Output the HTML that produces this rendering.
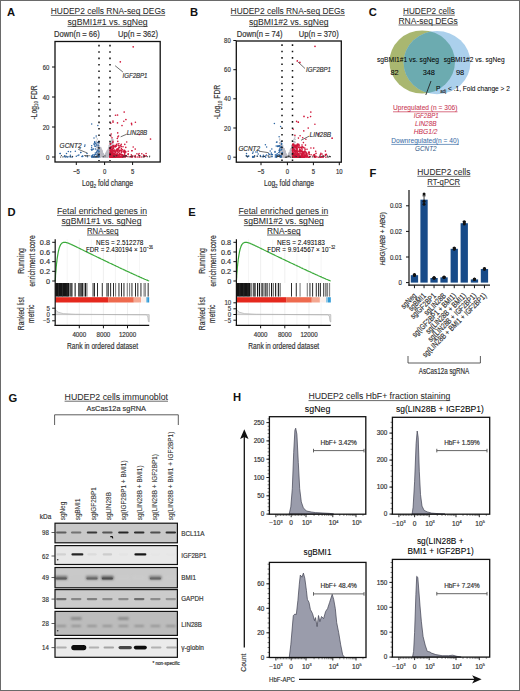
<!DOCTYPE html><html><head><meta charset="utf-8"><style>html,body{margin:0;padding:0;background:#fff}svg{display:block}text{font-family:"Liberation Sans",sans-serif}</style></head><body>
<svg width="520" height="691" viewBox="0 0 520 691">
<rect x="0.00" y="0.00" width="520.00" height="691.00" fill="#fff"/>
<text x="7.00" y="16.30" font-size="11.2" fill="#111" font-weight="bold">A</text>
<text x="50.80" y="14.00" font-size="8.4" textLength="114.40" lengthAdjust="spacingAndGlyphs" fill="#2a2a2a" stroke="#2a2a2a" stroke-width="0.05">HUDEP2 cells RNA-seq DEGs</text>
<line x1="50.80" y1="15.40" x2="165.20" y2="15.40" stroke="#2a2a2a" stroke-width="0.7"/>
<text x="67.50" y="25.00" font-size="8.4" textLength="80.20" lengthAdjust="spacingAndGlyphs" fill="#2a2a2a" stroke="#2a2a2a" stroke-width="0.05">sgBMI1#1 vs. sgNeg</text>
<line x1="67.50" y1="26.40" x2="147.70" y2="26.40" stroke="#2a2a2a" stroke-width="0.7"/>
<text x="54.00" y="37.00" font-size="8.2" textLength="45.80" lengthAdjust="spacingAndGlyphs" fill="#333" stroke="#333" stroke-width="0.18">Down(n = 66)</text>
<text x="118.00" y="37.00" font-size="8.2" textLength="40.00" lengthAdjust="spacingAndGlyphs" fill="#333" stroke="#333" stroke-width="0.18">Up(n = 362)</text>
<circle cx="98.5" cy="144.0" r="0.75" fill="#bcbcc4"/>
<circle cx="100.5" cy="152.5" r="0.75" fill="#bcbcc4"/>
<circle cx="107.1" cy="154.0" r="0.75" fill="#bcbcc4"/>
<circle cx="96.7" cy="142.6" r="0.75" fill="#bcbcc4"/>
<circle cx="109.0" cy="157.0" r="0.75" fill="#bcbcc4"/>
<circle cx="108.3" cy="154.8" r="0.75" fill="#bcbcc4"/>
<circle cx="111.3" cy="156.8" r="0.75" fill="#bcbcc4"/>
<circle cx="105.3" cy="155.6" r="0.75" fill="#bcbcc4"/>
<circle cx="99.8" cy="154.8" r="0.75" fill="#bcbcc4"/>
<circle cx="99.9" cy="152.4" r="0.75" fill="#bcbcc4"/>
<circle cx="100.1" cy="155.1" r="0.75" fill="#bcbcc4"/>
<circle cx="103.9" cy="156.8" r="0.75" fill="#bcbcc4"/>
<circle cx="110.3" cy="149.4" r="0.75" fill="#bcbcc4"/>
<circle cx="99.3" cy="143.5" r="0.75" fill="#bcbcc4"/>
<circle cx="98.2" cy="151.8" r="0.75" fill="#bcbcc4"/>
<circle cx="108.1" cy="149.8" r="0.75" fill="#bcbcc4"/>
<circle cx="110.1" cy="149.6" r="0.75" fill="#bcbcc4"/>
<circle cx="106.1" cy="153.7" r="0.75" fill="#bcbcc4"/>
<circle cx="104.7" cy="156.9" r="0.75" fill="#bcbcc4"/>
<circle cx="100.3" cy="149.6" r="0.75" fill="#bcbcc4"/>
<circle cx="99.1" cy="149.6" r="0.75" fill="#bcbcc4"/>
<circle cx="107.5" cy="154.6" r="0.75" fill="#bcbcc4"/>
<circle cx="104.7" cy="156.7" r="0.75" fill="#bcbcc4"/>
<circle cx="102.8" cy="156.0" r="0.75" fill="#bcbcc4"/>
<circle cx="96.9" cy="142.6" r="0.75" fill="#bcbcc4"/>
<circle cx="106.2" cy="155.9" r="0.75" fill="#bcbcc4"/>
<circle cx="104.6" cy="156.9" r="0.75" fill="#bcbcc4"/>
<circle cx="105.3" cy="155.9" r="0.75" fill="#bcbcc4"/>
<circle cx="104.8" cy="156.5" r="0.75" fill="#bcbcc4"/>
<circle cx="103.9" cy="156.6" r="0.75" fill="#bcbcc4"/>
<circle cx="112.3" cy="156.9" r="0.75" fill="#bcbcc4"/>
<circle cx="110.0" cy="145.1" r="0.75" fill="#bcbcc4"/>
<circle cx="109.8" cy="150.8" r="0.75" fill="#bcbcc4"/>
<circle cx="103.4" cy="156.8" r="0.75" fill="#bcbcc4"/>
<circle cx="105.8" cy="156.5" r="0.75" fill="#bcbcc4"/>
<circle cx="104.3" cy="156.8" r="0.75" fill="#bcbcc4"/>
<circle cx="105.2" cy="156.0" r="0.75" fill="#bcbcc4"/>
<circle cx="103.9" cy="157.0" r="0.75" fill="#bcbcc4"/>
<circle cx="99.2" cy="148.8" r="0.75" fill="#bcbcc4"/>
<circle cx="109.6" cy="146.8" r="0.75" fill="#bcbcc4"/>
<circle cx="100.5" cy="148.6" r="0.75" fill="#bcbcc4"/>
<circle cx="97.6" cy="156.9" r="0.75" fill="#bcbcc4"/>
<circle cx="108.9" cy="155.3" r="0.75" fill="#bcbcc4"/>
<circle cx="106.7" cy="156.0" r="0.75" fill="#bcbcc4"/>
<circle cx="98.9" cy="151.8" r="0.75" fill="#bcbcc4"/>
<circle cx="100.8" cy="151.0" r="0.75" fill="#bcbcc4"/>
<circle cx="101.6" cy="155.5" r="0.75" fill="#bcbcc4"/>
<circle cx="102.7" cy="155.6" r="0.75" fill="#bcbcc4"/>
<circle cx="98.0" cy="143.6" r="0.75" fill="#bcbcc4"/>
<circle cx="99.7" cy="149.5" r="0.75" fill="#bcbcc4"/>
<circle cx="96.5" cy="156.8" r="0.75" fill="#bcbcc4"/>
<circle cx="108.3" cy="155.6" r="0.75" fill="#bcbcc4"/>
<circle cx="107.6" cy="154.0" r="0.75" fill="#bcbcc4"/>
<circle cx="112.6" cy="142.5" r="0.75" fill="#bcbcc4"/>
<circle cx="99.9" cy="150.6" r="0.75" fill="#bcbcc4"/>
<circle cx="105.9" cy="156.0" r="0.75" fill="#bcbcc4"/>
<circle cx="97.2" cy="151.1" r="0.75" fill="#bcbcc4"/>
<circle cx="110.9" cy="152.0" r="0.75" fill="#bcbcc4"/>
<circle cx="101.4" cy="149.6" r="0.75" fill="#bcbcc4"/>
<circle cx="103.2" cy="156.7" r="0.75" fill="#bcbcc4"/>
<circle cx="111.0" cy="156.4" r="0.75" fill="#bcbcc4"/>
<circle cx="112.4" cy="149.4" r="0.75" fill="#bcbcc4"/>
<circle cx="110.8" cy="142.2" r="0.75" fill="#bcbcc4"/>
<circle cx="104.7" cy="156.9" r="0.75" fill="#bcbcc4"/>
<circle cx="99.7" cy="149.8" r="0.75" fill="#bcbcc4"/>
<circle cx="99.5" cy="155.7" r="0.75" fill="#bcbcc4"/>
<circle cx="101.2" cy="153.5" r="0.75" fill="#bcbcc4"/>
<circle cx="110.8" cy="151.5" r="0.75" fill="#bcbcc4"/>
<circle cx="99.6" cy="152.6" r="0.75" fill="#bcbcc4"/>
<circle cx="109.3" cy="154.1" r="0.75" fill="#bcbcc4"/>
<circle cx="107.5" cy="150.5" r="0.75" fill="#bcbcc4"/>
<circle cx="102.0" cy="151.4" r="0.75" fill="#bcbcc4"/>
<circle cx="104.3" cy="156.5" r="0.75" fill="#bcbcc4"/>
<circle cx="108.4" cy="156.4" r="0.75" fill="#bcbcc4"/>
<circle cx="111.5" cy="153.3" r="0.75" fill="#bcbcc4"/>
<circle cx="106.3" cy="154.0" r="0.75" fill="#bcbcc4"/>
<circle cx="101.9" cy="155.0" r="0.75" fill="#bcbcc4"/>
<circle cx="106.3" cy="152.7" r="0.75" fill="#bcbcc4"/>
<circle cx="98.5" cy="151.9" r="0.75" fill="#bcbcc4"/>
<circle cx="96.9" cy="155.5" r="0.75" fill="#bcbcc4"/>
<circle cx="109.4" cy="148.8" r="0.75" fill="#bcbcc4"/>
<circle cx="106.5" cy="153.8" r="0.75" fill="#bcbcc4"/>
<circle cx="105.8" cy="156.6" r="0.75" fill="#bcbcc4"/>
<circle cx="100.7" cy="148.9" r="0.75" fill="#bcbcc4"/>
<circle cx="111.7" cy="150.6" r="0.75" fill="#bcbcc4"/>
<circle cx="109.4" cy="153.4" r="0.75" fill="#bcbcc4"/>
<circle cx="107.5" cy="156.6" r="0.75" fill="#bcbcc4"/>
<circle cx="111.1" cy="156.5" r="0.75" fill="#bcbcc4"/>
<circle cx="112.8" cy="151.6" r="0.75" fill="#bcbcc4"/>
<circle cx="99.0" cy="153.6" r="0.75" fill="#bcbcc4"/>
<circle cx="97.9" cy="144.2" r="0.75" fill="#bcbcc4"/>
<circle cx="112.5" cy="142.8" r="0.75" fill="#bcbcc4"/>
<circle cx="100.5" cy="154.0" r="0.75" fill="#bcbcc4"/>
<circle cx="107.2" cy="156.9" r="0.75" fill="#bcbcc4"/>
<circle cx="112.7" cy="151.4" r="0.75" fill="#bcbcc4"/>
<circle cx="103.8" cy="156.6" r="0.75" fill="#bcbcc4"/>
<circle cx="111.5" cy="139.1" r="0.75" fill="#bcbcc4"/>
<circle cx="98.1" cy="153.7" r="0.75" fill="#bcbcc4"/>
<circle cx="112.7" cy="146.3" r="0.75" fill="#bcbcc4"/>
<circle cx="107.3" cy="155.4" r="0.75" fill="#bcbcc4"/>
<circle cx="101.4" cy="155.9" r="0.75" fill="#bcbcc4"/>
<circle cx="100.9" cy="149.1" r="0.75" fill="#bcbcc4"/>
<circle cx="107.2" cy="152.7" r="0.75" fill="#bcbcc4"/>
<circle cx="102.8" cy="155.9" r="0.75" fill="#bcbcc4"/>
<circle cx="101.5" cy="150.2" r="0.75" fill="#bcbcc4"/>
<circle cx="101.3" cy="154.5" r="0.75" fill="#bcbcc4"/>
<circle cx="105.9" cy="155.5" r="0.75" fill="#bcbcc4"/>
<circle cx="96.5" cy="154.3" r="0.75" fill="#bcbcc4"/>
<circle cx="105.5" cy="156.9" r="0.75" fill="#bcbcc4"/>
<circle cx="106.9" cy="155.3" r="0.75" fill="#bcbcc4"/>
<circle cx="104.5" cy="156.8" r="0.75" fill="#bcbcc4"/>
<circle cx="104.6" cy="157.0" r="0.75" fill="#bcbcc4"/>
<circle cx="112.1" cy="153.7" r="0.75" fill="#bcbcc4"/>
<circle cx="112.7" cy="143.5" r="0.75" fill="#bcbcc4"/>
<circle cx="98.0" cy="148.1" r="0.75" fill="#bcbcc4"/>
<circle cx="101.1" cy="151.9" r="0.75" fill="#bcbcc4"/>
<circle cx="111.5" cy="156.6" r="0.75" fill="#bcbcc4"/>
<circle cx="111.4" cy="142.8" r="0.75" fill="#bcbcc4"/>
<circle cx="110.3" cy="146.6" r="0.75" fill="#bcbcc4"/>
<circle cx="99.2" cy="153.1" r="0.75" fill="#bcbcc4"/>
<circle cx="108.2" cy="152.4" r="0.75" fill="#bcbcc4"/>
<circle cx="97.3" cy="139.1" r="0.75" fill="#bcbcc4"/>
<circle cx="105.4" cy="155.8" r="0.75" fill="#bcbcc4"/>
<circle cx="103.8" cy="156.4" r="0.75" fill="#bcbcc4"/>
<circle cx="100.5" cy="156.8" r="0.75" fill="#bcbcc4"/>
<circle cx="103.2" cy="155.9" r="0.75" fill="#bcbcc4"/>
<circle cx="102.2" cy="156.5" r="0.75" fill="#bcbcc4"/>
<circle cx="100.6" cy="149.9" r="0.75" fill="#bcbcc4"/>
<circle cx="102.9" cy="155.1" r="0.75" fill="#bcbcc4"/>
<circle cx="96.3" cy="147.1" r="0.75" fill="#bcbcc4"/>
<circle cx="107.1" cy="154.3" r="0.75" fill="#bcbcc4"/>
<circle cx="108.5" cy="154.9" r="0.75" fill="#bcbcc4"/>
<circle cx="104.2" cy="156.8" r="0.75" fill="#bcbcc4"/>
<circle cx="105.6" cy="154.6" r="0.75" fill="#bcbcc4"/>
<circle cx="100.8" cy="153.9" r="0.75" fill="#bcbcc4"/>
<circle cx="97.4" cy="147.5" r="0.75" fill="#bcbcc4"/>
<circle cx="98.9" cy="145.6" r="0.75" fill="#bcbcc4"/>
<circle cx="101.4" cy="151.4" r="0.75" fill="#bcbcc4"/>
<circle cx="102.4" cy="153.2" r="0.75" fill="#bcbcc4"/>
<circle cx="106.2" cy="153.5" r="0.75" fill="#bcbcc4"/>
<circle cx="112.3" cy="149.3" r="0.75" fill="#bcbcc4"/>
<circle cx="100.4" cy="154.9" r="0.75" fill="#bcbcc4"/>
<circle cx="108.9" cy="156.5" r="0.75" fill="#bcbcc4"/>
<circle cx="108.2" cy="154.1" r="0.75" fill="#bcbcc4"/>
<circle cx="99.0" cy="152.1" r="0.75" fill="#bcbcc4"/>
<circle cx="112.7" cy="141.4" r="0.75" fill="#bcbcc4"/>
<circle cx="100.7" cy="147.5" r="0.75" fill="#bcbcc4"/>
<circle cx="98.5" cy="144.9" r="0.75" fill="#bcbcc4"/>
<circle cx="107.3" cy="152.9" r="0.75" fill="#bcbcc4"/>
<circle cx="111.7" cy="142.4" r="0.75" fill="#bcbcc4"/>
<circle cx="109.7" cy="153.2" r="0.75" fill="#bcbcc4"/>
<circle cx="101.7" cy="156.0" r="0.75" fill="#bcbcc4"/>
<circle cx="112.3" cy="154.8" r="0.75" fill="#bcbcc4"/>
<circle cx="103.1" cy="156.6" r="0.75" fill="#bcbcc4"/>
<circle cx="100.4" cy="154.9" r="0.75" fill="#bcbcc4"/>
<circle cx="99.4" cy="154.7" r="0.75" fill="#bcbcc4"/>
<circle cx="106.7" cy="153.7" r="0.75" fill="#bcbcc4"/>
<circle cx="99.7" cy="153.8" r="0.75" fill="#bcbcc4"/>
<circle cx="100.8" cy="152.8" r="0.75" fill="#bcbcc4"/>
<circle cx="107.7" cy="150.8" r="0.75" fill="#bcbcc4"/>
<circle cx="112.6" cy="147.3" r="0.75" fill="#bcbcc4"/>
<circle cx="110.6" cy="146.3" r="0.75" fill="#bcbcc4"/>
<circle cx="102.6" cy="156.1" r="0.75" fill="#bcbcc4"/>
<circle cx="109.8" cy="155.5" r="0.75" fill="#bcbcc4"/>
<circle cx="105.4" cy="155.2" r="0.75" fill="#bcbcc4"/>
<circle cx="112.6" cy="154.6" r="0.75" fill="#bcbcc4"/>
<circle cx="105.8" cy="156.1" r="0.75" fill="#bcbcc4"/>
<circle cx="102.2" cy="156.4" r="0.75" fill="#bcbcc4"/>
<circle cx="103.6" cy="156.1" r="0.75" fill="#bcbcc4"/>
<circle cx="102.9" cy="153.8" r="0.75" fill="#bcbcc4"/>
<circle cx="104.5" cy="156.8" r="0.75" fill="#bcbcc4"/>
<circle cx="99.6" cy="157.0" r="0.75" fill="#bcbcc4"/>
<circle cx="106.2" cy="153.3" r="0.75" fill="#bcbcc4"/>
<circle cx="104.8" cy="156.6" r="0.75" fill="#bcbcc4"/>
<circle cx="110.2" cy="151.3" r="0.75" fill="#bcbcc4"/>
<circle cx="112.8" cy="152.7" r="0.75" fill="#bcbcc4"/>
<circle cx="106.6" cy="154.8" r="0.75" fill="#bcbcc4"/>
<circle cx="96.3" cy="150.0" r="0.75" fill="#bcbcc4"/>
<circle cx="103.0" cy="153.8" r="0.75" fill="#bcbcc4"/>
<circle cx="108.5" cy="148.2" r="0.75" fill="#bcbcc4"/>
<circle cx="104.5" cy="156.8" r="0.75" fill="#bcbcc4"/>
<circle cx="107.1" cy="153.6" r="0.75" fill="#bcbcc4"/>
<circle cx="106.8" cy="153.4" r="0.75" fill="#bcbcc4"/>
<circle cx="109.3" cy="146.9" r="0.75" fill="#bcbcc4"/>
<circle cx="109.9" cy="150.4" r="0.75" fill="#bcbcc4"/>
<circle cx="100.6" cy="149.7" r="0.75" fill="#bcbcc4"/>
<circle cx="105.3" cy="156.7" r="0.75" fill="#bcbcc4"/>
<circle cx="104.3" cy="156.9" r="0.75" fill="#bcbcc4"/>
<circle cx="104.8" cy="156.7" r="0.75" fill="#bcbcc4"/>
<circle cx="102.2" cy="155.4" r="0.75" fill="#bcbcc4"/>
<circle cx="104.7" cy="156.7" r="0.75" fill="#bcbcc4"/>
<circle cx="103.0" cy="154.3" r="0.75" fill="#bcbcc4"/>
<circle cx="99.7" cy="154.4" r="0.75" fill="#bcbcc4"/>
<circle cx="100.7" cy="156.3" r="0.75" fill="#bcbcc4"/>
<circle cx="105.0" cy="156.7" r="0.75" fill="#bcbcc4"/>
<circle cx="108.6" cy="155.4" r="0.75" fill="#bcbcc4"/>
<circle cx="108.2" cy="151.4" r="0.75" fill="#bcbcc4"/>
<circle cx="106.4" cy="156.0" r="0.75" fill="#bcbcc4"/>
<circle cx="99.1" cy="145.8" r="0.75" fill="#bcbcc4"/>
<circle cx="101.7" cy="155.3" r="0.75" fill="#bcbcc4"/>
<circle cx="108.1" cy="153.7" r="0.75" fill="#bcbcc4"/>
<circle cx="111.3" cy="148.6" r="0.75" fill="#bcbcc4"/>
<circle cx="103.5" cy="154.8" r="0.75" fill="#bcbcc4"/>
<circle cx="99.4" cy="151.4" r="0.75" fill="#bcbcc4"/>
<circle cx="112.5" cy="147.8" r="0.75" fill="#bcbcc4"/>
<circle cx="108.4" cy="152.5" r="0.75" fill="#bcbcc4"/>
<circle cx="105.0" cy="156.9" r="0.75" fill="#bcbcc4"/>
<circle cx="108.2" cy="153.7" r="0.75" fill="#bcbcc4"/>
<circle cx="100.2" cy="149.3" r="0.75" fill="#bcbcc4"/>
<circle cx="101.3" cy="156.3" r="0.75" fill="#bcbcc4"/>
<circle cx="104.5" cy="157.0" r="0.75" fill="#bcbcc4"/>
<circle cx="97.1" cy="145.4" r="0.75" fill="#bcbcc4"/>
<circle cx="99.8" cy="156.6" r="0.75" fill="#bcbcc4"/>
<circle cx="109.9" cy="144.9" r="0.75" fill="#bcbcc4"/>
<circle cx="102.0" cy="153.5" r="0.75" fill="#bcbcc4"/>
<circle cx="107.8" cy="156.3" r="0.75" fill="#bcbcc4"/>
<circle cx="104.5" cy="156.9" r="0.75" fill="#bcbcc4"/>
<circle cx="100.1" cy="148.8" r="0.75" fill="#bcbcc4"/>
<circle cx="105.9" cy="156.3" r="0.75" fill="#bcbcc4"/>
<circle cx="101.7" cy="152.6" r="0.75" fill="#bcbcc4"/>
<circle cx="112.9" cy="156.0" r="0.75" fill="#bcbcc4"/>
<circle cx="110.6" cy="153.0" r="0.75" fill="#bcbcc4"/>
<circle cx="105.9" cy="154.4" r="0.75" fill="#bcbcc4"/>
<circle cx="111.0" cy="148.9" r="0.75" fill="#bcbcc4"/>
<circle cx="111.5" cy="156.8" r="0.75" fill="#bcbcc4"/>
<circle cx="107.4" cy="156.7" r="0.75" fill="#bcbcc4"/>
<circle cx="98.4" cy="149.6" r="0.75" fill="#bcbcc4"/>
<circle cx="111.4" cy="156.7" r="0.75" fill="#bcbcc4"/>
<circle cx="110.3" cy="156.5" r="0.75" fill="#bcbcc4"/>
<circle cx="98.2" cy="156.4" r="0.75" fill="#bcbcc4"/>
<circle cx="106.9" cy="152.8" r="0.75" fill="#bcbcc4"/>
<circle cx="110.4" cy="148.9" r="0.75" fill="#bcbcc4"/>
<circle cx="106.8" cy="151.9" r="0.75" fill="#bcbcc4"/>
<circle cx="100.3" cy="156.3" r="0.75" fill="#bcbcc4"/>
<circle cx="106.1" cy="155.7" r="0.75" fill="#bcbcc4"/>
<circle cx="105.6" cy="156.3" r="0.75" fill="#bcbcc4"/>
<circle cx="102.1" cy="155.2" r="0.75" fill="#bcbcc4"/>
<circle cx="111.0" cy="150.5" r="0.75" fill="#bcbcc4"/>
<circle cx="108.2" cy="150.4" r="0.75" fill="#bcbcc4"/>
<circle cx="108.8" cy="154.2" r="0.75" fill="#bcbcc4"/>
<circle cx="98.7" cy="143.1" r="0.75" fill="#bcbcc4"/>
<circle cx="110.5" cy="156.5" r="0.75" fill="#bcbcc4"/>
<circle cx="109.9" cy="151.8" r="0.75" fill="#bcbcc4"/>
<circle cx="112.7" cy="156.3" r="0.75" fill="#bcbcc4"/>
<circle cx="103.6" cy="156.7" r="0.75" fill="#bcbcc4"/>
<circle cx="108.1" cy="153.7" r="0.75" fill="#bcbcc4"/>
<circle cx="105.0" cy="156.9" r="0.75" fill="#bcbcc4"/>
<circle cx="97.6" cy="156.5" r="0.75" fill="#bcbcc4"/>
<circle cx="108.5" cy="155.0" r="0.75" fill="#bcbcc4"/>
<circle cx="109.5" cy="146.7" r="0.75" fill="#bcbcc4"/>
<circle cx="101.3" cy="154.4" r="0.75" fill="#bcbcc4"/>
<circle cx="105.6" cy="156.4" r="0.75" fill="#bcbcc4"/>
<circle cx="109.4" cy="146.3" r="0.75" fill="#bcbcc4"/>
<circle cx="98.0" cy="147.5" r="0.75" fill="#bcbcc4"/>
<circle cx="112.8" cy="141.9" r="0.75" fill="#bcbcc4"/>
<circle cx="108.0" cy="152.3" r="0.75" fill="#bcbcc4"/>
<circle cx="110.2" cy="154.3" r="0.75" fill="#bcbcc4"/>
<circle cx="102.4" cy="155.3" r="0.75" fill="#bcbcc4"/>
<circle cx="102.0" cy="155.2" r="0.75" fill="#bcbcc4"/>
<circle cx="109.9" cy="150.1" r="0.75" fill="#bcbcc4"/>
<circle cx="101.2" cy="154.6" r="0.75" fill="#bcbcc4"/>
<circle cx="108.8" cy="152.2" r="0.75" fill="#bcbcc4"/>
<circle cx="98.7" cy="146.1" r="0.75" fill="#bcbcc4"/>
<circle cx="101.7" cy="156.5" r="0.75" fill="#bcbcc4"/>
<circle cx="104.3" cy="156.2" r="0.75" fill="#bcbcc4"/>
<circle cx="112.5" cy="140.1" r="0.75" fill="#bcbcc4"/>
<circle cx="111.7" cy="147.8" r="0.75" fill="#bcbcc4"/>
<circle cx="105.0" cy="156.4" r="0.75" fill="#bcbcc4"/>
<circle cx="109.4" cy="148.7" r="0.75" fill="#bcbcc4"/>
<circle cx="102.3" cy="151.7" r="0.75" fill="#bcbcc4"/>
<circle cx="103.0" cy="155.0" r="0.75" fill="#bcbcc4"/>
<circle cx="105.1" cy="156.8" r="0.75" fill="#bcbcc4"/>
<circle cx="107.7" cy="152.4" r="0.75" fill="#bcbcc4"/>
<circle cx="99.3" cy="151.6" r="0.75" fill="#bcbcc4"/>
<circle cx="97.0" cy="155.3" r="0.75" fill="#bcbcc4"/>
<circle cx="100.7" cy="156.2" r="0.75" fill="#bcbcc4"/>
<circle cx="106.8" cy="155.3" r="0.75" fill="#bcbcc4"/>
<circle cx="97.4" cy="142.4" r="0.75" fill="#bcbcc4"/>
<circle cx="99.1" cy="152.1" r="0.75" fill="#bcbcc4"/>
<circle cx="102.4" cy="152.4" r="0.75" fill="#bcbcc4"/>
<circle cx="101.0" cy="149.4" r="0.75" fill="#bcbcc4"/>
<circle cx="110.7" cy="145.1" r="0.75" fill="#bcbcc4"/>
<circle cx="107.6" cy="152.8" r="0.75" fill="#bcbcc4"/>
<circle cx="109.6" cy="147.7" r="0.75" fill="#bcbcc4"/>
<circle cx="113.0" cy="153.1" r="0.75" fill="#bcbcc4"/>
<circle cx="108.7" cy="149.8" r="0.75" fill="#bcbcc4"/>
<circle cx="104.4" cy="156.8" r="0.75" fill="#bcbcc4"/>
<circle cx="109.6" cy="153.5" r="0.75" fill="#bcbcc4"/>
<circle cx="110.5" cy="152.2" r="0.75" fill="#bcbcc4"/>
<circle cx="101.2" cy="155.3" r="0.75" fill="#bcbcc4"/>
<circle cx="98.2" cy="152.0" r="0.75" fill="#bcbcc4"/>
<circle cx="108.7" cy="147.7" r="0.75" fill="#bcbcc4"/>
<circle cx="105.8" cy="155.5" r="0.75" fill="#bcbcc4"/>
<circle cx="105.3" cy="155.5" r="0.75" fill="#bcbcc4"/>
<circle cx="103.1" cy="155.1" r="0.75" fill="#bcbcc4"/>
<circle cx="101.3" cy="153.1" r="0.75" fill="#bcbcc4"/>
<circle cx="105.4" cy="155.6" r="0.75" fill="#bcbcc4"/>
<circle cx="106.9" cy="151.3" r="0.75" fill="#bcbcc4"/>
<circle cx="105.7" cy="156.1" r="0.75" fill="#bcbcc4"/>
<circle cx="111.9" cy="141.1" r="0.75" fill="#bcbcc4"/>
<circle cx="111.3" cy="141.1" r="0.75" fill="#bcbcc4"/>
<circle cx="102.6" cy="154.7" r="0.75" fill="#bcbcc4"/>
<circle cx="102.5" cy="153.4" r="0.75" fill="#bcbcc4"/>
<circle cx="101.9" cy="155.0" r="0.75" fill="#bcbcc4"/>
<circle cx="102.2" cy="156.0" r="0.75" fill="#bcbcc4"/>
<circle cx="99.1" cy="153.3" r="0.75" fill="#bcbcc4"/>
<circle cx="106.1" cy="155.8" r="0.75" fill="#bcbcc4"/>
<circle cx="100.5" cy="151.8" r="0.75" fill="#bcbcc4"/>
<circle cx="107.8" cy="153.5" r="0.75" fill="#bcbcc4"/>
<circle cx="104.4" cy="156.6" r="0.75" fill="#bcbcc4"/>
<circle cx="112.5" cy="148.6" r="0.75" fill="#bcbcc4"/>
<circle cx="98.4" cy="145.8" r="0.75" fill="#bcbcc4"/>
<circle cx="96.6" cy="152.5" r="0.75" fill="#bcbcc4"/>
<circle cx="112.2" cy="149.5" r="0.75" fill="#bcbcc4"/>
<circle cx="110.2" cy="155.8" r="0.75" fill="#bcbcc4"/>
<circle cx="112.9" cy="146.5" r="0.75" fill="#bcbcc4"/>
<circle cx="102.0" cy="150.5" r="0.75" fill="#bcbcc4"/>
<circle cx="97.9" cy="149.1" r="0.75" fill="#bcbcc4"/>
<circle cx="107.5" cy="156.3" r="0.75" fill="#bcbcc4"/>
<circle cx="100.9" cy="152.5" r="0.75" fill="#bcbcc4"/>
<circle cx="110.6" cy="145.5" r="0.75" fill="#bcbcc4"/>
<circle cx="97.7" cy="150.5" r="0.75" fill="#bcbcc4"/>
<circle cx="101.1" cy="152.4" r="0.75" fill="#bcbcc4"/>
<circle cx="98.2" cy="148.6" r="0.75" fill="#bcbcc4"/>
<circle cx="102.7" cy="153.9" r="0.75" fill="#bcbcc4"/>
<circle cx="104.9" cy="156.6" r="0.75" fill="#bcbcc4"/>
<circle cx="112.9" cy="151.6" r="0.75" fill="#bcbcc4"/>
<circle cx="111.2" cy="150.4" r="0.75" fill="#bcbcc4"/>
<circle cx="109.0" cy="153.7" r="0.75" fill="#bcbcc4"/>
<circle cx="96.3" cy="137.3" r="0.75" fill="#bcbcc4"/>
<circle cx="111.8" cy="143.7" r="0.75" fill="#bcbcc4"/>
<circle cx="105.3" cy="156.3" r="0.75" fill="#bcbcc4"/>
<circle cx="110.4" cy="154.5" r="0.75" fill="#bcbcc4"/>
<circle cx="108.1" cy="154.7" r="0.75" fill="#bcbcc4"/>
<circle cx="99.5" cy="150.2" r="0.75" fill="#bcbcc4"/>
<circle cx="112.3" cy="147.3" r="0.75" fill="#bcbcc4"/>
<circle cx="98.7" cy="152.2" r="0.75" fill="#bcbcc4"/>
<circle cx="107.9" cy="155.4" r="0.75" fill="#bcbcc4"/>
<circle cx="102.4" cy="154.9" r="0.75" fill="#bcbcc4"/>
<circle cx="106.4" cy="156.2" r="0.75" fill="#bcbcc4"/>
<circle cx="107.9" cy="154.7" r="0.75" fill="#bcbcc4"/>
<circle cx="101.7" cy="152.2" r="0.75" fill="#bcbcc4"/>
<circle cx="109.8" cy="147.6" r="0.75" fill="#bcbcc4"/>
<circle cx="104.5" cy="156.9" r="0.75" fill="#bcbcc4"/>
<circle cx="98.6" cy="154.7" r="0.75" fill="#bcbcc4"/>
<circle cx="105.3" cy="155.9" r="0.75" fill="#bcbcc4"/>
<circle cx="107.7" cy="155.7" r="0.75" fill="#bcbcc4"/>
<circle cx="105.7" cy="154.8" r="0.75" fill="#bcbcc4"/>
<circle cx="96.3" cy="156.7" r="0.75" fill="#bcbcc4"/>
<circle cx="106.5" cy="156.7" r="0.75" fill="#bcbcc4"/>
<circle cx="107.6" cy="150.9" r="0.75" fill="#bcbcc4"/>
<circle cx="106.3" cy="156.1" r="0.75" fill="#bcbcc4"/>
<circle cx="101.7" cy="156.2" r="0.75" fill="#bcbcc4"/>
<circle cx="109.1" cy="153.3" r="0.75" fill="#bcbcc4"/>
<circle cx="97.5" cy="149.2" r="0.75" fill="#bcbcc4"/>
<circle cx="101.5" cy="156.0" r="0.75" fill="#bcbcc4"/>
<circle cx="96.7" cy="154.7" r="0.75" fill="#bcbcc4"/>
<circle cx="111.9" cy="148.3" r="0.75" fill="#bcbcc4"/>
<circle cx="107.6" cy="155.1" r="0.75" fill="#bcbcc4"/>
<circle cx="101.6" cy="151.1" r="0.75" fill="#bcbcc4"/>
<circle cx="109.7" cy="148.6" r="0.75" fill="#bcbcc4"/>
<circle cx="106.4" cy="153.7" r="0.75" fill="#bcbcc4"/>
<circle cx="107.6" cy="152.7" r="0.75" fill="#bcbcc4"/>
<circle cx="105.7" cy="155.8" r="0.75" fill="#bcbcc4"/>
<circle cx="111.3" cy="147.2" r="0.75" fill="#bcbcc4"/>
<circle cx="97.1" cy="150.4" r="0.75" fill="#bcbcc4"/>
<circle cx="99.8" cy="152.2" r="0.75" fill="#bcbcc4"/>
<circle cx="100.4" cy="154.4" r="0.75" fill="#bcbcc4"/>
<circle cx="104.2" cy="156.7" r="0.75" fill="#bcbcc4"/>
<circle cx="102.5" cy="153.8" r="0.75" fill="#bcbcc4"/>
<circle cx="105.4" cy="155.4" r="0.75" fill="#bcbcc4"/>
<circle cx="107.7" cy="156.8" r="0.75" fill="#bcbcc4"/>
<circle cx="107.7" cy="155.7" r="0.75" fill="#bcbcc4"/>
<circle cx="98.6" cy="147.3" r="0.75" fill="#bcbcc4"/>
<circle cx="110.3" cy="147.1" r="0.75" fill="#bcbcc4"/>
<circle cx="111.1" cy="154.3" r="0.75" fill="#bcbcc4"/>
<circle cx="102.6" cy="155.6" r="0.75" fill="#bcbcc4"/>
<circle cx="106.3" cy="155.9" r="0.75" fill="#bcbcc4"/>
<circle cx="109.6" cy="154.6" r="0.75" fill="#bcbcc4"/>
<circle cx="112.2" cy="140.2" r="0.75" fill="#bcbcc4"/>
<circle cx="102.6" cy="154.0" r="0.75" fill="#bcbcc4"/>
<circle cx="103.9" cy="155.8" r="0.75" fill="#bcbcc4"/>
<circle cx="103.3" cy="154.4" r="0.75" fill="#bcbcc4"/>
<circle cx="106.4" cy="156.8" r="0.75" fill="#bcbcc4"/>
<circle cx="96.8" cy="154.7" r="0.75" fill="#bcbcc4"/>
<circle cx="96.9" cy="155.6" r="0.75" fill="#bcbcc4"/>
<circle cx="104.7" cy="156.9" r="0.75" fill="#bcbcc4"/>
<circle cx="112.7" cy="139.2" r="0.75" fill="#bcbcc4"/>
<circle cx="109.7" cy="149.2" r="0.75" fill="#bcbcc4"/>
<circle cx="109.8" cy="154.1" r="0.75" fill="#bcbcc4"/>
<circle cx="102.2" cy="156.0" r="0.75" fill="#bcbcc4"/>
<circle cx="111.6" cy="151.3" r="0.75" fill="#bcbcc4"/>
<circle cx="102.0" cy="152.5" r="0.75" fill="#bcbcc4"/>
<circle cx="109.2" cy="156.4" r="0.75" fill="#bcbcc4"/>
<circle cx="102.5" cy="155.4" r="0.75" fill="#bcbcc4"/>
<circle cx="103.6" cy="155.3" r="0.75" fill="#bcbcc4"/>
<circle cx="104.9" cy="157.0" r="0.75" fill="#bcbcc4"/>
<circle cx="111.2" cy="154.3" r="0.75" fill="#bcbcc4"/>
<circle cx="104.4" cy="156.8" r="0.75" fill="#bcbcc4"/>
<circle cx="112.6" cy="156.5" r="0.75" fill="#bcbcc4"/>
<circle cx="102.6" cy="154.2" r="0.75" fill="#bcbcc4"/>
<circle cx="108.2" cy="156.3" r="0.75" fill="#bcbcc4"/>
<circle cx="112.5" cy="143.9" r="0.75" fill="#bcbcc4"/>
<circle cx="103.9" cy="156.3" r="0.75" fill="#bcbcc4"/>
<circle cx="109.2" cy="151.1" r="0.75" fill="#bcbcc4"/>
<circle cx="103.6" cy="155.7" r="0.75" fill="#bcbcc4"/>
<circle cx="111.8" cy="147.0" r="0.75" fill="#bcbcc4"/>
<circle cx="102.5" cy="156.8" r="0.75" fill="#bcbcc4"/>
<circle cx="97.5" cy="153.7" r="0.75" fill="#bcbcc4"/>
<circle cx="107.4" cy="152.6" r="0.75" fill="#bcbcc4"/>
<circle cx="98.8" cy="142.6" r="0.75" fill="#bcbcc4"/>
<circle cx="112.1" cy="156.7" r="0.75" fill="#bcbcc4"/>
<circle cx="106.8" cy="152.7" r="0.75" fill="#bcbcc4"/>
<circle cx="105.2" cy="156.8" r="0.75" fill="#bcbcc4"/>
<circle cx="109.7" cy="143.9" r="0.75" fill="#bcbcc4"/>
<circle cx="107.3" cy="155.3" r="0.75" fill="#bcbcc4"/>
<circle cx="109.2" cy="145.5" r="0.75" fill="#bcbcc4"/>
<circle cx="99.2" cy="149.8" r="0.75" fill="#bcbcc4"/>
<circle cx="103.4" cy="154.4" r="0.75" fill="#bcbcc4"/>
<circle cx="108.4" cy="150.5" r="0.75" fill="#bcbcc4"/>
<circle cx="107.2" cy="154.4" r="0.75" fill="#bcbcc4"/>
<circle cx="109.3" cy="155.7" r="0.75" fill="#bcbcc4"/>
<circle cx="102.7" cy="154.5" r="0.75" fill="#bcbcc4"/>
<circle cx="104.2" cy="156.4" r="0.75" fill="#bcbcc4"/>
<circle cx="96.4" cy="141.3" r="0.75" fill="#bcbcc4"/>
<circle cx="100.9" cy="153.4" r="0.75" fill="#bcbcc4"/>
<circle cx="112.8" cy="145.4" r="0.75" fill="#bcbcc4"/>
<circle cx="105.2" cy="156.4" r="0.75" fill="#bcbcc4"/>
<circle cx="103.2" cy="156.5" r="0.75" fill="#bcbcc4"/>
<circle cx="102.7" cy="156.0" r="0.75" fill="#bcbcc4"/>
<circle cx="102.2" cy="156.2" r="0.75" fill="#bcbcc4"/>
<circle cx="110.4" cy="146.2" r="0.75" fill="#bcbcc4"/>
<circle cx="108.5" cy="154.9" r="0.75" fill="#bcbcc4"/>
<circle cx="100.5" cy="154.2" r="0.75" fill="#bcbcc4"/>
<circle cx="104.1" cy="156.9" r="0.75" fill="#bcbcc4"/>
<circle cx="100.4" cy="154.9" r="0.75" fill="#bcbcc4"/>
<circle cx="105.2" cy="156.7" r="0.75" fill="#bcbcc4"/>
<circle cx="110.8" cy="148.7" r="0.75" fill="#bcbcc4"/>
<circle cx="102.8" cy="156.1" r="0.75" fill="#bcbcc4"/>
<circle cx="97.5" cy="149.7" r="0.75" fill="#bcbcc4"/>
<circle cx="108.7" cy="153.1" r="0.75" fill="#bcbcc4"/>
<circle cx="106.1" cy="156.5" r="0.75" fill="#bcbcc4"/>
<circle cx="97.4" cy="153.4" r="0.75" fill="#bcbcc4"/>
<circle cx="101.0" cy="150.6" r="0.75" fill="#bcbcc4"/>
<circle cx="102.2" cy="153.3" r="0.75" fill="#bcbcc4"/>
<circle cx="108.1" cy="154.2" r="0.75" fill="#bcbcc4"/>
<circle cx="97.7" cy="146.6" r="0.75" fill="#bcbcc4"/>
<circle cx="104.0" cy="156.5" r="0.75" fill="#bcbcc4"/>
<circle cx="106.2" cy="154.6" r="0.75" fill="#bcbcc4"/>
<circle cx="100.5" cy="156.4" r="0.75" fill="#bcbcc4"/>
<circle cx="101.5" cy="150.3" r="0.75" fill="#bcbcc4"/>
<circle cx="106.8" cy="156.4" r="0.75" fill="#bcbcc4"/>
<circle cx="106.8" cy="156.0" r="0.75" fill="#bcbcc4"/>
<circle cx="104.7" cy="157.0" r="0.75" fill="#bcbcc4"/>
<circle cx="108.1" cy="151.0" r="0.75" fill="#bcbcc4"/>
<circle cx="111.7" cy="154.7" r="0.75" fill="#bcbcc4"/>
<circle cx="100.5" cy="157.0" r="0.75" fill="#bcbcc4"/>
<circle cx="99.6" cy="149.0" r="0.75" fill="#bcbcc4"/>
<circle cx="104.3" cy="156.6" r="0.75" fill="#bcbcc4"/>
<circle cx="106.9" cy="152.9" r="0.75" fill="#bcbcc4"/>
<circle cx="104.6" cy="156.9" r="0.75" fill="#bcbcc4"/>
<circle cx="109.1" cy="153.3" r="0.75" fill="#bcbcc4"/>
<circle cx="97.8" cy="148.0" r="0.75" fill="#bcbcc4"/>
<circle cx="105.6" cy="156.4" r="0.75" fill="#bcbcc4"/>
<circle cx="99.8" cy="147.9" r="0.75" fill="#bcbcc4"/>
<circle cx="111.7" cy="147.4" r="0.75" fill="#bcbcc4"/>
<circle cx="107.6" cy="156.7" r="0.75" fill="#bcbcc4"/>
<circle cx="103.6" cy="154.8" r="0.75" fill="#bcbcc4"/>
<circle cx="99.4" cy="151.0" r="0.75" fill="#bcbcc4"/>
<circle cx="99.5" cy="152.3" r="0.75" fill="#bcbcc4"/>
<circle cx="112.7" cy="148.5" r="0.75" fill="#bcbcc4"/>
<circle cx="111.4" cy="149.0" r="0.75" fill="#bcbcc4"/>
<circle cx="99.2" cy="154.9" r="0.75" fill="#bcbcc4"/>
<circle cx="101.0" cy="156.7" r="0.75" fill="#bcbcc4"/>
<circle cx="112.8" cy="142.4" r="0.75" fill="#bcbcc4"/>
<circle cx="112.9" cy="140.1" r="0.75" fill="#bcbcc4"/>
<circle cx="107.1" cy="154.5" r="0.75" fill="#bcbcc4"/>
<circle cx="104.1" cy="155.9" r="0.75" fill="#bcbcc4"/>
<circle cx="111.5" cy="149.9" r="0.75" fill="#bcbcc4"/>
<circle cx="106.1" cy="156.2" r="0.75" fill="#bcbcc4"/>
<circle cx="106.1" cy="154.5" r="0.75" fill="#bcbcc4"/>
<circle cx="110.7" cy="144.9" r="0.75" fill="#bcbcc4"/>
<circle cx="103.2" cy="153.4" r="0.75" fill="#bcbcc4"/>
<circle cx="105.9" cy="156.7" r="0.75" fill="#bcbcc4"/>
<circle cx="96.4" cy="142.0" r="0.75" fill="#bcbcc4"/>
<circle cx="102.4" cy="154.1" r="0.75" fill="#bcbcc4"/>
<circle cx="106.0" cy="155.4" r="0.75" fill="#bcbcc4"/>
<circle cx="110.4" cy="151.1" r="0.75" fill="#bcbcc4"/>
<circle cx="109.8" cy="157.0" r="0.75" fill="#bcbcc4"/>
<circle cx="101.7" cy="155.4" r="0.75" fill="#bcbcc4"/>
<circle cx="98.7" cy="155.7" r="0.75" fill="#bcbcc4"/>
<circle cx="104.7" cy="156.7" r="0.75" fill="#bcbcc4"/>
<circle cx="110.5" cy="152.8" r="0.75" fill="#bcbcc4"/>
<circle cx="97.3" cy="145.2" r="0.75" fill="#bcbcc4"/>
<circle cx="100.7" cy="148.2" r="0.75" fill="#bcbcc4"/>
<circle cx="105.8" cy="155.9" r="0.75" fill="#bcbcc4"/>
<circle cx="99.1" cy="147.0" r="0.75" fill="#bcbcc4"/>
<circle cx="97.6" cy="152.1" r="0.75" fill="#bcbcc4"/>
<circle cx="100.6" cy="155.4" r="0.75" fill="#bcbcc4"/>
<circle cx="104.3" cy="156.5" r="0.75" fill="#bcbcc4"/>
<circle cx="95.3" cy="152.9" r="0.75" fill="#2d66a3"/>
<circle cx="97.8" cy="142.6" r="0.75" fill="#2d66a3"/>
<circle cx="64.7" cy="155.8" r="0.75" fill="#2d66a3"/>
<circle cx="94.1" cy="157.0" r="0.75" fill="#2d66a3"/>
<circle cx="94.1" cy="143.7" r="0.75" fill="#2d66a3"/>
<circle cx="95.6" cy="149.1" r="0.75" fill="#2d66a3"/>
<circle cx="75.3" cy="151.3" r="0.75" fill="#2d66a3"/>
<circle cx="98.8" cy="156.6" r="0.75" fill="#2d66a3"/>
<circle cx="64.3" cy="156.6" r="0.75" fill="#2d66a3"/>
<circle cx="98.9" cy="141.6" r="0.75" fill="#2d66a3"/>
<circle cx="91.6" cy="147.8" r="0.75" fill="#2d66a3"/>
<circle cx="92.0" cy="157.0" r="0.75" fill="#2d66a3"/>
<circle cx="80.0" cy="148.3" r="0.75" fill="#2d66a3"/>
<circle cx="60.1" cy="153.5" r="0.75" fill="#2d66a3"/>
<circle cx="93.3" cy="157.0" r="0.75" fill="#2d66a3"/>
<circle cx="98.4" cy="155.2" r="0.75" fill="#2d66a3"/>
<circle cx="97.4" cy="153.9" r="0.75" fill="#2d66a3"/>
<circle cx="66.9" cy="156.8" r="0.75" fill="#2d66a3"/>
<circle cx="70.6" cy="151.8" r="0.75" fill="#2d66a3"/>
<circle cx="96.6" cy="157.0" r="0.75" fill="#2d66a3"/>
<circle cx="98.8" cy="149.9" r="0.75" fill="#2d66a3"/>
<circle cx="94.5" cy="155.9" r="0.75" fill="#2d66a3"/>
<circle cx="72.3" cy="157.0" r="0.75" fill="#2d66a3"/>
<circle cx="94.6" cy="145.9" r="0.75" fill="#2d66a3"/>
<circle cx="95.7" cy="143.2" r="0.75" fill="#2d66a3"/>
<circle cx="78.0" cy="155.6" r="0.75" fill="#2d66a3"/>
<circle cx="80.8" cy="152.6" r="0.75" fill="#2d66a3"/>
<circle cx="96.6" cy="145.1" r="0.75" fill="#2d66a3"/>
<circle cx="78.9" cy="155.1" r="0.75" fill="#2d66a3"/>
<circle cx="81.9" cy="156.6" r="0.75" fill="#2d66a3"/>
<circle cx="95.5" cy="156.9" r="0.75" fill="#2d66a3"/>
<circle cx="92.5" cy="155.8" r="0.75" fill="#2d66a3"/>
<circle cx="94.6" cy="142.6" r="0.75" fill="#2d66a3"/>
<circle cx="82.6" cy="156.1" r="0.75" fill="#2d66a3"/>
<circle cx="95.1" cy="154.4" r="0.75" fill="#2d66a3"/>
<circle cx="60.1" cy="153.6" r="0.75" fill="#2d66a3"/>
<circle cx="71.0" cy="157.0" r="0.75" fill="#2d66a3"/>
<circle cx="95.6" cy="146.3" r="0.75" fill="#2d66a3"/>
<circle cx="67.4" cy="157.0" r="0.75" fill="#2d66a3"/>
<circle cx="91.3" cy="149.5" r="0.75" fill="#2d66a3"/>
<circle cx="94.7" cy="141.7" r="0.75" fill="#2d66a3"/>
<circle cx="68.3" cy="151.4" r="0.75" fill="#2d66a3"/>
<circle cx="66.5" cy="153.5" r="0.75" fill="#2d66a3"/>
<circle cx="95.8" cy="154.3" r="0.75" fill="#2d66a3"/>
<circle cx="97.0" cy="151.8" r="0.75" fill="#2d66a3"/>
<circle cx="92.8" cy="156.8" r="0.75" fill="#2d66a3"/>
<circle cx="91.9" cy="150.3" r="0.75" fill="#2d66a3"/>
<circle cx="82.7" cy="156.6" r="0.75" fill="#2d66a3"/>
<circle cx="98.4" cy="156.4" r="0.75" fill="#2d66a3"/>
<circle cx="94.0" cy="138.0" r="0.75" fill="#2d66a3"/>
<circle cx="94.5" cy="155.0" r="0.75" fill="#2d66a3"/>
<circle cx="94.8" cy="157.0" r="0.75" fill="#2d66a3"/>
<circle cx="96.0" cy="144.0" r="0.75" fill="#2d66a3"/>
<circle cx="97.7" cy="150.3" r="0.75" fill="#2d66a3"/>
<circle cx="70.4" cy="155.2" r="0.75" fill="#2d66a3"/>
<circle cx="99.0" cy="155.0" r="0.75" fill="#2d66a3"/>
<circle cx="96.5" cy="152.2" r="0.75" fill="#2d66a3"/>
<circle cx="87.0" cy="153.6" r="0.75" fill="#2d66a3"/>
<circle cx="84.6" cy="146.3" r="0.75" fill="#2d66a3"/>
<circle cx="98.8" cy="152.0" r="0.75" fill="#2d66a3"/>
<circle cx="98.7" cy="142.7" r="0.75" fill="#2d66a3"/>
<circle cx="80.7" cy="152.4" r="0.75" fill="#2d66a3"/>
<circle cx="94.2" cy="144.6" r="0.75" fill="#2d66a3"/>
<circle cx="99.0" cy="151.6" r="0.75" fill="#2d66a3"/>
<circle cx="99.0" cy="157.0" r="0.75" fill="#2d66a3"/>
<circle cx="98.4" cy="155.2" r="0.75" fill="#2d66a3"/>
<circle cx="69.0" cy="156.7" r="0.75" fill="#2d66a3"/>
<circle cx="92.5" cy="155.7" r="0.75" fill="#2d66a3"/>
<circle cx="76.3" cy="156.3" r="0.75" fill="#2d66a3"/>
<circle cx="99.0" cy="156.2" r="0.75" fill="#2d66a3"/>
<circle cx="87.5" cy="156.7" r="0.75" fill="#2d66a3"/>
<circle cx="92.3" cy="156.7" r="0.75" fill="#2d66a3"/>
<circle cx="91.8" cy="156.9" r="0.75" fill="#2d66a3"/>
<circle cx="65.3" cy="157.0" r="0.75" fill="#2d66a3"/>
<circle cx="97.6" cy="150.6" r="0.75" fill="#2d66a3"/>
<circle cx="93.6" cy="149.1" r="0.75" fill="#2d66a3"/>
<circle cx="98.4" cy="147.3" r="0.75" fill="#2d66a3"/>
<circle cx="91.7" cy="145.7" r="0.75" fill="#2d66a3"/>
<circle cx="97.9" cy="155.6" r="0.75" fill="#2d66a3"/>
<circle cx="98.2" cy="157.0" r="0.75" fill="#2d66a3"/>
<circle cx="98.4" cy="154.5" r="0.75" fill="#2d66a3"/>
<circle cx="92.7" cy="149.2" r="0.75" fill="#2d66a3"/>
<circle cx="91.3" cy="156.1" r="0.75" fill="#2d66a3"/>
<circle cx="98.2" cy="145.2" r="0.75" fill="#2d66a3"/>
<circle cx="93.0" cy="154.8" r="0.75" fill="#2d66a3"/>
<circle cx="97.9" cy="125.5" r="0.75" fill="#2d66a3"/>
<circle cx="91.7" cy="124.0" r="0.75" fill="#2d66a3"/>
<circle cx="96.2" cy="136.0" r="0.75" fill="#2d66a3"/>
<circle cx="85.0" cy="145.0" r="0.75" fill="#2d66a3"/>
<circle cx="110.3" cy="148.4" r="0.8" fill="#d0173a"/>
<circle cx="124.3" cy="151.6" r="0.8" fill="#d0173a"/>
<circle cx="126.7" cy="142.0" r="0.8" fill="#d0173a"/>
<circle cx="112.4" cy="154.9" r="0.8" fill="#d0173a"/>
<circle cx="110.2" cy="156.8" r="0.8" fill="#d0173a"/>
<circle cx="115.5" cy="146.7" r="0.8" fill="#d0173a"/>
<circle cx="112.3" cy="156.2" r="0.8" fill="#d0173a"/>
<circle cx="110.6" cy="156.9" r="0.8" fill="#d0173a"/>
<circle cx="111.2" cy="151.4" r="0.8" fill="#d0173a"/>
<circle cx="121.9" cy="155.7" r="0.8" fill="#d0173a"/>
<circle cx="115.2" cy="146.4" r="0.8" fill="#d0173a"/>
<circle cx="138.5" cy="154.7" r="0.8" fill="#d0173a"/>
<circle cx="110.8" cy="153.1" r="0.8" fill="#d0173a"/>
<circle cx="125.8" cy="147.4" r="0.8" fill="#d0173a"/>
<circle cx="124.8" cy="153.5" r="0.8" fill="#d0173a"/>
<circle cx="139.1" cy="153.6" r="0.8" fill="#d0173a"/>
<circle cx="117.4" cy="155.4" r="0.8" fill="#d0173a"/>
<circle cx="124.4" cy="157.0" r="0.8" fill="#d0173a"/>
<circle cx="116.4" cy="144.4" r="0.8" fill="#d0173a"/>
<circle cx="111.3" cy="147.3" r="0.8" fill="#d0173a"/>
<circle cx="113.0" cy="155.3" r="0.8" fill="#d0173a"/>
<circle cx="124.2" cy="150.4" r="0.8" fill="#d0173a"/>
<circle cx="110.4" cy="156.8" r="0.8" fill="#d0173a"/>
<circle cx="122.8" cy="156.7" r="0.8" fill="#d0173a"/>
<circle cx="111.9" cy="153.5" r="0.8" fill="#d0173a"/>
<circle cx="124.6" cy="151.9" r="0.8" fill="#d0173a"/>
<circle cx="113.4" cy="146.7" r="0.8" fill="#d0173a"/>
<circle cx="114.0" cy="153.5" r="0.8" fill="#d0173a"/>
<circle cx="113.4" cy="156.9" r="0.8" fill="#d0173a"/>
<circle cx="119.6" cy="156.8" r="0.8" fill="#d0173a"/>
<circle cx="110.7" cy="155.2" r="0.8" fill="#d0173a"/>
<circle cx="112.5" cy="152.0" r="0.8" fill="#d0173a"/>
<circle cx="139.6" cy="157.0" r="0.8" fill="#d0173a"/>
<circle cx="110.9" cy="155.4" r="0.8" fill="#d0173a"/>
<circle cx="121.4" cy="150.9" r="0.8" fill="#d0173a"/>
<circle cx="110.3" cy="143.8" r="0.8" fill="#d0173a"/>
<circle cx="110.2" cy="157.0" r="0.8" fill="#d0173a"/>
<circle cx="115.4" cy="156.8" r="0.8" fill="#d0173a"/>
<circle cx="112.0" cy="149.6" r="0.8" fill="#d0173a"/>
<circle cx="125.8" cy="152.1" r="0.8" fill="#d0173a"/>
<circle cx="126.0" cy="156.1" r="0.8" fill="#d0173a"/>
<circle cx="110.3" cy="156.9" r="0.8" fill="#d0173a"/>
<circle cx="122.0" cy="157.0" r="0.8" fill="#d0173a"/>
<circle cx="112.1" cy="155.7" r="0.8" fill="#d0173a"/>
<circle cx="114.8" cy="156.8" r="0.8" fill="#d0173a"/>
<circle cx="124.4" cy="155.8" r="0.8" fill="#d0173a"/>
<circle cx="110.3" cy="154.5" r="0.8" fill="#d0173a"/>
<circle cx="112.8" cy="142.5" r="0.8" fill="#d0173a"/>
<circle cx="115.5" cy="152.5" r="0.8" fill="#d0173a"/>
<circle cx="117.6" cy="155.6" r="0.8" fill="#d0173a"/>
<circle cx="112.9" cy="153.3" r="0.8" fill="#d0173a"/>
<circle cx="122.3" cy="154.9" r="0.8" fill="#d0173a"/>
<circle cx="121.3" cy="144.3" r="0.8" fill="#d0173a"/>
<circle cx="118.8" cy="156.2" r="0.8" fill="#d0173a"/>
<circle cx="110.5" cy="156.0" r="0.8" fill="#d0173a"/>
<circle cx="118.2" cy="145.6" r="0.8" fill="#d0173a"/>
<circle cx="125.6" cy="156.0" r="0.8" fill="#d0173a"/>
<circle cx="115.3" cy="152.7" r="0.8" fill="#d0173a"/>
<circle cx="112.6" cy="155.5" r="0.8" fill="#d0173a"/>
<circle cx="118.7" cy="147.9" r="0.8" fill="#d0173a"/>
<circle cx="117.9" cy="151.1" r="0.8" fill="#d0173a"/>
<circle cx="110.4" cy="149.2" r="0.8" fill="#d0173a"/>
<circle cx="110.7" cy="154.4" r="0.8" fill="#d0173a"/>
<circle cx="144.1" cy="155.6" r="0.8" fill="#d0173a"/>
<circle cx="112.0" cy="137.7" r="0.8" fill="#d0173a"/>
<circle cx="111.2" cy="146.6" r="0.8" fill="#d0173a"/>
<circle cx="117.2" cy="153.5" r="0.8" fill="#d0173a"/>
<circle cx="135.2" cy="149.1" r="0.8" fill="#d0173a"/>
<circle cx="125.6" cy="155.5" r="0.8" fill="#d0173a"/>
<circle cx="123.4" cy="151.9" r="0.8" fill="#d0173a"/>
<circle cx="115.3" cy="154.5" r="0.8" fill="#d0173a"/>
<circle cx="115.3" cy="156.6" r="0.8" fill="#d0173a"/>
<circle cx="124.6" cy="152.3" r="0.8" fill="#d0173a"/>
<circle cx="115.7" cy="157.0" r="0.8" fill="#d0173a"/>
<circle cx="125.3" cy="156.8" r="0.8" fill="#d0173a"/>
<circle cx="117.2" cy="149.7" r="0.8" fill="#d0173a"/>
<circle cx="113.5" cy="148.0" r="0.8" fill="#d0173a"/>
<circle cx="121.3" cy="157.0" r="0.8" fill="#d0173a"/>
<circle cx="111.3" cy="156.5" r="0.8" fill="#d0173a"/>
<circle cx="110.8" cy="154.3" r="0.8" fill="#d0173a"/>
<circle cx="110.5" cy="156.9" r="0.8" fill="#d0173a"/>
<circle cx="117.8" cy="141.4" r="0.8" fill="#d0173a"/>
<circle cx="135.1" cy="156.9" r="0.8" fill="#d0173a"/>
<circle cx="110.8" cy="148.9" r="0.8" fill="#d0173a"/>
<circle cx="120.4" cy="156.9" r="0.8" fill="#d0173a"/>
<circle cx="113.0" cy="122.3" r="0.8" fill="#d0173a"/>
<circle cx="122.7" cy="156.9" r="0.8" fill="#d0173a"/>
<circle cx="113.9" cy="145.3" r="0.8" fill="#d0173a"/>
<circle cx="114.5" cy="156.6" r="0.8" fill="#d0173a"/>
<circle cx="113.3" cy="146.4" r="0.8" fill="#d0173a"/>
<circle cx="122.2" cy="157.0" r="0.8" fill="#d0173a"/>
<circle cx="125.0" cy="152.0" r="0.8" fill="#d0173a"/>
<circle cx="120.7" cy="156.4" r="0.8" fill="#d0173a"/>
<circle cx="122.4" cy="156.9" r="0.8" fill="#d0173a"/>
<circle cx="110.3" cy="156.7" r="0.8" fill="#d0173a"/>
<circle cx="112.0" cy="155.9" r="0.8" fill="#d0173a"/>
<circle cx="114.2" cy="154.3" r="0.8" fill="#d0173a"/>
<circle cx="116.3" cy="155.5" r="0.8" fill="#d0173a"/>
<circle cx="119.3" cy="156.6" r="0.8" fill="#d0173a"/>
<circle cx="113.6" cy="154.2" r="0.8" fill="#d0173a"/>
<circle cx="115.0" cy="155.6" r="0.8" fill="#d0173a"/>
<circle cx="144.0" cy="155.7" r="0.8" fill="#d0173a"/>
<circle cx="118.7" cy="155.6" r="0.8" fill="#d0173a"/>
<circle cx="113.8" cy="153.8" r="0.8" fill="#d0173a"/>
<circle cx="115.0" cy="156.4" r="0.8" fill="#d0173a"/>
<circle cx="110.9" cy="152.2" r="0.8" fill="#d0173a"/>
<circle cx="120.0" cy="145.9" r="0.8" fill="#d0173a"/>
<circle cx="117.0" cy="151.3" r="0.8" fill="#d0173a"/>
<circle cx="112.5" cy="152.2" r="0.8" fill="#d0173a"/>
<circle cx="119.7" cy="153.6" r="0.8" fill="#d0173a"/>
<circle cx="115.8" cy="156.9" r="0.8" fill="#d0173a"/>
<circle cx="118.1" cy="150.9" r="0.8" fill="#d0173a"/>
<circle cx="112.8" cy="146.0" r="0.8" fill="#d0173a"/>
<circle cx="122.0" cy="125.6" r="0.8" fill="#d0173a"/>
<circle cx="114.0" cy="157.0" r="0.8" fill="#d0173a"/>
<circle cx="112.8" cy="150.2" r="0.8" fill="#d0173a"/>
<circle cx="113.4" cy="148.2" r="0.8" fill="#d0173a"/>
<circle cx="113.1" cy="156.7" r="0.8" fill="#d0173a"/>
<circle cx="118.9" cy="143.8" r="0.8" fill="#d0173a"/>
<circle cx="112.2" cy="156.3" r="0.8" fill="#d0173a"/>
<circle cx="116.9" cy="150.4" r="0.8" fill="#d0173a"/>
<circle cx="133.2" cy="147.0" r="0.8" fill="#d0173a"/>
<circle cx="125.0" cy="156.7" r="0.8" fill="#d0173a"/>
<circle cx="111.2" cy="134.0" r="0.8" fill="#d0173a"/>
<circle cx="110.5" cy="155.5" r="0.8" fill="#d0173a"/>
<circle cx="131.6" cy="156.7" r="0.8" fill="#d0173a"/>
<circle cx="112.4" cy="156.6" r="0.8" fill="#d0173a"/>
<circle cx="114.4" cy="153.8" r="0.8" fill="#d0173a"/>
<circle cx="110.9" cy="136.1" r="0.8" fill="#d0173a"/>
<circle cx="110.6" cy="155.2" r="0.8" fill="#d0173a"/>
<circle cx="122.9" cy="155.4" r="0.8" fill="#d0173a"/>
<circle cx="114.0" cy="153.2" r="0.8" fill="#d0173a"/>
<circle cx="132.4" cy="156.9" r="0.8" fill="#d0173a"/>
<circle cx="110.2" cy="154.5" r="0.8" fill="#d0173a"/>
<circle cx="120.9" cy="156.5" r="0.8" fill="#d0173a"/>
<circle cx="136.9" cy="153.7" r="0.8" fill="#d0173a"/>
<circle cx="113.0" cy="156.9" r="0.8" fill="#d0173a"/>
<circle cx="146.3" cy="155.9" r="0.8" fill="#d0173a"/>
<circle cx="117.5" cy="156.7" r="0.8" fill="#d0173a"/>
<circle cx="112.3" cy="149.4" r="0.8" fill="#d0173a"/>
<circle cx="112.5" cy="152.9" r="0.8" fill="#d0173a"/>
<circle cx="110.3" cy="156.2" r="0.8" fill="#d0173a"/>
<circle cx="117.5" cy="154.2" r="0.8" fill="#d0173a"/>
<circle cx="115.5" cy="157.0" r="0.8" fill="#d0173a"/>
<circle cx="137.2" cy="157.0" r="0.8" fill="#d0173a"/>
<circle cx="120.1" cy="154.7" r="0.8" fill="#d0173a"/>
<circle cx="131.3" cy="154.9" r="0.8" fill="#d0173a"/>
<circle cx="135.2" cy="155.5" r="0.8" fill="#d0173a"/>
<circle cx="113.7" cy="150.6" r="0.8" fill="#d0173a"/>
<circle cx="115.9" cy="155.4" r="0.8" fill="#d0173a"/>
<circle cx="114.6" cy="155.1" r="0.8" fill="#d0173a"/>
<circle cx="110.6" cy="157.0" r="0.8" fill="#d0173a"/>
<circle cx="111.7" cy="154.0" r="0.8" fill="#d0173a"/>
<circle cx="110.3" cy="148.4" r="0.8" fill="#d0173a"/>
<circle cx="117.3" cy="138.5" r="0.8" fill="#d0173a"/>
<circle cx="110.4" cy="153.1" r="0.8" fill="#d0173a"/>
<circle cx="143.6" cy="155.0" r="0.8" fill="#d0173a"/>
<circle cx="113.1" cy="145.8" r="0.8" fill="#d0173a"/>
<circle cx="114.1" cy="149.7" r="0.8" fill="#d0173a"/>
<circle cx="110.3" cy="152.3" r="0.8" fill="#d0173a"/>
<circle cx="118.4" cy="157.0" r="0.8" fill="#d0173a"/>
<circle cx="123.2" cy="156.8" r="0.8" fill="#d0173a"/>
<circle cx="110.4" cy="153.5" r="0.8" fill="#d0173a"/>
<circle cx="114.3" cy="156.8" r="0.8" fill="#d0173a"/>
<circle cx="115.7" cy="152.8" r="0.8" fill="#d0173a"/>
<circle cx="110.2" cy="152.2" r="0.8" fill="#d0173a"/>
<circle cx="116.5" cy="154.4" r="0.8" fill="#d0173a"/>
<circle cx="125.8" cy="155.6" r="0.8" fill="#d0173a"/>
<circle cx="118.5" cy="136.0" r="0.8" fill="#d0173a"/>
<circle cx="110.8" cy="150.3" r="0.8" fill="#d0173a"/>
<circle cx="115.9" cy="156.5" r="0.8" fill="#d0173a"/>
<circle cx="117.3" cy="149.2" r="0.8" fill="#d0173a"/>
<circle cx="119.9" cy="154.7" r="0.8" fill="#d0173a"/>
<circle cx="114.0" cy="151.6" r="0.8" fill="#d0173a"/>
<circle cx="110.3" cy="156.7" r="0.8" fill="#d0173a"/>
<circle cx="131.5" cy="123.4" r="0.8" fill="#d0173a"/>
<circle cx="121.4" cy="148.6" r="0.8" fill="#d0173a"/>
<circle cx="111.8" cy="156.8" r="0.8" fill="#d0173a"/>
<circle cx="135.4" cy="122.3" r="0.8" fill="#d0173a"/>
<circle cx="118.8" cy="145.8" r="0.8" fill="#d0173a"/>
<circle cx="110.5" cy="144.1" r="0.8" fill="#d0173a"/>
<circle cx="119.7" cy="151.8" r="0.8" fill="#d0173a"/>
<circle cx="113.8" cy="157.0" r="0.8" fill="#d0173a"/>
<circle cx="124.8" cy="150.5" r="0.8" fill="#d0173a"/>
<circle cx="110.4" cy="150.7" r="0.8" fill="#d0173a"/>
<circle cx="116.9" cy="150.6" r="0.8" fill="#d0173a"/>
<circle cx="117.7" cy="132.9" r="0.8" fill="#d0173a"/>
<circle cx="115.9" cy="150.8" r="0.8" fill="#d0173a"/>
<circle cx="110.3" cy="156.8" r="0.8" fill="#d0173a"/>
<circle cx="115.3" cy="155.7" r="0.8" fill="#d0173a"/>
<circle cx="112.6" cy="157.0" r="0.8" fill="#d0173a"/>
<circle cx="111.2" cy="156.6" r="0.8" fill="#d0173a"/>
<circle cx="125.6" cy="156.8" r="0.8" fill="#d0173a"/>
<circle cx="115.7" cy="156.2" r="0.8" fill="#d0173a"/>
<circle cx="115.2" cy="151.4" r="0.8" fill="#d0173a"/>
<circle cx="116.3" cy="155.9" r="0.8" fill="#d0173a"/>
<circle cx="113.4" cy="148.2" r="0.8" fill="#d0173a"/>
<circle cx="119.7" cy="157.0" r="0.8" fill="#d0173a"/>
<circle cx="121.0" cy="154.5" r="0.8" fill="#d0173a"/>
<circle cx="117.9" cy="156.6" r="0.8" fill="#d0173a"/>
<circle cx="146.1" cy="153.5" r="0.8" fill="#d0173a"/>
<circle cx="124.2" cy="155.2" r="0.8" fill="#d0173a"/>
<circle cx="116.8" cy="156.9" r="0.8" fill="#d0173a"/>
<circle cx="118.0" cy="144.0" r="0.8" fill="#d0173a"/>
<circle cx="110.4" cy="150.7" r="0.8" fill="#d0173a"/>
<circle cx="135.3" cy="157.0" r="0.8" fill="#d0173a"/>
<circle cx="119.9" cy="150.4" r="0.8" fill="#d0173a"/>
<circle cx="131.7" cy="124.7" r="0.8" fill="#d0173a"/>
<circle cx="118.7" cy="157.0" r="0.8" fill="#d0173a"/>
<circle cx="121.4" cy="152.5" r="0.8" fill="#d0173a"/>
<circle cx="121.9" cy="151.4" r="0.8" fill="#d0173a"/>
<circle cx="131.6" cy="156.3" r="0.8" fill="#d0173a"/>
<circle cx="110.4" cy="156.2" r="0.8" fill="#d0173a"/>
<circle cx="110.8" cy="155.3" r="0.8" fill="#d0173a"/>
<circle cx="116.0" cy="146.2" r="0.8" fill="#d0173a"/>
<circle cx="115.3" cy="154.6" r="0.8" fill="#d0173a"/>
<circle cx="128.2" cy="151.2" r="0.8" fill="#d0173a"/>
<circle cx="110.5" cy="155.8" r="0.8" fill="#d0173a"/>
<circle cx="116.9" cy="156.5" r="0.8" fill="#d0173a"/>
<circle cx="116.1" cy="156.1" r="0.8" fill="#d0173a"/>
<circle cx="111.5" cy="153.6" r="0.8" fill="#d0173a"/>
<circle cx="118.5" cy="148.7" r="0.8" fill="#d0173a"/>
<circle cx="131.8" cy="150.8" r="0.8" fill="#d0173a"/>
<circle cx="141.8" cy="153.7" r="0.8" fill="#d0173a"/>
<circle cx="119.3" cy="155.9" r="0.8" fill="#d0173a"/>
<circle cx="119.6" cy="150.8" r="0.8" fill="#d0173a"/>
<circle cx="115.8" cy="156.8" r="0.8" fill="#d0173a"/>
<circle cx="145.0" cy="156.1" r="0.8" fill="#d0173a"/>
<circle cx="114.3" cy="157.0" r="0.8" fill="#d0173a"/>
<circle cx="119.8" cy="157.0" r="0.8" fill="#d0173a"/>
<circle cx="141.3" cy="157.0" r="0.8" fill="#d0173a"/>
<circle cx="112.3" cy="157.0" r="0.8" fill="#d0173a"/>
<circle cx="110.2" cy="155.7" r="0.8" fill="#d0173a"/>
<circle cx="115.0" cy="151.8" r="0.8" fill="#d0173a"/>
<circle cx="139.0" cy="157.0" r="0.8" fill="#d0173a"/>
<circle cx="122.4" cy="156.2" r="0.8" fill="#d0173a"/>
<circle cx="125.5" cy="151.6" r="0.8" fill="#d0173a"/>
<circle cx="116.5" cy="150.4" r="0.8" fill="#d0173a"/>
<circle cx="116.9" cy="156.8" r="0.8" fill="#d0173a"/>
<circle cx="114.1" cy="146.7" r="0.8" fill="#d0173a"/>
<circle cx="112.3" cy="156.9" r="0.8" fill="#d0173a"/>
<circle cx="111.4" cy="156.4" r="0.8" fill="#d0173a"/>
<circle cx="115.3" cy="145.7" r="0.8" fill="#d0173a"/>
<circle cx="128.0" cy="156.7" r="0.8" fill="#d0173a"/>
<circle cx="113.7" cy="157.0" r="0.8" fill="#d0173a"/>
<circle cx="120.2" cy="150.4" r="0.8" fill="#d0173a"/>
<circle cx="111.1" cy="151.5" r="0.8" fill="#d0173a"/>
<circle cx="120.3" cy="154.3" r="0.8" fill="#d0173a"/>
<circle cx="110.3" cy="156.3" r="0.8" fill="#d0173a"/>
<circle cx="118.5" cy="152.8" r="0.8" fill="#d0173a"/>
<circle cx="124.5" cy="154.2" r="0.8" fill="#d0173a"/>
<circle cx="110.9" cy="156.2" r="0.8" fill="#d0173a"/>
<circle cx="116.3" cy="145.9" r="0.8" fill="#d0173a"/>
<circle cx="112.3" cy="155.9" r="0.8" fill="#d0173a"/>
<circle cx="110.2" cy="148.8" r="0.8" fill="#d0173a"/>
<circle cx="110.4" cy="150.0" r="0.8" fill="#d0173a"/>
<circle cx="111.8" cy="156.2" r="0.8" fill="#d0173a"/>
<circle cx="113.3" cy="156.9" r="0.8" fill="#d0173a"/>
<circle cx="128.1" cy="154.6" r="0.8" fill="#d0173a"/>
<circle cx="110.4" cy="150.7" r="0.8" fill="#d0173a"/>
<circle cx="111.1" cy="154.0" r="0.8" fill="#d0173a"/>
<circle cx="143.9" cy="157.0" r="0.8" fill="#d0173a"/>
<circle cx="110.2" cy="156.7" r="0.8" fill="#d0173a"/>
<circle cx="111.1" cy="155.8" r="0.8" fill="#d0173a"/>
<circle cx="110.2" cy="155.9" r="0.8" fill="#d0173a"/>
<circle cx="115.1" cy="146.7" r="0.8" fill="#d0173a"/>
<circle cx="114.9" cy="155.9" r="0.8" fill="#d0173a"/>
<circle cx="114.1" cy="154.9" r="0.8" fill="#d0173a"/>
<circle cx="113.7" cy="157.0" r="0.8" fill="#d0173a"/>
<circle cx="112.0" cy="156.4" r="0.8" fill="#d0173a"/>
<circle cx="122.5" cy="149.8" r="0.8" fill="#d0173a"/>
<circle cx="121.3" cy="146.6" r="0.8" fill="#d0173a"/>
<circle cx="117.9" cy="156.8" r="0.8" fill="#d0173a"/>
<circle cx="112.8" cy="156.0" r="0.8" fill="#d0173a"/>
<circle cx="110.9" cy="150.3" r="0.8" fill="#d0173a"/>
<circle cx="132.1" cy="150.8" r="0.8" fill="#d0173a"/>
<circle cx="110.9" cy="153.3" r="0.8" fill="#d0173a"/>
<circle cx="110.7" cy="156.9" r="0.8" fill="#d0173a"/>
<circle cx="110.3" cy="147.5" r="0.8" fill="#d0173a"/>
<circle cx="110.3" cy="153.4" r="0.8" fill="#d0173a"/>
<circle cx="110.5" cy="155.5" r="0.8" fill="#d0173a"/>
<circle cx="110.8" cy="147.9" r="0.8" fill="#d0173a"/>
<circle cx="120.8" cy="145.2" r="0.8" fill="#d0173a"/>
<circle cx="123.8" cy="121.2" r="0.8" fill="#d0173a"/>
<circle cx="112.2" cy="154.0" r="0.8" fill="#d0173a"/>
<circle cx="112.5" cy="148.0" r="0.8" fill="#d0173a"/>
<circle cx="121.6" cy="154.3" r="0.8" fill="#d0173a"/>
<circle cx="115.5" cy="115.3" r="0.8" fill="#d0173a"/>
<circle cx="112.7" cy="151.8" r="0.8" fill="#d0173a"/>
<circle cx="117.9" cy="152.1" r="0.8" fill="#d0173a"/>
<circle cx="111.0" cy="156.4" r="0.8" fill="#d0173a"/>
<circle cx="110.3" cy="149.1" r="0.8" fill="#d0173a"/>
<circle cx="128.2" cy="153.8" r="0.8" fill="#d0173a"/>
<circle cx="117.9" cy="136.9" r="0.8" fill="#d0173a"/>
<circle cx="130.5" cy="156.8" r="0.8" fill="#d0173a"/>
<circle cx="119.7" cy="147.4" r="0.8" fill="#d0173a"/>
<circle cx="110.7" cy="150.6" r="0.8" fill="#d0173a"/>
<circle cx="132.9" cy="156.1" r="0.8" fill="#d0173a"/>
<circle cx="124.7" cy="156.1" r="0.8" fill="#d0173a"/>
<circle cx="110.2" cy="156.9" r="0.8" fill="#d0173a"/>
<circle cx="117.4" cy="156.4" r="0.8" fill="#d0173a"/>
<circle cx="112.8" cy="156.6" r="0.8" fill="#d0173a"/>
<circle cx="119.9" cy="154.2" r="0.8" fill="#d0173a"/>
<circle cx="122.0" cy="154.9" r="0.8" fill="#d0173a"/>
<circle cx="125.6" cy="155.7" r="0.8" fill="#d0173a"/>
<circle cx="110.4" cy="150.9" r="0.8" fill="#d0173a"/>
<circle cx="111.9" cy="153.1" r="0.8" fill="#d0173a"/>
<circle cx="117.8" cy="157.0" r="0.8" fill="#d0173a"/>
<circle cx="114.4" cy="150.8" r="0.8" fill="#d0173a"/>
<circle cx="121.6" cy="150.1" r="0.8" fill="#d0173a"/>
<circle cx="114.6" cy="154.9" r="0.8" fill="#d0173a"/>
<circle cx="113.0" cy="141.2" r="0.8" fill="#d0173a"/>
<circle cx="110.2" cy="153.1" r="0.8" fill="#d0173a"/>
<circle cx="110.7" cy="147.5" r="0.8" fill="#d0173a"/>
<circle cx="124.1" cy="150.9" r="0.8" fill="#d0173a"/>
<circle cx="117.5" cy="122.9" r="0.8" fill="#d0173a"/>
<circle cx="118.5" cy="154.7" r="0.8" fill="#d0173a"/>
<circle cx="111.5" cy="155.5" r="0.8" fill="#d0173a"/>
<circle cx="110.8" cy="123.2" r="0.8" fill="#d0173a"/>
<circle cx="112.6" cy="156.4" r="0.8" fill="#d0173a"/>
<circle cx="123.4" cy="156.0" r="0.8" fill="#d0173a"/>
<circle cx="110.8" cy="143.7" r="0.8" fill="#d0173a"/>
<circle cx="115.8" cy="156.7" r="0.8" fill="#d0173a"/>
<circle cx="139.7" cy="155.7" r="0.8" fill="#d0173a"/>
<circle cx="112.4" cy="153.0" r="0.8" fill="#d0173a"/>
<circle cx="131.7" cy="156.9" r="0.8" fill="#d0173a"/>
<circle cx="117.3" cy="156.1" r="0.8" fill="#d0173a"/>
<circle cx="112.5" cy="150.3" r="0.8" fill="#d0173a"/>
<circle cx="114.8" cy="157.0" r="0.8" fill="#d0173a"/>
<circle cx="111.5" cy="157.0" r="0.8" fill="#d0173a"/>
<circle cx="110.8" cy="156.9" r="0.8" fill="#d0173a"/>
<circle cx="117.2" cy="148.7" r="0.8" fill="#d0173a"/>
<circle cx="110.3" cy="154.0" r="0.8" fill="#d0173a"/>
<circle cx="113.6" cy="155.4" r="0.8" fill="#d0173a"/>
<circle cx="123.0" cy="146.7" r="0.8" fill="#d0173a"/>
<circle cx="116.3" cy="149.9" r="0.8" fill="#d0173a"/>
<circle cx="120.9" cy="156.6" r="0.8" fill="#d0173a"/>
<circle cx="118.4" cy="149.8" r="0.8" fill="#d0173a"/>
<circle cx="111.5" cy="156.7" r="0.8" fill="#d0173a"/>
<circle cx="124.8" cy="144.4" r="0.8" fill="#d0173a"/>
<circle cx="133.2" cy="46.8" r="0.85" fill="#d0173a"/>
<circle cx="120.3" cy="61.8" r="0.85" fill="#d0173a"/>
<circle cx="117.5" cy="115.0" r="0.85" fill="#d0173a"/>
<circle cx="124.2" cy="112.0" r="0.85" fill="#d0173a"/>
<circle cx="125.9" cy="119.5" r="0.85" fill="#d0173a"/>
<circle cx="139.3" cy="134.5" r="0.85" fill="#d0173a"/>
<circle cx="150.5" cy="139.0" r="0.85" fill="#d0173a"/>
<circle cx="113.0" cy="121.0" r="0.85" fill="#d0173a"/>
<circle cx="66.0" cy="156.1" r="0.6" fill="#333"/>
<circle cx="149.7" cy="156.1" r="0.6" fill="#333"/>
<circle cx="149.5" cy="156.8" r="0.6" fill="#333"/>
<circle cx="126.3" cy="155.7" r="0.6" fill="#333"/>
<circle cx="70.4" cy="156.7" r="0.6" fill="#333"/>
<circle cx="147.3" cy="156.7" r="0.6" fill="#333"/>
<circle cx="116.8" cy="155.6" r="0.6" fill="#333"/>
<circle cx="125.5" cy="155.8" r="0.6" fill="#333"/>
<circle cx="87.4" cy="155.7" r="0.6" fill="#333"/>
<circle cx="72.6" cy="156.4" r="0.6" fill="#333"/>
<circle cx="105.0" cy="155.9" r="0.6" fill="#333"/>
<circle cx="62.9" cy="156.9" r="0.6" fill="#333"/>
<circle cx="93.8" cy="156.8" r="0.6" fill="#333"/>
<circle cx="143.9" cy="156.3" r="0.6" fill="#333"/>
<circle cx="114.2" cy="156.4" r="0.6" fill="#333"/>
<circle cx="139.2" cy="155.6" r="0.6" fill="#333"/>
<circle cx="143.0" cy="156.9" r="0.6" fill="#333"/>
<circle cx="116.2" cy="155.8" r="0.6" fill="#333"/>
<circle cx="144.6" cy="156.2" r="0.6" fill="#333"/>
<circle cx="103.2" cy="156.7" r="0.6" fill="#333"/>
<circle cx="60.6" cy="157.0" r="0.6" fill="#333"/>
<circle cx="85.5" cy="155.9" r="0.6" fill="#333"/>
<circle cx="97.0" cy="156.2" r="0.6" fill="#333"/>
<circle cx="84.9" cy="155.5" r="0.6" fill="#333"/>
<circle cx="144.8" cy="156.6" r="0.6" fill="#333"/>
<circle cx="95.3" cy="156.8" r="0.6" fill="#333"/>
<circle cx="96.3" cy="156.6" r="0.6" fill="#333"/>
<circle cx="126.9" cy="156.5" r="0.6" fill="#333"/>
<circle cx="123.2" cy="157.0" r="0.6" fill="#333"/>
<circle cx="125.1" cy="156.0" r="0.6" fill="#333"/>
<circle cx="86.6" cy="155.8" r="0.6" fill="#333"/>
<circle cx="139.7" cy="155.6" r="0.6" fill="#333"/>
<circle cx="124.0" cy="156.3" r="0.6" fill="#333"/>
<circle cx="113.8" cy="155.9" r="0.6" fill="#333"/>
<circle cx="89.0" cy="155.7" r="0.6" fill="#333"/>
<circle cx="132.5" cy="156.0" r="0.6" fill="#333"/>
<circle cx="129.9" cy="156.9" r="0.6" fill="#333"/>
<circle cx="134.9" cy="156.3" r="0.6" fill="#333"/>
<circle cx="123.2" cy="156.0" r="0.6" fill="#333"/>
<circle cx="98.9" cy="155.9" r="0.6" fill="#333"/>
<circle cx="139.1" cy="155.5" r="0.6" fill="#333"/>
<circle cx="61.4" cy="155.6" r="0.6" fill="#333"/>
<circle cx="131.4" cy="156.1" r="0.6" fill="#333"/>
<circle cx="130.2" cy="156.5" r="0.6" fill="#333"/>
<circle cx="97.2" cy="156.9" r="0.6" fill="#333"/>
<line x1="99" y1="44.8" x2="99" y2="161" stroke="#111" stroke-width="1.5" stroke-dasharray="1.6 4.8"/>
<line x1="110" y1="44.8" x2="110" y2="161" stroke="#111" stroke-width="1.5" stroke-dasharray="1.6 4.8"/>
<rect x="55.00" y="41.50" width="105.20" height="120.50" fill="none" stroke="#111" stroke-width="1.3"/>
<line x1="52.00" y1="157.00" x2="55.00" y2="157.00" stroke="#111" stroke-width="1"/>
<text x="49.40" y="159.50" font-size="7.0" text-anchor="end" textLength="3.31" lengthAdjust="spacingAndGlyphs" fill="#333" stroke="#333" stroke-width="0.18">0</text>
<line x1="52.00" y1="127.00" x2="55.00" y2="127.00" stroke="#111" stroke-width="1"/>
<text x="49.40" y="129.50" font-size="7.0" text-anchor="end" textLength="6.62" lengthAdjust="spacingAndGlyphs" fill="#333" stroke="#333" stroke-width="0.18">20</text>
<line x1="52.00" y1="97.00" x2="55.00" y2="97.00" stroke="#111" stroke-width="1"/>
<text x="49.40" y="99.50" font-size="7.0" text-anchor="end" textLength="6.62" lengthAdjust="spacingAndGlyphs" fill="#333" stroke="#333" stroke-width="0.18">40</text>
<line x1="52.00" y1="67.00" x2="55.00" y2="67.00" stroke="#111" stroke-width="1"/>
<text x="49.40" y="69.50" font-size="7.0" text-anchor="end" textLength="6.62" lengthAdjust="spacingAndGlyphs" fill="#333" stroke="#333" stroke-width="0.18">60</text>
<line x1="76.30" y1="162.00" x2="76.30" y2="165.00" stroke="#111" stroke-width="1"/>
<text x="76.30" y="173.80" font-size="7.0" text-anchor="middle" textLength="6.78" lengthAdjust="spacingAndGlyphs" fill="#333" stroke="#333" stroke-width="0.18">−5</text>
<line x1="104.60" y1="162.00" x2="104.60" y2="165.00" stroke="#111" stroke-width="1"/>
<text x="104.60" y="173.80" font-size="7.0" text-anchor="middle" textLength="3.31" lengthAdjust="spacingAndGlyphs" fill="#333" stroke="#333" stroke-width="0.18">0</text>
<line x1="132.60" y1="162.00" x2="132.60" y2="165.00" stroke="#111" stroke-width="1"/>
<text x="132.60" y="173.80" font-size="7.0" text-anchor="middle" textLength="3.31" lengthAdjust="spacingAndGlyphs" fill="#333" stroke="#333" stroke-width="0.18">5</text>
<text x="36.70" y="102.40" font-size="9" text-anchor="middle" textLength="34.20" lengthAdjust="spacingAndGlyphs" fill="#333" stroke="#333" stroke-width="0.18" transform="rotate(-90 36.70 102.40)">-Log<tspan font-size="6" dy="1.6">10</tspan><tspan dy="-1.6"> FDR</tspan></text>
<text x="107.60" y="186.00" font-size="8.6" text-anchor="middle" textLength="51.00" lengthAdjust="spacingAndGlyphs" fill="#333" stroke="#333" stroke-width="0.18">Log<tspan font-size="6" dy="1.8">2</tspan><tspan dy="-1.8"> fold change</tspan></text>
<line x1="115.10" y1="65.70" x2="122.90" y2="72.00" stroke="#333" stroke-width="0.7"/>
<text x="122.50" y="77.80" font-size="7.6" textLength="25.00" lengthAdjust="spacingAndGlyphs" fill="#333" stroke="#333" stroke-width="0.18" font-style="italic">IGF2BP1</text>
<line x1="126.70" y1="134.20" x2="120.70" y2="136.80" stroke="#333" stroke-width="0.7"/>
<text x="126.70" y="135.00" font-size="7.6" textLength="20.50" lengthAdjust="spacingAndGlyphs" fill="#333" stroke="#333" stroke-width="0.18" font-style="italic">LIN28B</text>
<line x1="78.20" y1="149.30" x2="87.30" y2="153.00" stroke="#333" stroke-width="0.7"/>
<text x="59.60" y="148.00" font-size="7.6" textLength="22.00" lengthAdjust="spacingAndGlyphs" fill="#333" stroke="#333" stroke-width="0.18" font-style="italic">GCNT2</text>
<text x="190.00" y="16.30" font-size="11.2" fill="#111" font-weight="bold">B</text>
<text x="230.60" y="14.00" font-size="8.4" textLength="114.20" lengthAdjust="spacingAndGlyphs" fill="#2a2a2a" stroke="#2a2a2a" stroke-width="0.05">HUDEP2 cells RNA-seq DEGs</text>
<line x1="230.60" y1="15.40" x2="344.80" y2="15.40" stroke="#2a2a2a" stroke-width="0.7"/>
<text x="249.00" y="25.00" font-size="8.4" textLength="79.50" lengthAdjust="spacingAndGlyphs" fill="#2a2a2a" stroke="#2a2a2a" stroke-width="0.05">sgBMI1#2 vs. sgNeg</text>
<line x1="249.00" y1="26.40" x2="328.50" y2="26.40" stroke="#2a2a2a" stroke-width="0.7"/>
<text x="236.75" y="37.30" font-size="8.2" textLength="45.80" lengthAdjust="spacingAndGlyphs" fill="#333" stroke="#333" stroke-width="0.18">Down(n = 74)</text>
<text x="298.75" y="37.30" font-size="8.2" textLength="40.00" lengthAdjust="spacingAndGlyphs" fill="#333" stroke="#333" stroke-width="0.18">Up(n = 370)</text>
<circle cx="294.5" cy="148.0" r="0.75" fill="#bcbcc4"/>
<circle cx="280.9" cy="143.1" r="0.75" fill="#bcbcc4"/>
<circle cx="290.0" cy="155.2" r="0.75" fill="#bcbcc4"/>
<circle cx="289.1" cy="155.5" r="0.75" fill="#bcbcc4"/>
<circle cx="286.3" cy="156.1" r="0.75" fill="#bcbcc4"/>
<circle cx="295.1" cy="139.5" r="0.75" fill="#bcbcc4"/>
<circle cx="286.5" cy="156.9" r="0.75" fill="#bcbcc4"/>
<circle cx="280.0" cy="150.0" r="0.75" fill="#bcbcc4"/>
<circle cx="285.5" cy="153.2" r="0.75" fill="#bcbcc4"/>
<circle cx="288.3" cy="157.0" r="0.75" fill="#bcbcc4"/>
<circle cx="284.7" cy="156.3" r="0.75" fill="#bcbcc4"/>
<circle cx="295.2" cy="147.6" r="0.75" fill="#bcbcc4"/>
<circle cx="293.5" cy="144.5" r="0.75" fill="#bcbcc4"/>
<circle cx="293.7" cy="144.4" r="0.75" fill="#bcbcc4"/>
<circle cx="285.1" cy="151.0" r="0.75" fill="#bcbcc4"/>
<circle cx="282.1" cy="146.9" r="0.75" fill="#bcbcc4"/>
<circle cx="286.8" cy="156.5" r="0.75" fill="#bcbcc4"/>
<circle cx="294.0" cy="148.3" r="0.75" fill="#bcbcc4"/>
<circle cx="285.1" cy="151.7" r="0.75" fill="#bcbcc4"/>
<circle cx="286.8" cy="156.3" r="0.75" fill="#bcbcc4"/>
<circle cx="290.9" cy="153.9" r="0.75" fill="#bcbcc4"/>
<circle cx="284.7" cy="153.8" r="0.75" fill="#bcbcc4"/>
<circle cx="293.8" cy="152.5" r="0.75" fill="#bcbcc4"/>
<circle cx="284.4" cy="149.9" r="0.75" fill="#bcbcc4"/>
<circle cx="287.5" cy="157.1" r="0.75" fill="#bcbcc4"/>
<circle cx="288.8" cy="156.4" r="0.75" fill="#bcbcc4"/>
<circle cx="287.6" cy="156.8" r="0.75" fill="#bcbcc4"/>
<circle cx="280.8" cy="143.1" r="0.75" fill="#bcbcc4"/>
<circle cx="293.8" cy="154.0" r="0.75" fill="#bcbcc4"/>
<circle cx="280.5" cy="148.1" r="0.75" fill="#bcbcc4"/>
<circle cx="283.1" cy="151.2" r="0.75" fill="#bcbcc4"/>
<circle cx="287.7" cy="156.6" r="0.75" fill="#bcbcc4"/>
<circle cx="282.9" cy="148.2" r="0.75" fill="#bcbcc4"/>
<circle cx="290.8" cy="157.0" r="0.75" fill="#bcbcc4"/>
<circle cx="282.3" cy="152.0" r="0.75" fill="#bcbcc4"/>
<circle cx="294.5" cy="156.7" r="0.75" fill="#bcbcc4"/>
<circle cx="279.9" cy="152.1" r="0.75" fill="#bcbcc4"/>
<circle cx="282.1" cy="154.7" r="0.75" fill="#bcbcc4"/>
<circle cx="285.6" cy="157.0" r="0.75" fill="#bcbcc4"/>
<circle cx="282.0" cy="156.8" r="0.75" fill="#bcbcc4"/>
<circle cx="289.2" cy="155.0" r="0.75" fill="#bcbcc4"/>
<circle cx="284.9" cy="157.0" r="0.75" fill="#bcbcc4"/>
<circle cx="291.5" cy="148.8" r="0.75" fill="#bcbcc4"/>
<circle cx="291.4" cy="148.4" r="0.75" fill="#bcbcc4"/>
<circle cx="287.0" cy="157.0" r="0.75" fill="#bcbcc4"/>
<circle cx="284.5" cy="156.5" r="0.75" fill="#bcbcc4"/>
<circle cx="293.2" cy="155.4" r="0.75" fill="#bcbcc4"/>
<circle cx="285.7" cy="155.7" r="0.75" fill="#bcbcc4"/>
<circle cx="294.6" cy="152.6" r="0.75" fill="#bcbcc4"/>
<circle cx="286.1" cy="157.1" r="0.75" fill="#bcbcc4"/>
<circle cx="281.8" cy="156.8" r="0.75" fill="#bcbcc4"/>
<circle cx="282.1" cy="155.9" r="0.75" fill="#bcbcc4"/>
<circle cx="287.5" cy="156.9" r="0.75" fill="#bcbcc4"/>
<circle cx="295.1" cy="153.1" r="0.75" fill="#bcbcc4"/>
<circle cx="283.5" cy="151.5" r="0.75" fill="#bcbcc4"/>
<circle cx="292.1" cy="150.6" r="0.75" fill="#bcbcc4"/>
<circle cx="286.2" cy="156.7" r="0.75" fill="#bcbcc4"/>
<circle cx="280.2" cy="152.4" r="0.75" fill="#bcbcc4"/>
<circle cx="290.9" cy="155.9" r="0.75" fill="#bcbcc4"/>
<circle cx="282.4" cy="155.0" r="0.75" fill="#bcbcc4"/>
<circle cx="287.7" cy="156.9" r="0.75" fill="#bcbcc4"/>
<circle cx="289.6" cy="155.9" r="0.75" fill="#bcbcc4"/>
<circle cx="294.6" cy="145.2" r="0.75" fill="#bcbcc4"/>
<circle cx="287.6" cy="157.1" r="0.75" fill="#bcbcc4"/>
<circle cx="286.1" cy="156.0" r="0.75" fill="#bcbcc4"/>
<circle cx="281.1" cy="146.1" r="0.75" fill="#bcbcc4"/>
<circle cx="287.7" cy="156.5" r="0.75" fill="#bcbcc4"/>
<circle cx="284.1" cy="150.1" r="0.75" fill="#bcbcc4"/>
<circle cx="279.9" cy="149.1" r="0.75" fill="#bcbcc4"/>
<circle cx="284.4" cy="150.7" r="0.75" fill="#bcbcc4"/>
<circle cx="279.8" cy="149.5" r="0.75" fill="#bcbcc4"/>
<circle cx="287.2" cy="157.1" r="0.75" fill="#bcbcc4"/>
<circle cx="280.8" cy="153.1" r="0.75" fill="#bcbcc4"/>
<circle cx="294.2" cy="155.8" r="0.75" fill="#bcbcc4"/>
<circle cx="282.6" cy="151.1" r="0.75" fill="#bcbcc4"/>
<circle cx="286.8" cy="156.2" r="0.75" fill="#bcbcc4"/>
<circle cx="281.5" cy="156.1" r="0.75" fill="#bcbcc4"/>
<circle cx="292.9" cy="147.5" r="0.75" fill="#bcbcc4"/>
<circle cx="290.4" cy="157.0" r="0.75" fill="#bcbcc4"/>
<circle cx="291.7" cy="149.8" r="0.75" fill="#bcbcc4"/>
<circle cx="285.2" cy="154.5" r="0.75" fill="#bcbcc4"/>
<circle cx="283.8" cy="152.8" r="0.75" fill="#bcbcc4"/>
<circle cx="294.5" cy="141.5" r="0.75" fill="#bcbcc4"/>
<circle cx="292.6" cy="154.2" r="0.75" fill="#bcbcc4"/>
<circle cx="287.2" cy="157.1" r="0.75" fill="#bcbcc4"/>
<circle cx="290.2" cy="150.9" r="0.75" fill="#bcbcc4"/>
<circle cx="292.4" cy="156.2" r="0.75" fill="#bcbcc4"/>
<circle cx="295.2" cy="154.6" r="0.75" fill="#bcbcc4"/>
<circle cx="280.6" cy="155.6" r="0.75" fill="#bcbcc4"/>
<circle cx="295.0" cy="148.9" r="0.75" fill="#bcbcc4"/>
<circle cx="284.2" cy="155.3" r="0.75" fill="#bcbcc4"/>
<circle cx="290.2" cy="154.2" r="0.75" fill="#bcbcc4"/>
<circle cx="281.3" cy="148.1" r="0.75" fill="#bcbcc4"/>
<circle cx="291.4" cy="156.3" r="0.75" fill="#bcbcc4"/>
<circle cx="290.8" cy="154.8" r="0.75" fill="#bcbcc4"/>
<circle cx="286.8" cy="156.2" r="0.75" fill="#bcbcc4"/>
<circle cx="295.1" cy="142.4" r="0.75" fill="#bcbcc4"/>
<circle cx="281.9" cy="154.4" r="0.75" fill="#bcbcc4"/>
<circle cx="288.9" cy="154.8" r="0.75" fill="#bcbcc4"/>
<circle cx="287.6" cy="157.0" r="0.75" fill="#bcbcc4"/>
<circle cx="290.7" cy="149.3" r="0.75" fill="#bcbcc4"/>
<circle cx="287.0" cy="156.3" r="0.75" fill="#bcbcc4"/>
<circle cx="291.2" cy="150.6" r="0.75" fill="#bcbcc4"/>
<circle cx="292.9" cy="154.1" r="0.75" fill="#bcbcc4"/>
<circle cx="285.9" cy="154.4" r="0.75" fill="#bcbcc4"/>
<circle cx="289.5" cy="157.1" r="0.75" fill="#bcbcc4"/>
<circle cx="290.7" cy="149.9" r="0.75" fill="#bcbcc4"/>
<circle cx="292.3" cy="157.0" r="0.75" fill="#bcbcc4"/>
<circle cx="291.0" cy="151.3" r="0.75" fill="#bcbcc4"/>
<circle cx="293.4" cy="155.6" r="0.75" fill="#bcbcc4"/>
<circle cx="291.6" cy="155.0" r="0.75" fill="#bcbcc4"/>
<circle cx="288.7" cy="156.5" r="0.75" fill="#bcbcc4"/>
<circle cx="281.8" cy="149.3" r="0.75" fill="#bcbcc4"/>
<circle cx="283.6" cy="152.2" r="0.75" fill="#bcbcc4"/>
<circle cx="282.8" cy="150.7" r="0.75" fill="#bcbcc4"/>
<circle cx="279.6" cy="147.1" r="0.75" fill="#bcbcc4"/>
<circle cx="289.9" cy="152.8" r="0.75" fill="#bcbcc4"/>
<circle cx="290.1" cy="155.4" r="0.75" fill="#bcbcc4"/>
<circle cx="287.4" cy="157.2" r="0.75" fill="#bcbcc4"/>
<circle cx="291.4" cy="155.4" r="0.75" fill="#bcbcc4"/>
<circle cx="291.8" cy="152.6" r="0.75" fill="#bcbcc4"/>
<circle cx="291.9" cy="150.6" r="0.75" fill="#bcbcc4"/>
<circle cx="282.1" cy="152.5" r="0.75" fill="#bcbcc4"/>
<circle cx="284.2" cy="157.1" r="0.75" fill="#bcbcc4"/>
<circle cx="294.7" cy="150.8" r="0.75" fill="#bcbcc4"/>
<circle cx="285.6" cy="155.0" r="0.75" fill="#bcbcc4"/>
<circle cx="284.4" cy="152.7" r="0.75" fill="#bcbcc4"/>
<circle cx="288.0" cy="156.4" r="0.75" fill="#bcbcc4"/>
<circle cx="292.5" cy="153.3" r="0.75" fill="#bcbcc4"/>
<circle cx="292.0" cy="150.5" r="0.75" fill="#bcbcc4"/>
<circle cx="292.7" cy="156.0" r="0.75" fill="#bcbcc4"/>
<circle cx="285.7" cy="154.8" r="0.75" fill="#bcbcc4"/>
<circle cx="292.0" cy="151.1" r="0.75" fill="#bcbcc4"/>
<circle cx="283.2" cy="153.5" r="0.75" fill="#bcbcc4"/>
<circle cx="283.9" cy="151.8" r="0.75" fill="#bcbcc4"/>
<circle cx="292.4" cy="153.1" r="0.75" fill="#bcbcc4"/>
<circle cx="284.6" cy="156.7" r="0.75" fill="#bcbcc4"/>
<circle cx="282.2" cy="152.5" r="0.75" fill="#bcbcc4"/>
<circle cx="293.6" cy="144.2" r="0.75" fill="#bcbcc4"/>
<circle cx="289.6" cy="152.9" r="0.75" fill="#bcbcc4"/>
<circle cx="281.2" cy="154.4" r="0.75" fill="#bcbcc4"/>
<circle cx="290.2" cy="154.9" r="0.75" fill="#bcbcc4"/>
<circle cx="292.0" cy="154.3" r="0.75" fill="#bcbcc4"/>
<circle cx="289.5" cy="155.0" r="0.75" fill="#bcbcc4"/>
<circle cx="284.9" cy="151.3" r="0.75" fill="#bcbcc4"/>
<circle cx="287.4" cy="157.1" r="0.75" fill="#bcbcc4"/>
<circle cx="291.2" cy="149.5" r="0.75" fill="#bcbcc4"/>
<circle cx="294.2" cy="142.9" r="0.75" fill="#bcbcc4"/>
<circle cx="284.1" cy="152.1" r="0.75" fill="#bcbcc4"/>
<circle cx="285.3" cy="155.7" r="0.75" fill="#bcbcc4"/>
<circle cx="294.5" cy="151.3" r="0.75" fill="#bcbcc4"/>
<circle cx="293.5" cy="154.0" r="0.75" fill="#bcbcc4"/>
<circle cx="281.6" cy="156.8" r="0.75" fill="#bcbcc4"/>
<circle cx="285.2" cy="151.7" r="0.75" fill="#bcbcc4"/>
<circle cx="291.5" cy="152.9" r="0.75" fill="#bcbcc4"/>
<circle cx="283.3" cy="149.6" r="0.75" fill="#bcbcc4"/>
<circle cx="284.0" cy="153.5" r="0.75" fill="#bcbcc4"/>
<circle cx="284.5" cy="153.1" r="0.75" fill="#bcbcc4"/>
<circle cx="281.8" cy="154.9" r="0.75" fill="#bcbcc4"/>
<circle cx="286.2" cy="156.5" r="0.75" fill="#bcbcc4"/>
<circle cx="283.4" cy="154.8" r="0.75" fill="#bcbcc4"/>
<circle cx="284.8" cy="154.7" r="0.75" fill="#bcbcc4"/>
<circle cx="280.6" cy="154.5" r="0.75" fill="#bcbcc4"/>
<circle cx="286.3" cy="155.8" r="0.75" fill="#bcbcc4"/>
<circle cx="287.8" cy="156.6" r="0.75" fill="#bcbcc4"/>
<circle cx="291.6" cy="151.5" r="0.75" fill="#bcbcc4"/>
<circle cx="295.2" cy="150.1" r="0.75" fill="#bcbcc4"/>
<circle cx="289.3" cy="155.6" r="0.75" fill="#bcbcc4"/>
<circle cx="288.9" cy="155.0" r="0.75" fill="#bcbcc4"/>
<circle cx="295.0" cy="137.1" r="0.75" fill="#bcbcc4"/>
<circle cx="286.7" cy="156.5" r="0.75" fill="#bcbcc4"/>
<circle cx="280.3" cy="155.1" r="0.75" fill="#bcbcc4"/>
<circle cx="281.6" cy="143.4" r="0.75" fill="#bcbcc4"/>
<circle cx="293.9" cy="156.2" r="0.75" fill="#bcbcc4"/>
<circle cx="292.0" cy="157.1" r="0.75" fill="#bcbcc4"/>
<circle cx="285.1" cy="156.5" r="0.75" fill="#bcbcc4"/>
<circle cx="290.0" cy="156.5" r="0.75" fill="#bcbcc4"/>
<circle cx="289.7" cy="156.9" r="0.75" fill="#bcbcc4"/>
<circle cx="283.4" cy="152.5" r="0.75" fill="#bcbcc4"/>
<circle cx="281.8" cy="153.3" r="0.75" fill="#bcbcc4"/>
<circle cx="282.7" cy="145.7" r="0.75" fill="#bcbcc4"/>
<circle cx="287.8" cy="156.5" r="0.75" fill="#bcbcc4"/>
<circle cx="281.8" cy="152.5" r="0.75" fill="#bcbcc4"/>
<circle cx="281.4" cy="156.0" r="0.75" fill="#bcbcc4"/>
<circle cx="280.4" cy="153.9" r="0.75" fill="#bcbcc4"/>
<circle cx="289.3" cy="152.7" r="0.75" fill="#bcbcc4"/>
<circle cx="290.8" cy="152.5" r="0.75" fill="#bcbcc4"/>
<circle cx="282.1" cy="155.7" r="0.75" fill="#bcbcc4"/>
<circle cx="289.4" cy="156.3" r="0.75" fill="#bcbcc4"/>
<circle cx="284.2" cy="154.1" r="0.75" fill="#bcbcc4"/>
<circle cx="285.8" cy="153.8" r="0.75" fill="#bcbcc4"/>
<circle cx="288.4" cy="156.3" r="0.75" fill="#bcbcc4"/>
<circle cx="291.5" cy="149.3" r="0.75" fill="#bcbcc4"/>
<circle cx="290.6" cy="151.6" r="0.75" fill="#bcbcc4"/>
<circle cx="280.1" cy="149.6" r="0.75" fill="#bcbcc4"/>
<circle cx="282.6" cy="150.2" r="0.75" fill="#bcbcc4"/>
<circle cx="289.4" cy="153.5" r="0.75" fill="#bcbcc4"/>
<circle cx="287.0" cy="157.2" r="0.75" fill="#bcbcc4"/>
<circle cx="292.4" cy="146.8" r="0.75" fill="#bcbcc4"/>
<circle cx="280.2" cy="154.9" r="0.75" fill="#bcbcc4"/>
<circle cx="289.5" cy="155.1" r="0.75" fill="#bcbcc4"/>
<circle cx="294.5" cy="138.2" r="0.75" fill="#bcbcc4"/>
<circle cx="286.8" cy="156.9" r="0.75" fill="#bcbcc4"/>
<circle cx="292.5" cy="150.0" r="0.75" fill="#bcbcc4"/>
<circle cx="293.7" cy="149.2" r="0.75" fill="#bcbcc4"/>
<circle cx="286.1" cy="155.0" r="0.75" fill="#bcbcc4"/>
<circle cx="289.9" cy="156.4" r="0.75" fill="#bcbcc4"/>
<circle cx="283.8" cy="151.0" r="0.75" fill="#bcbcc4"/>
<circle cx="284.8" cy="154.1" r="0.75" fill="#bcbcc4"/>
<circle cx="287.8" cy="156.5" r="0.75" fill="#bcbcc4"/>
<circle cx="291.6" cy="149.4" r="0.75" fill="#bcbcc4"/>
<circle cx="286.6" cy="156.4" r="0.75" fill="#bcbcc4"/>
<circle cx="287.0" cy="157.0" r="0.75" fill="#bcbcc4"/>
<circle cx="287.0" cy="157.0" r="0.75" fill="#bcbcc4"/>
<circle cx="288.5" cy="156.6" r="0.75" fill="#bcbcc4"/>
<circle cx="289.0" cy="154.5" r="0.75" fill="#bcbcc4"/>
<circle cx="289.2" cy="154.0" r="0.75" fill="#bcbcc4"/>
<circle cx="290.2" cy="155.5" r="0.75" fill="#bcbcc4"/>
<circle cx="292.7" cy="155.7" r="0.75" fill="#bcbcc4"/>
<circle cx="293.2" cy="154.8" r="0.75" fill="#bcbcc4"/>
<circle cx="284.6" cy="155.3" r="0.75" fill="#bcbcc4"/>
<circle cx="284.9" cy="154.8" r="0.75" fill="#bcbcc4"/>
<circle cx="292.6" cy="157.0" r="0.75" fill="#bcbcc4"/>
<circle cx="281.7" cy="155.1" r="0.75" fill="#bcbcc4"/>
<circle cx="285.5" cy="156.9" r="0.75" fill="#bcbcc4"/>
<circle cx="293.9" cy="147.4" r="0.75" fill="#bcbcc4"/>
<circle cx="292.1" cy="149.7" r="0.75" fill="#bcbcc4"/>
<circle cx="284.3" cy="148.9" r="0.75" fill="#bcbcc4"/>
<circle cx="282.8" cy="148.4" r="0.75" fill="#bcbcc4"/>
<circle cx="288.8" cy="154.8" r="0.75" fill="#bcbcc4"/>
<circle cx="283.3" cy="156.0" r="0.75" fill="#bcbcc4"/>
<circle cx="290.0" cy="156.3" r="0.75" fill="#bcbcc4"/>
<circle cx="285.7" cy="155.1" r="0.75" fill="#bcbcc4"/>
<circle cx="285.7" cy="155.4" r="0.75" fill="#bcbcc4"/>
<circle cx="283.0" cy="154.8" r="0.75" fill="#bcbcc4"/>
<circle cx="292.4" cy="156.0" r="0.75" fill="#bcbcc4"/>
<circle cx="290.1" cy="156.8" r="0.75" fill="#bcbcc4"/>
<circle cx="285.9" cy="155.9" r="0.75" fill="#bcbcc4"/>
<circle cx="287.6" cy="157.0" r="0.75" fill="#bcbcc4"/>
<circle cx="288.7" cy="154.9" r="0.75" fill="#bcbcc4"/>
<circle cx="283.0" cy="156.9" r="0.75" fill="#bcbcc4"/>
<circle cx="281.6" cy="155.5" r="0.75" fill="#bcbcc4"/>
<circle cx="288.0" cy="156.3" r="0.75" fill="#bcbcc4"/>
<circle cx="294.3" cy="155.5" r="0.75" fill="#bcbcc4"/>
<circle cx="281.0" cy="147.3" r="0.75" fill="#bcbcc4"/>
<circle cx="281.8" cy="152.8" r="0.75" fill="#bcbcc4"/>
<circle cx="287.0" cy="156.3" r="0.75" fill="#bcbcc4"/>
<circle cx="284.9" cy="151.5" r="0.75" fill="#bcbcc4"/>
<circle cx="281.3" cy="146.7" r="0.75" fill="#bcbcc4"/>
<circle cx="294.4" cy="145.4" r="0.75" fill="#bcbcc4"/>
<circle cx="293.6" cy="148.4" r="0.75" fill="#bcbcc4"/>
<circle cx="280.0" cy="150.4" r="0.75" fill="#bcbcc4"/>
<circle cx="279.7" cy="142.7" r="0.75" fill="#bcbcc4"/>
<circle cx="290.8" cy="152.9" r="0.75" fill="#bcbcc4"/>
<circle cx="288.0" cy="156.3" r="0.75" fill="#bcbcc4"/>
<circle cx="286.1" cy="155.4" r="0.75" fill="#bcbcc4"/>
<circle cx="280.3" cy="145.5" r="0.75" fill="#bcbcc4"/>
<circle cx="292.5" cy="150.1" r="0.75" fill="#bcbcc4"/>
<circle cx="293.7" cy="156.7" r="0.75" fill="#bcbcc4"/>
<circle cx="291.9" cy="148.2" r="0.75" fill="#bcbcc4"/>
<circle cx="293.8" cy="155.5" r="0.75" fill="#bcbcc4"/>
<circle cx="280.7" cy="154.3" r="0.75" fill="#bcbcc4"/>
<circle cx="279.7" cy="149.8" r="0.75" fill="#bcbcc4"/>
<circle cx="284.0" cy="154.2" r="0.75" fill="#bcbcc4"/>
<circle cx="287.7" cy="156.9" r="0.75" fill="#bcbcc4"/>
<circle cx="293.9" cy="155.3" r="0.75" fill="#bcbcc4"/>
<circle cx="286.8" cy="156.5" r="0.75" fill="#bcbcc4"/>
<circle cx="288.5" cy="155.9" r="0.75" fill="#bcbcc4"/>
<circle cx="286.4" cy="154.7" r="0.75" fill="#bcbcc4"/>
<circle cx="289.7" cy="156.3" r="0.75" fill="#bcbcc4"/>
<circle cx="281.6" cy="155.0" r="0.75" fill="#bcbcc4"/>
<circle cx="290.6" cy="149.4" r="0.75" fill="#bcbcc4"/>
<circle cx="288.5" cy="156.6" r="0.75" fill="#bcbcc4"/>
<circle cx="286.8" cy="156.7" r="0.75" fill="#bcbcc4"/>
<circle cx="283.0" cy="148.1" r="0.75" fill="#bcbcc4"/>
<circle cx="292.4" cy="153.6" r="0.75" fill="#bcbcc4"/>
<circle cx="284.3" cy="150.0" r="0.75" fill="#bcbcc4"/>
<circle cx="288.1" cy="156.1" r="0.75" fill="#bcbcc4"/>
<circle cx="283.5" cy="151.1" r="0.75" fill="#bcbcc4"/>
<circle cx="292.8" cy="150.9" r="0.75" fill="#bcbcc4"/>
<circle cx="288.3" cy="156.1" r="0.75" fill="#bcbcc4"/>
<circle cx="294.5" cy="145.2" r="0.75" fill="#bcbcc4"/>
<circle cx="287.5" cy="157.0" r="0.75" fill="#bcbcc4"/>
<circle cx="289.8" cy="153.4" r="0.75" fill="#bcbcc4"/>
<circle cx="288.9" cy="155.0" r="0.75" fill="#bcbcc4"/>
<circle cx="294.6" cy="141.7" r="0.75" fill="#bcbcc4"/>
<circle cx="289.2" cy="153.6" r="0.75" fill="#bcbcc4"/>
<circle cx="285.3" cy="153.5" r="0.75" fill="#bcbcc4"/>
<circle cx="281.9" cy="148.0" r="0.75" fill="#bcbcc4"/>
<circle cx="286.0" cy="155.2" r="0.75" fill="#bcbcc4"/>
<circle cx="292.2" cy="151.8" r="0.75" fill="#bcbcc4"/>
<circle cx="288.5" cy="156.1" r="0.75" fill="#bcbcc4"/>
<circle cx="291.8" cy="147.1" r="0.75" fill="#bcbcc4"/>
<circle cx="290.0" cy="155.9" r="0.75" fill="#bcbcc4"/>
<circle cx="286.7" cy="157.0" r="0.75" fill="#bcbcc4"/>
<circle cx="285.3" cy="153.8" r="0.75" fill="#bcbcc4"/>
<circle cx="282.4" cy="148.3" r="0.75" fill="#bcbcc4"/>
<circle cx="280.9" cy="148.4" r="0.75" fill="#bcbcc4"/>
<circle cx="293.9" cy="152.7" r="0.75" fill="#bcbcc4"/>
<circle cx="279.9" cy="156.7" r="0.75" fill="#bcbcc4"/>
<circle cx="290.7" cy="156.8" r="0.75" fill="#bcbcc4"/>
<circle cx="287.1" cy="156.4" r="0.75" fill="#bcbcc4"/>
<circle cx="293.3" cy="148.1" r="0.75" fill="#bcbcc4"/>
<circle cx="283.1" cy="152.5" r="0.75" fill="#bcbcc4"/>
<circle cx="284.3" cy="151.0" r="0.75" fill="#bcbcc4"/>
<circle cx="290.9" cy="153.9" r="0.75" fill="#bcbcc4"/>
<circle cx="287.5" cy="157.1" r="0.75" fill="#bcbcc4"/>
<circle cx="292.8" cy="147.5" r="0.75" fill="#bcbcc4"/>
<circle cx="283.4" cy="148.8" r="0.75" fill="#bcbcc4"/>
<circle cx="283.1" cy="152.3" r="0.75" fill="#bcbcc4"/>
<circle cx="293.1" cy="149.3" r="0.75" fill="#bcbcc4"/>
<circle cx="282.1" cy="152.2" r="0.75" fill="#bcbcc4"/>
<circle cx="285.2" cy="156.5" r="0.75" fill="#bcbcc4"/>
<circle cx="290.5" cy="149.4" r="0.75" fill="#bcbcc4"/>
<circle cx="289.2" cy="154.8" r="0.75" fill="#bcbcc4"/>
<circle cx="282.9" cy="155.5" r="0.75" fill="#bcbcc4"/>
<circle cx="280.9" cy="147.8" r="0.75" fill="#bcbcc4"/>
<circle cx="282.5" cy="152.0" r="0.75" fill="#bcbcc4"/>
<circle cx="279.8" cy="143.2" r="0.75" fill="#bcbcc4"/>
<circle cx="288.5" cy="156.3" r="0.75" fill="#bcbcc4"/>
<circle cx="294.5" cy="153.9" r="0.75" fill="#bcbcc4"/>
<circle cx="293.3" cy="149.7" r="0.75" fill="#bcbcc4"/>
<circle cx="280.6" cy="154.8" r="0.75" fill="#bcbcc4"/>
<circle cx="280.8" cy="144.4" r="0.75" fill="#bcbcc4"/>
<circle cx="292.1" cy="155.7" r="0.75" fill="#bcbcc4"/>
<circle cx="293.5" cy="154.3" r="0.75" fill="#bcbcc4"/>
<circle cx="281.6" cy="149.3" r="0.75" fill="#bcbcc4"/>
<circle cx="282.7" cy="156.8" r="0.75" fill="#bcbcc4"/>
<circle cx="291.8" cy="155.9" r="0.75" fill="#bcbcc4"/>
<circle cx="289.3" cy="154.1" r="0.75" fill="#bcbcc4"/>
<circle cx="289.7" cy="153.8" r="0.75" fill="#bcbcc4"/>
<circle cx="294.0" cy="156.9" r="0.75" fill="#bcbcc4"/>
<circle cx="281.2" cy="145.9" r="0.75" fill="#bcbcc4"/>
<circle cx="294.0" cy="139.4" r="0.75" fill="#bcbcc4"/>
<circle cx="289.2" cy="155.5" r="0.75" fill="#bcbcc4"/>
<circle cx="291.0" cy="155.5" r="0.75" fill="#bcbcc4"/>
<circle cx="279.9" cy="156.9" r="0.75" fill="#bcbcc4"/>
<circle cx="290.8" cy="149.5" r="0.75" fill="#bcbcc4"/>
<circle cx="281.7" cy="145.5" r="0.75" fill="#bcbcc4"/>
<circle cx="290.2" cy="154.5" r="0.75" fill="#bcbcc4"/>
<circle cx="280.6" cy="145.4" r="0.75" fill="#bcbcc4"/>
<circle cx="281.4" cy="143.7" r="0.75" fill="#bcbcc4"/>
<circle cx="285.1" cy="153.8" r="0.75" fill="#bcbcc4"/>
<circle cx="284.3" cy="152.4" r="0.75" fill="#bcbcc4"/>
<circle cx="288.0" cy="157.1" r="0.75" fill="#bcbcc4"/>
<circle cx="288.5" cy="155.5" r="0.75" fill="#bcbcc4"/>
<circle cx="284.8" cy="156.8" r="0.75" fill="#bcbcc4"/>
<circle cx="286.4" cy="156.2" r="0.75" fill="#bcbcc4"/>
<circle cx="292.6" cy="152.4" r="0.75" fill="#bcbcc4"/>
<circle cx="289.8" cy="155.7" r="0.75" fill="#bcbcc4"/>
<circle cx="294.5" cy="151.2" r="0.75" fill="#bcbcc4"/>
<circle cx="290.3" cy="154.7" r="0.75" fill="#bcbcc4"/>
<circle cx="291.5" cy="155.3" r="0.75" fill="#bcbcc4"/>
<circle cx="288.0" cy="156.3" r="0.75" fill="#bcbcc4"/>
<circle cx="292.6" cy="150.4" r="0.75" fill="#bcbcc4"/>
<circle cx="289.9" cy="153.2" r="0.75" fill="#bcbcc4"/>
<circle cx="288.0" cy="156.8" r="0.75" fill="#bcbcc4"/>
<circle cx="283.3" cy="153.0" r="0.75" fill="#bcbcc4"/>
<circle cx="281.3" cy="154.1" r="0.75" fill="#bcbcc4"/>
<circle cx="285.7" cy="154.8" r="0.75" fill="#bcbcc4"/>
<circle cx="283.6" cy="152.7" r="0.75" fill="#bcbcc4"/>
<circle cx="283.1" cy="155.5" r="0.75" fill="#bcbcc4"/>
<circle cx="294.1" cy="147.1" r="0.75" fill="#bcbcc4"/>
<circle cx="282.0" cy="156.0" r="0.75" fill="#bcbcc4"/>
<circle cx="286.2" cy="157.2" r="0.75" fill="#bcbcc4"/>
<circle cx="290.4" cy="152.6" r="0.75" fill="#bcbcc4"/>
<circle cx="279.6" cy="143.6" r="0.75" fill="#bcbcc4"/>
<circle cx="284.5" cy="156.3" r="0.75" fill="#bcbcc4"/>
<circle cx="283.8" cy="155.4" r="0.75" fill="#bcbcc4"/>
<circle cx="287.7" cy="156.7" r="0.75" fill="#bcbcc4"/>
<circle cx="286.1" cy="155.5" r="0.75" fill="#bcbcc4"/>
<circle cx="291.6" cy="149.8" r="0.75" fill="#bcbcc4"/>
<circle cx="292.2" cy="153.8" r="0.75" fill="#bcbcc4"/>
<circle cx="287.8" cy="156.7" r="0.75" fill="#bcbcc4"/>
<circle cx="280.7" cy="157.1" r="0.75" fill="#bcbcc4"/>
<circle cx="293.4" cy="152.9" r="0.75" fill="#bcbcc4"/>
<circle cx="292.7" cy="151.1" r="0.75" fill="#bcbcc4"/>
<circle cx="289.6" cy="156.5" r="0.75" fill="#bcbcc4"/>
<circle cx="292.3" cy="147.1" r="0.75" fill="#bcbcc4"/>
<circle cx="286.4" cy="154.4" r="0.75" fill="#bcbcc4"/>
<circle cx="287.5" cy="157.0" r="0.75" fill="#bcbcc4"/>
<circle cx="280.7" cy="147.8" r="0.75" fill="#bcbcc4"/>
<circle cx="287.6" cy="156.7" r="0.75" fill="#bcbcc4"/>
<circle cx="283.0" cy="152.8" r="0.75" fill="#bcbcc4"/>
<circle cx="288.4" cy="155.1" r="0.75" fill="#bcbcc4"/>
<circle cx="284.3" cy="149.2" r="0.75" fill="#bcbcc4"/>
<circle cx="291.9" cy="146.0" r="0.75" fill="#bcbcc4"/>
<circle cx="288.6" cy="155.0" r="0.75" fill="#bcbcc4"/>
<circle cx="283.6" cy="155.1" r="0.75" fill="#bcbcc4"/>
<circle cx="280.0" cy="147.0" r="0.75" fill="#bcbcc4"/>
<circle cx="293.8" cy="156.3" r="0.75" fill="#bcbcc4"/>
<circle cx="282.6" cy="154.0" r="0.75" fill="#bcbcc4"/>
<circle cx="294.5" cy="146.5" r="0.75" fill="#bcbcc4"/>
<circle cx="282.5" cy="156.7" r="0.75" fill="#bcbcc4"/>
<circle cx="294.8" cy="148.8" r="0.75" fill="#bcbcc4"/>
<circle cx="293.3" cy="156.6" r="0.75" fill="#bcbcc4"/>
<circle cx="286.1" cy="156.6" r="0.75" fill="#bcbcc4"/>
<circle cx="290.2" cy="156.2" r="0.75" fill="#bcbcc4"/>
<circle cx="284.2" cy="153.4" r="0.75" fill="#bcbcc4"/>
<circle cx="291.9" cy="152.1" r="0.75" fill="#bcbcc4"/>
<circle cx="294.7" cy="152.7" r="0.75" fill="#bcbcc4"/>
<circle cx="285.3" cy="152.1" r="0.75" fill="#bcbcc4"/>
<circle cx="291.4" cy="151.9" r="0.75" fill="#bcbcc4"/>
<circle cx="293.7" cy="147.6" r="0.75" fill="#bcbcc4"/>
<circle cx="281.2" cy="157.1" r="0.75" fill="#bcbcc4"/>
<circle cx="290.8" cy="149.5" r="0.75" fill="#bcbcc4"/>
<circle cx="293.4" cy="157.0" r="0.75" fill="#bcbcc4"/>
<circle cx="283.6" cy="157.0" r="0.75" fill="#bcbcc4"/>
<circle cx="294.1" cy="147.5" r="0.75" fill="#bcbcc4"/>
<circle cx="290.0" cy="152.9" r="0.75" fill="#bcbcc4"/>
<circle cx="286.0" cy="156.3" r="0.75" fill="#bcbcc4"/>
<circle cx="293.7" cy="146.3" r="0.75" fill="#bcbcc4"/>
<circle cx="280.1" cy="153.2" r="0.75" fill="#bcbcc4"/>
<circle cx="283.4" cy="155.0" r="0.75" fill="#bcbcc4"/>
<circle cx="290.2" cy="155.9" r="0.75" fill="#bcbcc4"/>
<circle cx="279.6" cy="138.9" r="0.75" fill="#bcbcc4"/>
<circle cx="289.7" cy="155.6" r="0.75" fill="#bcbcc4"/>
<circle cx="293.3" cy="155.2" r="0.75" fill="#bcbcc4"/>
<circle cx="291.9" cy="155.4" r="0.75" fill="#bcbcc4"/>
<circle cx="287.3" cy="157.2" r="0.75" fill="#bcbcc4"/>
<circle cx="284.0" cy="156.4" r="0.75" fill="#bcbcc4"/>
<circle cx="288.4" cy="155.8" r="0.75" fill="#bcbcc4"/>
<circle cx="291.7" cy="145.6" r="0.75" fill="#bcbcc4"/>
<circle cx="280.3" cy="153.8" r="0.75" fill="#bcbcc4"/>
<circle cx="287.0" cy="156.6" r="0.75" fill="#bcbcc4"/>
<circle cx="285.1" cy="151.7" r="0.75" fill="#bcbcc4"/>
<circle cx="295.1" cy="148.9" r="0.75" fill="#bcbcc4"/>
<circle cx="281.1" cy="148.8" r="0.75" fill="#bcbcc4"/>
<circle cx="283.2" cy="152.8" r="0.75" fill="#bcbcc4"/>
<circle cx="286.8" cy="156.3" r="0.75" fill="#bcbcc4"/>
<circle cx="282.0" cy="154.9" r="0.75" fill="#bcbcc4"/>
<circle cx="289.8" cy="155.3" r="0.75" fill="#bcbcc4"/>
<circle cx="284.9" cy="155.9" r="0.75" fill="#bcbcc4"/>
<circle cx="288.8" cy="155.8" r="0.75" fill="#bcbcc4"/>
<circle cx="279.6" cy="148.0" r="0.75" fill="#bcbcc4"/>
<circle cx="281.4" cy="152.5" r="0.75" fill="#bcbcc4"/>
<circle cx="294.2" cy="147.4" r="0.75" fill="#bcbcc4"/>
<circle cx="292.7" cy="156.9" r="0.75" fill="#bcbcc4"/>
<circle cx="281.3" cy="148.8" r="0.75" fill="#bcbcc4"/>
<circle cx="289.4" cy="152.3" r="0.75" fill="#bcbcc4"/>
<circle cx="291.2" cy="155.4" r="0.75" fill="#bcbcc4"/>
<circle cx="293.9" cy="149.1" r="0.75" fill="#bcbcc4"/>
<circle cx="290.7" cy="153.0" r="0.75" fill="#bcbcc4"/>
<circle cx="283.8" cy="149.8" r="0.75" fill="#bcbcc4"/>
<circle cx="291.6" cy="153.9" r="0.75" fill="#bcbcc4"/>
<circle cx="280.9" cy="152.1" r="0.75" fill="#bcbcc4"/>
<circle cx="279.7" cy="155.2" r="0.75" fill="#bcbcc4"/>
<circle cx="294.9" cy="148.3" r="0.75" fill="#bcbcc4"/>
<circle cx="288.7" cy="154.0" r="0.75" fill="#bcbcc4"/>
<circle cx="292.4" cy="154.8" r="0.75" fill="#bcbcc4"/>
<circle cx="293.5" cy="152.7" r="0.75" fill="#bcbcc4"/>
<circle cx="293.1" cy="155.4" r="0.75" fill="#bcbcc4"/>
<circle cx="286.2" cy="154.5" r="0.75" fill="#bcbcc4"/>
<circle cx="295.1" cy="152.0" r="0.75" fill="#bcbcc4"/>
<circle cx="293.2" cy="151.8" r="0.75" fill="#bcbcc4"/>
<circle cx="283.1" cy="148.8" r="0.75" fill="#bcbcc4"/>
<circle cx="287.2" cy="156.9" r="0.75" fill="#bcbcc4"/>
<circle cx="292.3" cy="152.1" r="0.75" fill="#bcbcc4"/>
<circle cx="290.9" cy="151.2" r="0.75" fill="#bcbcc4"/>
<circle cx="293.2" cy="146.6" r="0.75" fill="#bcbcc4"/>
<circle cx="289.6" cy="154.6" r="0.75" fill="#bcbcc4"/>
<circle cx="289.9" cy="154.3" r="0.75" fill="#bcbcc4"/>
<circle cx="281.5" cy="152.7" r="0.75" fill="#bcbcc4"/>
<circle cx="293.4" cy="141.7" r="0.75" fill="#bcbcc4"/>
<circle cx="293.3" cy="148.4" r="0.75" fill="#bcbcc4"/>
<circle cx="290.4" cy="150.5" r="0.75" fill="#bcbcc4"/>
<circle cx="283.9" cy="151.8" r="0.75" fill="#bcbcc4"/>
<circle cx="286.3" cy="155.2" r="0.75" fill="#bcbcc4"/>
<circle cx="281.7" cy="152.2" r="0.75" fill="#bcbcc4"/>
<circle cx="282.8" cy="146.9" r="0.75" fill="#bcbcc4"/>
<circle cx="283.6" cy="151.8" r="0.75" fill="#bcbcc4"/>
<circle cx="287.4" cy="157.2" r="0.75" fill="#bcbcc4"/>
<circle cx="286.4" cy="155.6" r="0.75" fill="#bcbcc4"/>
<circle cx="281.2" cy="155.9" r="0.75" fill="#bcbcc4"/>
<circle cx="282.9" cy="154.0" r="0.75" fill="#bcbcc4"/>
<circle cx="294.2" cy="153.8" r="0.75" fill="#bcbcc4"/>
<circle cx="287.8" cy="156.7" r="0.75" fill="#bcbcc4"/>
<circle cx="294.4" cy="156.6" r="0.75" fill="#bcbcc4"/>
<circle cx="287.8" cy="156.5" r="0.75" fill="#bcbcc4"/>
<circle cx="292.4" cy="156.1" r="0.75" fill="#bcbcc4"/>
<circle cx="292.6" cy="155.6" r="0.75" fill="#bcbcc4"/>
<circle cx="289.2" cy="156.6" r="0.75" fill="#bcbcc4"/>
<circle cx="281.5" cy="154.9" r="0.75" fill="#bcbcc4"/>
<circle cx="291.8" cy="150.5" r="0.75" fill="#bcbcc4"/>
<circle cx="289.4" cy="155.0" r="0.75" fill="#bcbcc4"/>
<circle cx="288.9" cy="155.9" r="0.75" fill="#bcbcc4"/>
<circle cx="283.5" cy="150.9" r="0.75" fill="#bcbcc4"/>
<circle cx="290.6" cy="156.7" r="0.75" fill="#bcbcc4"/>
<circle cx="282.9" cy="152.2" r="0.75" fill="#bcbcc4"/>
<circle cx="280.6" cy="144.8" r="0.75" fill="#bcbcc4"/>
<circle cx="289.0" cy="154.4" r="0.75" fill="#bcbcc4"/>
<circle cx="286.1" cy="156.2" r="0.75" fill="#bcbcc4"/>
<circle cx="283.4" cy="154.4" r="0.75" fill="#bcbcc4"/>
<circle cx="284.9" cy="152.7" r="0.75" fill="#bcbcc4"/>
<circle cx="286.9" cy="156.3" r="0.75" fill="#bcbcc4"/>
<circle cx="279.7" cy="140.1" r="0.75" fill="#bcbcc4"/>
<circle cx="291.1" cy="149.5" r="0.75" fill="#bcbcc4"/>
<circle cx="286.2" cy="155.3" r="0.75" fill="#bcbcc4"/>
<circle cx="284.0" cy="150.0" r="0.75" fill="#bcbcc4"/>
<circle cx="283.6" cy="157.1" r="0.75" fill="#bcbcc4"/>
<circle cx="253.1" cy="152.0" r="0.75" fill="#2d66a3"/>
<circle cx="276.1" cy="154.7" r="0.75" fill="#2d66a3"/>
<circle cx="270.2" cy="151.0" r="0.75" fill="#2d66a3"/>
<circle cx="255.9" cy="152.0" r="0.75" fill="#2d66a3"/>
<circle cx="254.5" cy="155.8" r="0.75" fill="#2d66a3"/>
<circle cx="271.9" cy="156.8" r="0.75" fill="#2d66a3"/>
<circle cx="263.3" cy="155.2" r="0.75" fill="#2d66a3"/>
<circle cx="260.4" cy="156.3" r="0.75" fill="#2d66a3"/>
<circle cx="275.0" cy="152.2" r="0.75" fill="#2d66a3"/>
<circle cx="280.6" cy="147.3" r="0.75" fill="#2d66a3"/>
<circle cx="248.5" cy="156.2" r="0.75" fill="#2d66a3"/>
<circle cx="276.6" cy="155.7" r="0.75" fill="#2d66a3"/>
<circle cx="278.8" cy="152.5" r="0.75" fill="#2d66a3"/>
<circle cx="279.5" cy="150.2" r="0.75" fill="#2d66a3"/>
<circle cx="252.6" cy="153.2" r="0.75" fill="#2d66a3"/>
<circle cx="276.8" cy="155.8" r="0.75" fill="#2d66a3"/>
<circle cx="277.0" cy="142.0" r="0.75" fill="#2d66a3"/>
<circle cx="272.1" cy="156.3" r="0.75" fill="#2d66a3"/>
<circle cx="278.4" cy="146.3" r="0.75" fill="#2d66a3"/>
<circle cx="280.7" cy="155.7" r="0.75" fill="#2d66a3"/>
<circle cx="276.4" cy="157.2" r="0.75" fill="#2d66a3"/>
<circle cx="281.7" cy="146.8" r="0.75" fill="#2d66a3"/>
<circle cx="271.4" cy="154.4" r="0.75" fill="#2d66a3"/>
<circle cx="265.6" cy="157.2" r="0.75" fill="#2d66a3"/>
<circle cx="280.4" cy="156.9" r="0.75" fill="#2d66a3"/>
<circle cx="281.3" cy="141.6" r="0.75" fill="#2d66a3"/>
<circle cx="276.2" cy="146.1" r="0.75" fill="#2d66a3"/>
<circle cx="282.1" cy="153.3" r="0.75" fill="#2d66a3"/>
<circle cx="279.5" cy="146.1" r="0.75" fill="#2d66a3"/>
<circle cx="278.0" cy="146.1" r="0.75" fill="#2d66a3"/>
<circle cx="271.8" cy="149.0" r="0.75" fill="#2d66a3"/>
<circle cx="262.7" cy="156.8" r="0.75" fill="#2d66a3"/>
<circle cx="275.0" cy="151.6" r="0.75" fill="#2d66a3"/>
<circle cx="281.3" cy="155.9" r="0.75" fill="#2d66a3"/>
<circle cx="281.6" cy="143.4" r="0.75" fill="#2d66a3"/>
<circle cx="247.5" cy="157.1" r="0.75" fill="#2d66a3"/>
<circle cx="275.3" cy="154.9" r="0.75" fill="#2d66a3"/>
<circle cx="253.4" cy="157.0" r="0.75" fill="#2d66a3"/>
<circle cx="265.4" cy="144.8" r="0.75" fill="#2d66a3"/>
<circle cx="280.9" cy="147.5" r="0.75" fill="#2d66a3"/>
<circle cx="253.5" cy="156.7" r="0.75" fill="#2d66a3"/>
<circle cx="280.0" cy="150.2" r="0.75" fill="#2d66a3"/>
<circle cx="257.3" cy="152.0" r="0.75" fill="#2d66a3"/>
<circle cx="282.2" cy="153.8" r="0.75" fill="#2d66a3"/>
<circle cx="281.7" cy="144.5" r="0.75" fill="#2d66a3"/>
<circle cx="263.4" cy="156.7" r="0.75" fill="#2d66a3"/>
<circle cx="281.3" cy="150.0" r="0.75" fill="#2d66a3"/>
<circle cx="268.9" cy="157.2" r="0.75" fill="#2d66a3"/>
<circle cx="269.3" cy="154.5" r="0.75" fill="#2d66a3"/>
<circle cx="276.5" cy="142.2" r="0.75" fill="#2d66a3"/>
<circle cx="260.4" cy="155.5" r="0.75" fill="#2d66a3"/>
<circle cx="268.7" cy="153.7" r="0.75" fill="#2d66a3"/>
<circle cx="279.0" cy="156.0" r="0.75" fill="#2d66a3"/>
<circle cx="246.3" cy="155.5" r="0.75" fill="#2d66a3"/>
<circle cx="276.6" cy="155.8" r="0.75" fill="#2d66a3"/>
<circle cx="252.6" cy="157.2" r="0.75" fill="#2d66a3"/>
<circle cx="257.4" cy="156.3" r="0.75" fill="#2d66a3"/>
<circle cx="271.3" cy="152.9" r="0.75" fill="#2d66a3"/>
<circle cx="279.1" cy="150.2" r="0.75" fill="#2d66a3"/>
<circle cx="265.5" cy="155.9" r="0.75" fill="#2d66a3"/>
<circle cx="246.5" cy="153.6" r="0.75" fill="#2d66a3"/>
<circle cx="281.7" cy="149.4" r="0.75" fill="#2d66a3"/>
<circle cx="280.9" cy="157.0" r="0.75" fill="#2d66a3"/>
<circle cx="281.3" cy="157.0" r="0.75" fill="#2d66a3"/>
<circle cx="252.6" cy="156.4" r="0.75" fill="#2d66a3"/>
<circle cx="278.0" cy="146.1" r="0.75" fill="#2d66a3"/>
<circle cx="253.1" cy="157.1" r="0.75" fill="#2d66a3"/>
<circle cx="258.2" cy="154.1" r="0.75" fill="#2d66a3"/>
<circle cx="278.2" cy="154.7" r="0.75" fill="#2d66a3"/>
<circle cx="281.7" cy="147.5" r="0.75" fill="#2d66a3"/>
<circle cx="279.5" cy="145.7" r="0.75" fill="#2d66a3"/>
<circle cx="279.4" cy="155.0" r="0.75" fill="#2d66a3"/>
<circle cx="276.8" cy="155.9" r="0.75" fill="#2d66a3"/>
<circle cx="280.3" cy="156.7" r="0.75" fill="#2d66a3"/>
<circle cx="282.2" cy="152.6" r="0.75" fill="#2d66a3"/>
<circle cx="279.6" cy="151.8" r="0.75" fill="#2d66a3"/>
<circle cx="275.3" cy="156.9" r="0.75" fill="#2d66a3"/>
<circle cx="279.6" cy="149.1" r="0.75" fill="#2d66a3"/>
<circle cx="247.0" cy="156.2" r="0.75" fill="#2d66a3"/>
<circle cx="280.6" cy="147.4" r="0.75" fill="#2d66a3"/>
<circle cx="248.7" cy="155.9" r="0.75" fill="#2d66a3"/>
<circle cx="272.4" cy="154.6" r="0.75" fill="#2d66a3"/>
<circle cx="277.5" cy="146.5" r="0.75" fill="#2d66a3"/>
<circle cx="266.5" cy="155.1" r="0.75" fill="#2d66a3"/>
<circle cx="271.2" cy="154.3" r="0.75" fill="#2d66a3"/>
<circle cx="277.2" cy="153.8" r="0.75" fill="#2d66a3"/>
<circle cx="276.7" cy="155.6" r="0.75" fill="#2d66a3"/>
<circle cx="276.0" cy="156.2" r="0.75" fill="#2d66a3"/>
<circle cx="282.1" cy="153.8" r="0.75" fill="#2d66a3"/>
<circle cx="276.9" cy="156.5" r="0.75" fill="#2d66a3"/>
<circle cx="280.6" cy="126.6" r="0.75" fill="#2d66a3"/>
<circle cx="274.4" cy="123.6" r="0.75" fill="#2d66a3"/>
<circle cx="279.1" cy="136.8" r="0.75" fill="#2d66a3"/>
<circle cx="266.6" cy="147.0" r="0.75" fill="#2d66a3"/>
<circle cx="301.5" cy="157.2" r="0.8" fill="#d0173a"/>
<circle cx="293.0" cy="149.4" r="0.8" fill="#d0173a"/>
<circle cx="293.0" cy="157.0" r="0.8" fill="#d0173a"/>
<circle cx="300.1" cy="157.0" r="0.8" fill="#d0173a"/>
<circle cx="293.6" cy="157.2" r="0.8" fill="#d0173a"/>
<circle cx="314.9" cy="156.1" r="0.8" fill="#d0173a"/>
<circle cx="292.6" cy="150.5" r="0.8" fill="#d0173a"/>
<circle cx="297.3" cy="144.4" r="0.8" fill="#d0173a"/>
<circle cx="299.8" cy="154.7" r="0.8" fill="#d0173a"/>
<circle cx="295.2" cy="150.7" r="0.8" fill="#d0173a"/>
<circle cx="292.6" cy="148.4" r="0.8" fill="#d0173a"/>
<circle cx="294.6" cy="154.2" r="0.8" fill="#d0173a"/>
<circle cx="301.2" cy="157.0" r="0.8" fill="#d0173a"/>
<circle cx="298.5" cy="154.3" r="0.8" fill="#d0173a"/>
<circle cx="302.0" cy="145.0" r="0.8" fill="#d0173a"/>
<circle cx="297.0" cy="156.9" r="0.8" fill="#d0173a"/>
<circle cx="301.8" cy="155.9" r="0.8" fill="#d0173a"/>
<circle cx="295.8" cy="155.9" r="0.8" fill="#d0173a"/>
<circle cx="294.0" cy="146.0" r="0.8" fill="#d0173a"/>
<circle cx="298.4" cy="157.2" r="0.8" fill="#d0173a"/>
<circle cx="302.4" cy="154.8" r="0.8" fill="#d0173a"/>
<circle cx="292.6" cy="149.2" r="0.8" fill="#d0173a"/>
<circle cx="305.0" cy="155.5" r="0.8" fill="#d0173a"/>
<circle cx="294.5" cy="151.6" r="0.8" fill="#d0173a"/>
<circle cx="293.8" cy="157.0" r="0.8" fill="#d0173a"/>
<circle cx="297.5" cy="144.3" r="0.8" fill="#d0173a"/>
<circle cx="304.0" cy="156.1" r="0.8" fill="#d0173a"/>
<circle cx="292.6" cy="155.6" r="0.8" fill="#d0173a"/>
<circle cx="296.4" cy="154.4" r="0.8" fill="#d0173a"/>
<circle cx="304.1" cy="152.7" r="0.8" fill="#d0173a"/>
<circle cx="296.6" cy="154.6" r="0.8" fill="#d0173a"/>
<circle cx="315.6" cy="157.1" r="0.8" fill="#d0173a"/>
<circle cx="299.8" cy="150.3" r="0.8" fill="#d0173a"/>
<circle cx="296.6" cy="121.4" r="0.8" fill="#d0173a"/>
<circle cx="292.7" cy="153.7" r="0.8" fill="#d0173a"/>
<circle cx="299.5" cy="151.8" r="0.8" fill="#d0173a"/>
<circle cx="301.2" cy="153.7" r="0.8" fill="#d0173a"/>
<circle cx="297.8" cy="155.6" r="0.8" fill="#d0173a"/>
<circle cx="293.0" cy="156.4" r="0.8" fill="#d0173a"/>
<circle cx="299.3" cy="157.2" r="0.8" fill="#d0173a"/>
<circle cx="295.2" cy="147.2" r="0.8" fill="#d0173a"/>
<circle cx="296.7" cy="148.6" r="0.8" fill="#d0173a"/>
<circle cx="306.0" cy="156.4" r="0.8" fill="#d0173a"/>
<circle cx="294.1" cy="156.2" r="0.8" fill="#d0173a"/>
<circle cx="301.6" cy="151.6" r="0.8" fill="#d0173a"/>
<circle cx="303.7" cy="157.1" r="0.8" fill="#d0173a"/>
<circle cx="323.1" cy="155.9" r="0.8" fill="#d0173a"/>
<circle cx="296.8" cy="147.6" r="0.8" fill="#d0173a"/>
<circle cx="309.4" cy="154.4" r="0.8" fill="#d0173a"/>
<circle cx="292.9" cy="157.2" r="0.8" fill="#d0173a"/>
<circle cx="296.3" cy="157.2" r="0.8" fill="#d0173a"/>
<circle cx="306.3" cy="154.5" r="0.8" fill="#d0173a"/>
<circle cx="308.2" cy="128.1" r="0.8" fill="#d0173a"/>
<circle cx="296.9" cy="149.5" r="0.8" fill="#d0173a"/>
<circle cx="298.1" cy="153.6" r="0.8" fill="#d0173a"/>
<circle cx="297.0" cy="146.1" r="0.8" fill="#d0173a"/>
<circle cx="304.3" cy="154.1" r="0.8" fill="#d0173a"/>
<circle cx="294.6" cy="157.2" r="0.8" fill="#d0173a"/>
<circle cx="298.0" cy="146.7" r="0.8" fill="#d0173a"/>
<circle cx="296.8" cy="155.3" r="0.8" fill="#d0173a"/>
<circle cx="300.3" cy="147.3" r="0.8" fill="#d0173a"/>
<circle cx="299.5" cy="155.6" r="0.8" fill="#d0173a"/>
<circle cx="292.7" cy="155.1" r="0.8" fill="#d0173a"/>
<circle cx="296.6" cy="154.6" r="0.8" fill="#d0173a"/>
<circle cx="302.9" cy="154.9" r="0.8" fill="#d0173a"/>
<circle cx="305.8" cy="155.7" r="0.8" fill="#d0173a"/>
<circle cx="301.4" cy="156.1" r="0.8" fill="#d0173a"/>
<circle cx="298.8" cy="157.2" r="0.8" fill="#d0173a"/>
<circle cx="297.5" cy="156.0" r="0.8" fill="#d0173a"/>
<circle cx="307.1" cy="153.9" r="0.8" fill="#d0173a"/>
<circle cx="301.8" cy="156.0" r="0.8" fill="#d0173a"/>
<circle cx="293.1" cy="148.1" r="0.8" fill="#d0173a"/>
<circle cx="298.3" cy="156.7" r="0.8" fill="#d0173a"/>
<circle cx="292.7" cy="152.2" r="0.8" fill="#d0173a"/>
<circle cx="305.9" cy="139.3" r="0.8" fill="#d0173a"/>
<circle cx="297.1" cy="152.8" r="0.8" fill="#d0173a"/>
<circle cx="320.6" cy="157.0" r="0.8" fill="#d0173a"/>
<circle cx="306.3" cy="153.5" r="0.8" fill="#d0173a"/>
<circle cx="308.5" cy="152.3" r="0.8" fill="#d0173a"/>
<circle cx="300.5" cy="151.9" r="0.8" fill="#d0173a"/>
<circle cx="307.8" cy="117.6" r="0.8" fill="#d0173a"/>
<circle cx="293.3" cy="156.7" r="0.8" fill="#d0173a"/>
<circle cx="297.4" cy="151.0" r="0.8" fill="#d0173a"/>
<circle cx="306.2" cy="155.0" r="0.8" fill="#d0173a"/>
<circle cx="296.9" cy="151.5" r="0.8" fill="#d0173a"/>
<circle cx="300.9" cy="156.7" r="0.8" fill="#d0173a"/>
<circle cx="302.7" cy="151.5" r="0.8" fill="#d0173a"/>
<circle cx="300.5" cy="156.6" r="0.8" fill="#d0173a"/>
<circle cx="325.9" cy="157.2" r="0.8" fill="#d0173a"/>
<circle cx="293.0" cy="147.0" r="0.8" fill="#d0173a"/>
<circle cx="322.0" cy="154.1" r="0.8" fill="#d0173a"/>
<circle cx="298.7" cy="157.2" r="0.8" fill="#d0173a"/>
<circle cx="297.4" cy="150.0" r="0.8" fill="#d0173a"/>
<circle cx="292.6" cy="157.2" r="0.8" fill="#d0173a"/>
<circle cx="294.8" cy="146.4" r="0.8" fill="#d0173a"/>
<circle cx="320.6" cy="154.2" r="0.8" fill="#d0173a"/>
<circle cx="315.1" cy="157.1" r="0.8" fill="#d0173a"/>
<circle cx="307.6" cy="155.3" r="0.8" fill="#d0173a"/>
<circle cx="295.8" cy="147.9" r="0.8" fill="#d0173a"/>
<circle cx="295.5" cy="152.9" r="0.8" fill="#d0173a"/>
<circle cx="292.7" cy="149.0" r="0.8" fill="#d0173a"/>
<circle cx="302.3" cy="156.6" r="0.8" fill="#d0173a"/>
<circle cx="293.2" cy="153.4" r="0.8" fill="#d0173a"/>
<circle cx="299.1" cy="151.5" r="0.8" fill="#d0173a"/>
<circle cx="301.5" cy="154.5" r="0.8" fill="#d0173a"/>
<circle cx="293.2" cy="152.3" r="0.8" fill="#d0173a"/>
<circle cx="316.0" cy="153.4" r="0.8" fill="#d0173a"/>
<circle cx="297.2" cy="152.2" r="0.8" fill="#d0173a"/>
<circle cx="292.6" cy="150.2" r="0.8" fill="#d0173a"/>
<circle cx="303.6" cy="152.0" r="0.8" fill="#d0173a"/>
<circle cx="297.8" cy="155.1" r="0.8" fill="#d0173a"/>
<circle cx="294.7" cy="150.4" r="0.8" fill="#d0173a"/>
<circle cx="294.0" cy="155.0" r="0.8" fill="#d0173a"/>
<circle cx="295.4" cy="145.5" r="0.8" fill="#d0173a"/>
<circle cx="297.5" cy="157.0" r="0.8" fill="#d0173a"/>
<circle cx="301.3" cy="150.7" r="0.8" fill="#d0173a"/>
<circle cx="303.4" cy="142.6" r="0.8" fill="#d0173a"/>
<circle cx="325.4" cy="151.1" r="0.8" fill="#d0173a"/>
<circle cx="299.5" cy="156.9" r="0.8" fill="#d0173a"/>
<circle cx="301.6" cy="147.2" r="0.8" fill="#d0173a"/>
<circle cx="294.3" cy="154.1" r="0.8" fill="#d0173a"/>
<circle cx="293.8" cy="156.6" r="0.8" fill="#d0173a"/>
<circle cx="313.7" cy="148.1" r="0.8" fill="#d0173a"/>
<circle cx="314.5" cy="154.5" r="0.8" fill="#d0173a"/>
<circle cx="297.0" cy="148.5" r="0.8" fill="#d0173a"/>
<circle cx="323.1" cy="157.2" r="0.8" fill="#d0173a"/>
<circle cx="294.8" cy="154.9" r="0.8" fill="#d0173a"/>
<circle cx="314.9" cy="124.3" r="0.8" fill="#d0173a"/>
<circle cx="301.6" cy="147.7" r="0.8" fill="#d0173a"/>
<circle cx="298.6" cy="144.5" r="0.8" fill="#d0173a"/>
<circle cx="295.7" cy="155.4" r="0.8" fill="#d0173a"/>
<circle cx="303.3" cy="157.2" r="0.8" fill="#d0173a"/>
<circle cx="299.0" cy="153.3" r="0.8" fill="#d0173a"/>
<circle cx="302.5" cy="156.1" r="0.8" fill="#d0173a"/>
<circle cx="298.6" cy="151.3" r="0.8" fill="#d0173a"/>
<circle cx="292.8" cy="157.2" r="0.8" fill="#d0173a"/>
<circle cx="304.9" cy="157.2" r="0.8" fill="#d0173a"/>
<circle cx="292.7" cy="154.3" r="0.8" fill="#d0173a"/>
<circle cx="296.2" cy="156.7" r="0.8" fill="#d0173a"/>
<circle cx="297.5" cy="155.5" r="0.8" fill="#d0173a"/>
<circle cx="300.1" cy="156.5" r="0.8" fill="#d0173a"/>
<circle cx="307.0" cy="149.3" r="0.8" fill="#d0173a"/>
<circle cx="302.1" cy="155.1" r="0.8" fill="#d0173a"/>
<circle cx="293.9" cy="156.8" r="0.8" fill="#d0173a"/>
<circle cx="298.3" cy="147.5" r="0.8" fill="#d0173a"/>
<circle cx="293.8" cy="156.6" r="0.8" fill="#d0173a"/>
<circle cx="292.6" cy="144.5" r="0.8" fill="#d0173a"/>
<circle cx="299.1" cy="156.9" r="0.8" fill="#d0173a"/>
<circle cx="292.7" cy="147.9" r="0.8" fill="#d0173a"/>
<circle cx="305.5" cy="145.1" r="0.8" fill="#d0173a"/>
<circle cx="294.0" cy="156.8" r="0.8" fill="#d0173a"/>
<circle cx="296.1" cy="153.6" r="0.8" fill="#d0173a"/>
<circle cx="303.9" cy="157.2" r="0.8" fill="#d0173a"/>
<circle cx="293.0" cy="157.2" r="0.8" fill="#d0173a"/>
<circle cx="302.9" cy="157.1" r="0.8" fill="#d0173a"/>
<circle cx="310.6" cy="116.6" r="0.8" fill="#d0173a"/>
<circle cx="294.2" cy="149.4" r="0.8" fill="#d0173a"/>
<circle cx="296.8" cy="148.1" r="0.8" fill="#d0173a"/>
<circle cx="301.4" cy="156.8" r="0.8" fill="#d0173a"/>
<circle cx="294.6" cy="156.9" r="0.8" fill="#d0173a"/>
<circle cx="305.0" cy="157.0" r="0.8" fill="#d0173a"/>
<circle cx="301.5" cy="156.4" r="0.8" fill="#d0173a"/>
<circle cx="293.2" cy="144.3" r="0.8" fill="#d0173a"/>
<circle cx="300.5" cy="150.7" r="0.8" fill="#d0173a"/>
<circle cx="298.7" cy="157.2" r="0.8" fill="#d0173a"/>
<circle cx="309.8" cy="157.0" r="0.8" fill="#d0173a"/>
<circle cx="294.0" cy="145.8" r="0.8" fill="#d0173a"/>
<circle cx="311.1" cy="154.8" r="0.8" fill="#d0173a"/>
<circle cx="304.0" cy="154.3" r="0.8" fill="#d0173a"/>
<circle cx="303.8" cy="130.9" r="0.8" fill="#d0173a"/>
<circle cx="325.5" cy="154.6" r="0.8" fill="#d0173a"/>
<circle cx="298.8" cy="144.4" r="0.8" fill="#d0173a"/>
<circle cx="294.8" cy="146.7" r="0.8" fill="#d0173a"/>
<circle cx="293.6" cy="157.1" r="0.8" fill="#d0173a"/>
<circle cx="323.0" cy="156.6" r="0.8" fill="#d0173a"/>
<circle cx="301.3" cy="147.7" r="0.8" fill="#d0173a"/>
<circle cx="296.1" cy="155.4" r="0.8" fill="#d0173a"/>
<circle cx="299.2" cy="146.0" r="0.8" fill="#d0173a"/>
<circle cx="306.2" cy="152.3" r="0.8" fill="#d0173a"/>
<circle cx="303.1" cy="156.4" r="0.8" fill="#d0173a"/>
<circle cx="304.8" cy="148.1" r="0.8" fill="#d0173a"/>
<circle cx="305.6" cy="155.3" r="0.8" fill="#d0173a"/>
<circle cx="296.7" cy="151.3" r="0.8" fill="#d0173a"/>
<circle cx="304.1" cy="155.6" r="0.8" fill="#d0173a"/>
<circle cx="292.6" cy="145.7" r="0.8" fill="#d0173a"/>
<circle cx="292.9" cy="154.8" r="0.8" fill="#d0173a"/>
<circle cx="293.6" cy="157.2" r="0.8" fill="#d0173a"/>
<circle cx="294.8" cy="151.6" r="0.8" fill="#d0173a"/>
<circle cx="308.3" cy="157.2" r="0.8" fill="#d0173a"/>
<circle cx="305.2" cy="156.5" r="0.8" fill="#d0173a"/>
<circle cx="296.1" cy="157.0" r="0.8" fill="#d0173a"/>
<circle cx="302.9" cy="153.4" r="0.8" fill="#d0173a"/>
<circle cx="297.7" cy="157.2" r="0.8" fill="#d0173a"/>
<circle cx="306.7" cy="156.9" r="0.8" fill="#d0173a"/>
<circle cx="294.7" cy="154.0" r="0.8" fill="#d0173a"/>
<circle cx="302.1" cy="156.7" r="0.8" fill="#d0173a"/>
<circle cx="310.9" cy="148.0" r="0.8" fill="#d0173a"/>
<circle cx="297.3" cy="153.1" r="0.8" fill="#d0173a"/>
<circle cx="303.6" cy="147.4" r="0.8" fill="#d0173a"/>
<circle cx="299.6" cy="149.7" r="0.8" fill="#d0173a"/>
<circle cx="294.4" cy="149.4" r="0.8" fill="#d0173a"/>
<circle cx="305.9" cy="152.9" r="0.8" fill="#d0173a"/>
<circle cx="295.8" cy="151.1" r="0.8" fill="#d0173a"/>
<circle cx="301.9" cy="148.9" r="0.8" fill="#d0173a"/>
<circle cx="295.2" cy="147.0" r="0.8" fill="#d0173a"/>
<circle cx="292.6" cy="148.6" r="0.8" fill="#d0173a"/>
<circle cx="296.0" cy="146.5" r="0.8" fill="#d0173a"/>
<circle cx="314.3" cy="157.2" r="0.8" fill="#d0173a"/>
<circle cx="292.8" cy="144.6" r="0.8" fill="#d0173a"/>
<circle cx="293.1" cy="150.5" r="0.8" fill="#d0173a"/>
<circle cx="313.1" cy="156.1" r="0.8" fill="#d0173a"/>
<circle cx="308.3" cy="157.2" r="0.8" fill="#d0173a"/>
<circle cx="292.6" cy="150.7" r="0.8" fill="#d0173a"/>
<circle cx="298.6" cy="156.5" r="0.8" fill="#d0173a"/>
<circle cx="300.0" cy="155.8" r="0.8" fill="#d0173a"/>
<circle cx="299.5" cy="147.9" r="0.8" fill="#d0173a"/>
<circle cx="302.3" cy="152.9" r="0.8" fill="#d0173a"/>
<circle cx="302.9" cy="156.8" r="0.8" fill="#d0173a"/>
<circle cx="302.2" cy="150.0" r="0.8" fill="#d0173a"/>
<circle cx="313.6" cy="155.0" r="0.8" fill="#d0173a"/>
<circle cx="293.5" cy="149.3" r="0.8" fill="#d0173a"/>
<circle cx="296.4" cy="156.8" r="0.8" fill="#d0173a"/>
<circle cx="300.7" cy="157.1" r="0.8" fill="#d0173a"/>
<circle cx="305.1" cy="149.4" r="0.8" fill="#d0173a"/>
<circle cx="293.1" cy="157.2" r="0.8" fill="#d0173a"/>
<circle cx="304.2" cy="157.1" r="0.8" fill="#d0173a"/>
<circle cx="295.2" cy="153.7" r="0.8" fill="#d0173a"/>
<circle cx="300.1" cy="149.4" r="0.8" fill="#d0173a"/>
<circle cx="293.6" cy="154.0" r="0.8" fill="#d0173a"/>
<circle cx="306.4" cy="154.4" r="0.8" fill="#d0173a"/>
<circle cx="294.3" cy="154.7" r="0.8" fill="#d0173a"/>
<circle cx="320.9" cy="153.3" r="0.8" fill="#d0173a"/>
<circle cx="315.7" cy="151.3" r="0.8" fill="#d0173a"/>
<circle cx="292.8" cy="148.0" r="0.8" fill="#d0173a"/>
<circle cx="302.0" cy="156.7" r="0.8" fill="#d0173a"/>
<circle cx="294.3" cy="146.7" r="0.8" fill="#d0173a"/>
<circle cx="293.2" cy="149.2" r="0.8" fill="#d0173a"/>
<circle cx="297.8" cy="154.2" r="0.8" fill="#d0173a"/>
<circle cx="304.3" cy="157.1" r="0.8" fill="#d0173a"/>
<circle cx="303.1" cy="156.5" r="0.8" fill="#d0173a"/>
<circle cx="297.7" cy="145.4" r="0.8" fill="#d0173a"/>
<circle cx="294.3" cy="155.7" r="0.8" fill="#d0173a"/>
<circle cx="304.9" cy="152.8" r="0.8" fill="#d0173a"/>
<circle cx="294.2" cy="155.7" r="0.8" fill="#d0173a"/>
<circle cx="302.2" cy="146.5" r="0.8" fill="#d0173a"/>
<circle cx="296.0" cy="151.8" r="0.8" fill="#d0173a"/>
<circle cx="294.3" cy="154.3" r="0.8" fill="#d0173a"/>
<circle cx="296.7" cy="145.4" r="0.8" fill="#d0173a"/>
<circle cx="306.3" cy="155.0" r="0.8" fill="#d0173a"/>
<circle cx="297.1" cy="157.1" r="0.8" fill="#d0173a"/>
<circle cx="301.3" cy="156.0" r="0.8" fill="#d0173a"/>
<circle cx="297.7" cy="154.2" r="0.8" fill="#d0173a"/>
<circle cx="307.4" cy="156.4" r="0.8" fill="#d0173a"/>
<circle cx="292.8" cy="153.8" r="0.8" fill="#d0173a"/>
<circle cx="303.1" cy="157.0" r="0.8" fill="#d0173a"/>
<circle cx="294.4" cy="153.3" r="0.8" fill="#d0173a"/>
<circle cx="309.6" cy="157.1" r="0.8" fill="#d0173a"/>
<circle cx="299.3" cy="157.0" r="0.8" fill="#d0173a"/>
<circle cx="309.3" cy="152.3" r="0.8" fill="#d0173a"/>
<circle cx="295.9" cy="151.8" r="0.8" fill="#d0173a"/>
<circle cx="303.3" cy="152.6" r="0.8" fill="#d0173a"/>
<circle cx="293.2" cy="157.0" r="0.8" fill="#d0173a"/>
<circle cx="294.3" cy="155.3" r="0.8" fill="#d0173a"/>
<circle cx="300.1" cy="135.7" r="0.8" fill="#d0173a"/>
<circle cx="295.3" cy="157.1" r="0.8" fill="#d0173a"/>
<circle cx="304.1" cy="157.1" r="0.8" fill="#d0173a"/>
<circle cx="292.7" cy="152.6" r="0.8" fill="#d0173a"/>
<circle cx="303.0" cy="153.9" r="0.8" fill="#d0173a"/>
<circle cx="296.2" cy="156.6" r="0.8" fill="#d0173a"/>
<circle cx="292.6" cy="151.0" r="0.8" fill="#d0173a"/>
<circle cx="306.8" cy="156.9" r="0.8" fill="#d0173a"/>
<circle cx="300.9" cy="151.2" r="0.8" fill="#d0173a"/>
<circle cx="302.3" cy="153.6" r="0.8" fill="#d0173a"/>
<circle cx="305.3" cy="151.3" r="0.8" fill="#d0173a"/>
<circle cx="298.9" cy="155.3" r="0.8" fill="#d0173a"/>
<circle cx="292.8" cy="155.6" r="0.8" fill="#d0173a"/>
<circle cx="302.7" cy="137.8" r="0.8" fill="#d0173a"/>
<circle cx="293.9" cy="157.2" r="0.8" fill="#d0173a"/>
<circle cx="294.6" cy="154.3" r="0.8" fill="#d0173a"/>
<circle cx="292.7" cy="156.1" r="0.8" fill="#d0173a"/>
<circle cx="314.5" cy="155.4" r="0.8" fill="#d0173a"/>
<circle cx="299.2" cy="157.1" r="0.8" fill="#d0173a"/>
<circle cx="293.7" cy="144.4" r="0.8" fill="#d0173a"/>
<circle cx="294.2" cy="157.1" r="0.8" fill="#d0173a"/>
<circle cx="301.9" cy="155.7" r="0.8" fill="#d0173a"/>
<circle cx="292.8" cy="156.9" r="0.8" fill="#d0173a"/>
<circle cx="302.9" cy="147.7" r="0.8" fill="#d0173a"/>
<circle cx="297.7" cy="155.2" r="0.8" fill="#d0173a"/>
<circle cx="296.2" cy="156.9" r="0.8" fill="#d0173a"/>
<circle cx="299.5" cy="150.7" r="0.8" fill="#d0173a"/>
<circle cx="292.6" cy="154.1" r="0.8" fill="#d0173a"/>
<circle cx="295.1" cy="156.5" r="0.8" fill="#d0173a"/>
<circle cx="304.0" cy="157.2" r="0.8" fill="#d0173a"/>
<circle cx="293.4" cy="154.7" r="0.8" fill="#d0173a"/>
<circle cx="304.4" cy="151.2" r="0.8" fill="#d0173a"/>
<circle cx="296.1" cy="146.6" r="0.8" fill="#d0173a"/>
<circle cx="293.6" cy="149.9" r="0.8" fill="#d0173a"/>
<circle cx="325.6" cy="155.5" r="0.8" fill="#d0173a"/>
<circle cx="320.5" cy="157.1" r="0.8" fill="#d0173a"/>
<circle cx="302.6" cy="152.1" r="0.8" fill="#d0173a"/>
<circle cx="318.8" cy="157.2" r="0.8" fill="#d0173a"/>
<circle cx="303.3" cy="153.2" r="0.8" fill="#d0173a"/>
<circle cx="321.8" cy="157.2" r="0.8" fill="#d0173a"/>
<circle cx="292.7" cy="156.5" r="0.8" fill="#d0173a"/>
<circle cx="304.9" cy="156.6" r="0.8" fill="#d0173a"/>
<circle cx="295.5" cy="145.3" r="0.8" fill="#d0173a"/>
<circle cx="301.6" cy="157.2" r="0.8" fill="#d0173a"/>
<circle cx="292.9" cy="144.3" r="0.8" fill="#d0173a"/>
<circle cx="293.1" cy="157.2" r="0.8" fill="#d0173a"/>
<circle cx="298.0" cy="153.9" r="0.8" fill="#d0173a"/>
<circle cx="300.4" cy="156.7" r="0.8" fill="#d0173a"/>
<circle cx="297.9" cy="144.6" r="0.8" fill="#d0173a"/>
<circle cx="293.4" cy="156.5" r="0.8" fill="#d0173a"/>
<circle cx="317.0" cy="157.0" r="0.8" fill="#d0173a"/>
<circle cx="323.0" cy="156.8" r="0.8" fill="#d0173a"/>
<circle cx="305.1" cy="156.4" r="0.8" fill="#d0173a"/>
<circle cx="298.4" cy="138.1" r="0.8" fill="#d0173a"/>
<circle cx="292.7" cy="155.5" r="0.8" fill="#d0173a"/>
<circle cx="296.3" cy="157.0" r="0.8" fill="#d0173a"/>
<circle cx="297.1" cy="146.1" r="0.8" fill="#d0173a"/>
<circle cx="308.9" cy="153.8" r="0.8" fill="#d0173a"/>
<circle cx="302.4" cy="152.1" r="0.8" fill="#d0173a"/>
<circle cx="320.2" cy="155.1" r="0.8" fill="#d0173a"/>
<circle cx="292.7" cy="151.8" r="0.8" fill="#d0173a"/>
<circle cx="296.6" cy="156.5" r="0.8" fill="#d0173a"/>
<circle cx="297.4" cy="155.5" r="0.8" fill="#d0173a"/>
<circle cx="294.5" cy="156.9" r="0.8" fill="#d0173a"/>
<circle cx="293.2" cy="129.2" r="0.8" fill="#d0173a"/>
<circle cx="326.4" cy="154.4" r="0.8" fill="#d0173a"/>
<circle cx="309.0" cy="152.4" r="0.8" fill="#d0173a"/>
<circle cx="304.8" cy="151.3" r="0.8" fill="#d0173a"/>
<circle cx="295.3" cy="156.1" r="0.8" fill="#d0173a"/>
<circle cx="297.3" cy="155.9" r="0.8" fill="#d0173a"/>
<circle cx="295.4" cy="147.2" r="0.8" fill="#d0173a"/>
<circle cx="292.7" cy="153.9" r="0.8" fill="#d0173a"/>
<circle cx="292.6" cy="154.6" r="0.8" fill="#d0173a"/>
<circle cx="293.2" cy="149.3" r="0.8" fill="#d0173a"/>
<circle cx="293.3" cy="154.1" r="0.8" fill="#d0173a"/>
<circle cx="316.0" cy="156.2" r="0.8" fill="#d0173a"/>
<circle cx="302.3" cy="153.4" r="0.8" fill="#d0173a"/>
<circle cx="302.4" cy="157.2" r="0.8" fill="#d0173a"/>
<circle cx="294.9" cy="135.4" r="0.8" fill="#d0173a"/>
<circle cx="304.4" cy="156.8" r="0.8" fill="#d0173a"/>
<circle cx="295.6" cy="157.1" r="0.8" fill="#d0173a"/>
<circle cx="295.7" cy="157.1" r="0.8" fill="#d0173a"/>
<circle cx="295.7" cy="156.2" r="0.8" fill="#d0173a"/>
<circle cx="296.4" cy="150.4" r="0.8" fill="#d0173a"/>
<circle cx="292.7" cy="154.7" r="0.8" fill="#d0173a"/>
<circle cx="295.8" cy="146.0" r="0.8" fill="#d0173a"/>
<circle cx="300.1" cy="153.4" r="0.8" fill="#d0173a"/>
<circle cx="295.6" cy="157.2" r="0.8" fill="#d0173a"/>
<circle cx="292.8" cy="157.0" r="0.8" fill="#d0173a"/>
<circle cx="294.8" cy="156.7" r="0.8" fill="#d0173a"/>
<circle cx="293.9" cy="145.0" r="0.8" fill="#d0173a"/>
<circle cx="296.6" cy="151.2" r="0.8" fill="#d0173a"/>
<circle cx="304.2" cy="156.4" r="0.8" fill="#d0173a"/>
<circle cx="299.0" cy="145.8" r="0.8" fill="#d0173a"/>
<circle cx="293.9" cy="153.5" r="0.8" fill="#d0173a"/>
<circle cx="295.0" cy="150.4" r="0.8" fill="#d0173a"/>
<circle cx="292.7" cy="157.1" r="0.8" fill="#d0173a"/>
<circle cx="315.0" cy="46.3" r="0.85" fill="#d0173a"/>
<circle cx="299.9" cy="62.4" r="0.85" fill="#d0173a"/>
<circle cx="297.3" cy="60.9" r="0.85" fill="#d0173a"/>
<circle cx="310.8" cy="112.0" r="0.85" fill="#d0173a"/>
<circle cx="304.0" cy="116.4" r="0.85" fill="#d0173a"/>
<circle cx="318.6" cy="133.9" r="0.85" fill="#d0173a"/>
<circle cx="332.1" cy="138.2" r="0.85" fill="#d0173a"/>
<circle cx="298.3" cy="122.2" r="0.85" fill="#d0173a"/>
<circle cx="319.6" cy="156.9" r="0.6" fill="#333"/>
<circle cx="279.5" cy="156.2" r="0.6" fill="#333"/>
<circle cx="329.5" cy="156.4" r="0.6" fill="#333"/>
<circle cx="310.0" cy="156.3" r="0.6" fill="#333"/>
<circle cx="314.4" cy="156.5" r="0.6" fill="#333"/>
<circle cx="264.4" cy="156.4" r="0.6" fill="#333"/>
<circle cx="299.4" cy="157.0" r="0.6" fill="#333"/>
<circle cx="296.5" cy="156.5" r="0.6" fill="#333"/>
<circle cx="278.4" cy="156.5" r="0.6" fill="#333"/>
<circle cx="277.2" cy="156.7" r="0.6" fill="#333"/>
<circle cx="330.4" cy="156.7" r="0.6" fill="#333"/>
<circle cx="286.5" cy="157.2" r="0.6" fill="#333"/>
<circle cx="270.9" cy="156.0" r="0.6" fill="#333"/>
<circle cx="289.0" cy="156.2" r="0.6" fill="#333"/>
<circle cx="324.2" cy="156.2" r="0.6" fill="#333"/>
<circle cx="327.3" cy="155.9" r="0.6" fill="#333"/>
<circle cx="263.5" cy="156.3" r="0.6" fill="#333"/>
<circle cx="247.7" cy="156.3" r="0.6" fill="#333"/>
<circle cx="323.2" cy="156.1" r="0.6" fill="#333"/>
<circle cx="321.8" cy="156.4" r="0.6" fill="#333"/>
<circle cx="312.3" cy="156.9" r="0.6" fill="#333"/>
<circle cx="270.0" cy="157.1" r="0.6" fill="#333"/>
<circle cx="257.1" cy="156.1" r="0.6" fill="#333"/>
<circle cx="254.7" cy="156.1" r="0.6" fill="#333"/>
<circle cx="268.6" cy="156.0" r="0.6" fill="#333"/>
<circle cx="328.8" cy="157.1" r="0.6" fill="#333"/>
<circle cx="295.2" cy="156.2" r="0.6" fill="#333"/>
<circle cx="285.4" cy="157.2" r="0.6" fill="#333"/>
<circle cx="288.6" cy="156.2" r="0.6" fill="#333"/>
<circle cx="290.6" cy="157.0" r="0.6" fill="#333"/>
<circle cx="292.4" cy="157.2" r="0.6" fill="#333"/>
<circle cx="260.9" cy="156.7" r="0.6" fill="#333"/>
<circle cx="287.1" cy="156.7" r="0.6" fill="#333"/>
<circle cx="268.0" cy="155.8" r="0.6" fill="#333"/>
<circle cx="254.5" cy="157.0" r="0.6" fill="#333"/>
<circle cx="309.9" cy="156.7" r="0.6" fill="#333"/>
<circle cx="319.7" cy="156.0" r="0.6" fill="#333"/>
<circle cx="289.0" cy="156.3" r="0.6" fill="#333"/>
<circle cx="278.4" cy="156.1" r="0.6" fill="#333"/>
<circle cx="329.2" cy="156.3" r="0.6" fill="#333"/>
<circle cx="277.5" cy="155.9" r="0.6" fill="#333"/>
<circle cx="246.3" cy="156.1" r="0.6" fill="#333"/>
<circle cx="327.5" cy="156.9" r="0.6" fill="#333"/>
<circle cx="300.5" cy="157.0" r="0.6" fill="#333"/>
<circle cx="279.8" cy="155.8" r="0.6" fill="#333"/>
<line x1="282" y1="44.3" x2="282" y2="161.2" stroke="#111" stroke-width="1.5" stroke-dasharray="1.6 4.8"/>
<line x1="292.5" y1="44.3" x2="292.5" y2="161.2" stroke="#111" stroke-width="1.5" stroke-dasharray="1.6 4.8"/>
<rect x="236.30" y="41.00" width="105.00" height="121.20" fill="none" stroke="#111" stroke-width="1.3"/>
<line x1="233.30" y1="157.20" x2="236.30" y2="157.20" stroke="#111" stroke-width="1"/>
<text x="230.70" y="159.70" font-size="7.0" text-anchor="end" textLength="3.31" lengthAdjust="spacingAndGlyphs" fill="#333" stroke="#333" stroke-width="0.18">0</text>
<line x1="233.30" y1="128.00" x2="236.30" y2="128.00" stroke="#111" stroke-width="1"/>
<text x="230.70" y="130.50" font-size="7.0" text-anchor="end" textLength="6.62" lengthAdjust="spacingAndGlyphs" fill="#333" stroke="#333" stroke-width="0.18">20</text>
<line x1="233.30" y1="98.80" x2="236.30" y2="98.80" stroke="#111" stroke-width="1"/>
<text x="230.70" y="101.30" font-size="7.0" text-anchor="end" textLength="6.62" lengthAdjust="spacingAndGlyphs" fill="#333" stroke="#333" stroke-width="0.18">40</text>
<line x1="233.30" y1="69.70" x2="236.30" y2="69.70" stroke="#111" stroke-width="1"/>
<text x="230.70" y="72.20" font-size="7.0" text-anchor="end" textLength="6.62" lengthAdjust="spacingAndGlyphs" fill="#333" stroke="#333" stroke-width="0.18">60</text>
<line x1="233.30" y1="40.50" x2="236.30" y2="40.50" stroke="#111" stroke-width="1"/>
<text x="230.70" y="43.00" font-size="7.0" text-anchor="end" textLength="6.62" lengthAdjust="spacingAndGlyphs" fill="#333" stroke="#333" stroke-width="0.18">80</text>
<line x1="261.00" y1="162.20" x2="261.00" y2="165.20" stroke="#111" stroke-width="1"/>
<text x="261.00" y="174.00" font-size="7.0" text-anchor="middle" textLength="6.78" lengthAdjust="spacingAndGlyphs" fill="#333" stroke="#333" stroke-width="0.18">−5</text>
<line x1="287.40" y1="162.20" x2="287.40" y2="165.20" stroke="#111" stroke-width="1"/>
<text x="287.40" y="174.00" font-size="7.0" text-anchor="middle" textLength="3.31" lengthAdjust="spacingAndGlyphs" fill="#333" stroke="#333" stroke-width="0.18">0</text>
<line x1="313.40" y1="162.20" x2="313.40" y2="165.20" stroke="#111" stroke-width="1"/>
<text x="313.40" y="174.00" font-size="7.0" text-anchor="middle" textLength="3.31" lengthAdjust="spacingAndGlyphs" fill="#333" stroke="#333" stroke-width="0.18">5</text>
<line x1="339.30" y1="162.20" x2="339.30" y2="165.20" stroke="#111" stroke-width="1"/>
<text x="339.30" y="174.00" font-size="7.0" text-anchor="middle" textLength="6.62" lengthAdjust="spacingAndGlyphs" fill="#333" stroke="#333" stroke-width="0.18">10</text>
<text x="220.30" y="102.00" font-size="9" text-anchor="middle" textLength="34.50" lengthAdjust="spacingAndGlyphs" fill="#333" stroke="#333" stroke-width="0.18" transform="rotate(-90 220.30 102.00)">-Log<tspan font-size="6" dy="1.6">10</tspan><tspan dy="-1.6"> FDR</tspan></text>
<text x="289.00" y="186.00" font-size="8.6" text-anchor="middle" textLength="50.00" lengthAdjust="spacingAndGlyphs" fill="#333" stroke="#333" stroke-width="0.18">Log<tspan font-size="6" dy="1.8">2</tspan><tspan dy="-1.8"> fold change</tspan></text>
<line x1="298.00" y1="62.00" x2="305.00" y2="68.50" stroke="#333" stroke-width="0.7"/>
<text x="306.00" y="71.80" font-size="7.6" textLength="25.00" lengthAdjust="spacingAndGlyphs" fill="#333" stroke="#333" stroke-width="0.18" font-style="italic">IGF2BP1</text>
<line x1="301.00" y1="140.30" x2="309.00" y2="136.20" stroke="#333" stroke-width="0.7"/>
<text x="309.60" y="136.80" font-size="7.6" textLength="21.50" lengthAdjust="spacingAndGlyphs" fill="#333" stroke="#333" stroke-width="0.18" font-style="italic">LIN28B</text>
<line x1="259.00" y1="151.20" x2="268.60" y2="152.70" stroke="#333" stroke-width="0.7"/>
<text x="238.40" y="150.50" font-size="7.6" textLength="21.60" lengthAdjust="spacingAndGlyphs" fill="#333" stroke="#333" stroke-width="0.18" font-style="italic">GCNT2</text>
<text x="368.80" y="16.30" font-size="11.2" fill="#111" font-weight="bold">C</text>
<text x="403.00" y="13.80" font-size="8.4" textLength="51.80" lengthAdjust="spacingAndGlyphs" fill="#2a2a2a" stroke="#2a2a2a" stroke-width="0.05">HUDEP2 cells</text>
<line x1="403.00" y1="15.20" x2="454.80" y2="15.20" stroke="#2a2a2a" stroke-width="0.7"/>
<text x="398.50" y="23.60" font-size="8.4" textLength="59.30" lengthAdjust="spacingAndGlyphs" fill="#2a2a2a" stroke="#2a2a2a" stroke-width="0.05">RNA-seq DEGs</text>
<line x1="398.50" y1="25.00" x2="457.80" y2="25.00" stroke="#2a2a2a" stroke-width="0.7"/>
<defs><clipPath id="cl"><ellipse cx="422.2" cy="62" rx="32.8" ry="31.6"/></clipPath></defs>
<ellipse cx="422.2" cy="62" rx="32.8" ry="31.6" fill="#a9b770"/>
<ellipse cx="437" cy="62.6" rx="33.4" ry="31.6" fill="#abd0ec"/>
<ellipse cx="437" cy="62.6" rx="33.4" ry="31.6" fill="#6cabb0" clip-path="url(#cl)"/>
<text x="377.00" y="62.00" font-size="7.4" textLength="62.00" lengthAdjust="spacingAndGlyphs" stroke="#222" stroke-width="0.06">sgBMI1#1 vs. sgNeg</text>
<text x="443.70" y="62.00" font-size="7.4" textLength="61.00" lengthAdjust="spacingAndGlyphs" stroke="#222" stroke-width="0.06">sgBMI1#2 vs. sgNeg</text>
<text x="394.60" y="74.60" font-size="7.4" text-anchor="middle" stroke="#222" stroke-width="0.06">82</text>
<text x="428.80" y="74.60" font-size="7.4" text-anchor="middle" stroke="#222" stroke-width="0.06">348</text>
<text x="460.00" y="74.60" font-size="7.4" text-anchor="middle" stroke="#222" stroke-width="0.06">98</text>
<line x1="431.00" y1="81.00" x2="425.80" y2="95.00" stroke="#222" stroke-width="0.9"/>
<text x="436.00" y="90.60" font-size="7.4" textLength="73.80" lengthAdjust="spacingAndGlyphs" stroke="#222" stroke-width="0.06">P<tspan font-size="5" dy="2">adj</tspan><tspan dy="-2"> &lt; .1, Fold change &gt; 2</tspan></text>
<text x="393.00" y="110.40" font-size="7.2" textLength="64.50" lengthAdjust="spacingAndGlyphs" fill="#c8324f" stroke="#c8324f" stroke-width="0.05">Upregulated (n = 306)</text>
<line x1="393.00" y1="111.80" x2="457.50" y2="111.80" stroke="#c8324f" stroke-width="0.7"/>
<text x="426.20" y="118.20" font-size="7.6" text-anchor="middle" textLength="25.00" lengthAdjust="spacingAndGlyphs" fill="#c8324f" stroke="#c8324f" stroke-width="0.06" font-style="italic">IGF2BP1</text>
<text x="425.80" y="125.80" font-size="7.6" text-anchor="middle" textLength="21.50" lengthAdjust="spacingAndGlyphs" fill="#c8324f" stroke="#c8324f" stroke-width="0.06" font-style="italic">LIN28B</text>
<text x="425.60" y="133.50" font-size="7.6" text-anchor="middle" textLength="23.70" lengthAdjust="spacingAndGlyphs" fill="#c8324f" stroke="#c8324f" stroke-width="0.06" font-style="italic">HBG1/2</text>
<text x="391.30" y="143.00" font-size="7.2" textLength="67.60" lengthAdjust="spacingAndGlyphs" fill="#3b6ea8" stroke="#3b6ea8" stroke-width="0.05">Downregulated(n = 40)</text>
<line x1="391.30" y1="144.40" x2="458.90" y2="144.40" stroke="#3b6ea8" stroke-width="0.7"/>
<text x="425.80" y="151.00" font-size="7.6" text-anchor="middle" textLength="21.50" lengthAdjust="spacingAndGlyphs" fill="#3d5f8c" stroke="#3d5f8c" stroke-width="0.06" font-style="italic">GCNT2</text>
<text x="7.40" y="215.60" font-size="11.2" fill="#111" font-weight="bold">D</text>
<text x="57.00" y="214.00" font-size="8.4" textLength="90.00" lengthAdjust="spacingAndGlyphs" fill="#2a2a2a" stroke="#2a2a2a" stroke-width="0.05">Fetal enriched genes in</text>
<line x1="57.00" y1="215.40" x2="147.00" y2="215.40" stroke="#2a2a2a" stroke-width="0.7"/>
<text x="61.50" y="224.20" font-size="8.4" textLength="80.00" lengthAdjust="spacingAndGlyphs" fill="#2a2a2a" stroke="#2a2a2a" stroke-width="0.05">sgBMI1#1 vs. sgNeg</text>
<line x1="61.50" y1="225.60" x2="141.50" y2="225.60" stroke="#2a2a2a" stroke-width="0.7"/>
<text x="87.00" y="233.60" font-size="8.4" textLength="31.50" lengthAdjust="spacingAndGlyphs" fill="#2a2a2a" stroke="#2a2a2a" stroke-width="0.05">RNA-seq</text>
<line x1="87.00" y1="235.00" x2="118.50" y2="235.00" stroke="#2a2a2a" stroke-width="0.7"/>
<line x1="67.25" y1="239.50" x2="67.25" y2="283.00" stroke="#efefef" stroke-width="0.6"/>
<line x1="67.25" y1="303.00" x2="67.25" y2="325.00" stroke="#efefef" stroke-width="0.6"/>
<line x1="79.30" y1="239.50" x2="79.30" y2="283.00" stroke="#e4e4e4" stroke-width="0.6"/>
<line x1="79.30" y1="303.00" x2="79.30" y2="325.00" stroke="#e4e4e4" stroke-width="0.6"/>
<line x1="91.35" y1="239.50" x2="91.35" y2="283.00" stroke="#efefef" stroke-width="0.6"/>
<line x1="91.35" y1="303.00" x2="91.35" y2="325.00" stroke="#efefef" stroke-width="0.6"/>
<line x1="103.41" y1="239.50" x2="103.41" y2="283.00" stroke="#e4e4e4" stroke-width="0.6"/>
<line x1="103.41" y1="303.00" x2="103.41" y2="325.00" stroke="#e4e4e4" stroke-width="0.6"/>
<line x1="115.46" y1="239.50" x2="115.46" y2="283.00" stroke="#efefef" stroke-width="0.6"/>
<line x1="115.46" y1="303.00" x2="115.46" y2="325.00" stroke="#efefef" stroke-width="0.6"/>
<line x1="127.51" y1="239.50" x2="127.51" y2="283.00" stroke="#e4e4e4" stroke-width="0.6"/>
<line x1="127.51" y1="303.00" x2="127.51" y2="325.00" stroke="#e4e4e4" stroke-width="0.6"/>
<line x1="139.56" y1="239.50" x2="139.56" y2="283.00" stroke="#efefef" stroke-width="0.6"/>
<line x1="139.56" y1="303.00" x2="139.56" y2="325.00" stroke="#efefef" stroke-width="0.6"/>
<rect x="55.20" y="283" width="14.30" height="13.6" fill="#151515"/>
<rect x="58.20" y="283" width="0.6" height="13.6" fill="#3a3a3a"/>
<rect x="62.20" y="283" width="0.6" height="13.6" fill="#3a3a3a"/>
<rect x="66.80" y="283" width="0.6" height="13.6" fill="#3a3a3a"/>
<rect x="70.30" y="283" width="1.05" height="13.6" fill="#151515"/>
<rect x="71.40" y="283" width="1.05" height="13.6" fill="#151515"/>
<rect x="74.60" y="283" width="1.05" height="13.6" fill="#151515"/>
<rect x="78.30" y="283" width="1.05" height="13.6" fill="#151515"/>
<rect x="79.50" y="283" width="1.05" height="13.6" fill="#151515"/>
<rect x="80.70" y="283" width="1.05" height="13.6" fill="#151515"/>
<rect x="82.10" y="283" width="1.05" height="13.6" fill="#151515"/>
<rect x="83.60" y="283" width="1.05" height="13.6" fill="#666"/>
<rect x="85.00" y="283" width="1.05" height="13.6" fill="#151515"/>
<rect x="86.40" y="283" width="1.05" height="13.6" fill="#666"/>
<rect x="92.60" y="283" width="0.9" height="13.6" fill="#151515"/>
<rect x="94.10" y="283" width="0.9" height="13.6" fill="#151515"/>
<rect x="97.10" y="283" width="0.9" height="13.6" fill="#151515"/>
<rect x="101.80" y="283" width="0.9" height="13.6" fill="#151515"/>
<rect x="106.50" y="283" width="0.9" height="13.6" fill="#151515"/>
<rect x="107.80" y="283" width="0.9" height="13.6" fill="#151515"/>
<rect x="110.20" y="283" width="0.9" height="13.6" fill="#151515"/>
<rect x="113.00" y="283" width="0.9" height="13.6" fill="#151515"/>
<rect x="115.20" y="283" width="0.9" height="13.6" fill="#666"/>
<rect x="118.50" y="283" width="0.9" height="13.6" fill="#151515"/>
<rect x="121.00" y="283" width="0.9" height="13.6" fill="#151515"/>
<rect x="123.50" y="283" width="0.9" height="13.6" fill="#151515"/>
<rect x="126.80" y="283" width="0.9" height="13.6" fill="#666"/>
<rect x="129.20" y="283" width="0.9" height="13.6" fill="#666"/>
<rect x="131.50" y="283" width="0.9" height="13.6" fill="#151515"/>
<rect x="135.10" y="283" width="0.9" height="13.6" fill="#151515"/>
<rect x="137.40" y="283" width="0.9" height="13.6" fill="#151515"/>
<rect x="140.50" y="283" width="0.9" height="13.6" fill="#151515"/>
<rect x="143.60" y="283" width="0.9" height="13.6" fill="#666"/>
<rect x="144.80" y="283" width="0.9" height="13.6" fill="#666"/>
<rect x="147.70" y="283" width="0.9" height="13.6" fill="#151515"/>
<rect x="55.20" y="297.2" width="53.40" height="5.3" fill="#e5281d"/>
<rect x="108.60" y="297.2" width="25.20" height="5.3" fill="#ee6a4e"/>
<rect x="133.80" y="297.2" width="7.20" height="5.3" fill="#f4a791"/>
<rect x="141.00" y="297.2" width="5.00" height="5.3" fill="#fbf0ec"/>
<rect x="146.00" y="297.2" width="1.20" height="5.3" fill="#8fc8e6"/>
<rect x="147.20" y="297.2" width="2.00" height="5.3" fill="#2f9ad6"/>
<path d="M55.2 314.6 L55.2 309.5 L58.2 312.2 L63.2 313.6 L75.2 314.2 L146.2 314.9 L147.7 316.0 L148.4 321.5 L149.2 322.0 L149.2 314.6 Z" fill="#e2e2e2" stroke="#aaaaaa" stroke-width="0.6"/>
<polyline fill="none" stroke="#3aaa3a" stroke-width="1.2" points="55.2,281.0 55.2,280.7 55.3,280.0 55.3,279.2 55.4,278.2 55.5,277.0 55.5,275.7 55.6,274.4 55.7,273.0 55.9,271.5 56.0,270.0 56.1,268.5 56.2,267.0 56.4,265.5 56.5,264.0 56.7,262.5 56.9,261.1 57.0,259.7 57.2,258.3 57.4,257.1 57.6,255.8 57.8,254.6 58.0,253.5 58.2,252.4 58.4,251.4 58.6,250.5 58.8,249.6 59.0,248.8 59.2,248.0 59.5,247.3 59.7,246.7 60.0,246.1 60.2,245.6 60.5,245.1 60.7,244.6 61.0,244.2 61.2,243.9 61.5,243.6 61.8,243.3 62.1,243.1 62.4,242.9 62.6,242.7 62.9,242.6 63.2,242.5 63.5,242.4 63.8,242.3 64.2,242.3 64.5,242.3 64.8,242.3 65.1,242.3 65.4,242.4 65.8,242.4 66.1,242.5 66.4,242.6 66.8,242.7 67.1,242.8 67.5,242.9 67.8,243.0 68.2,243.1 68.5,243.3 68.9,243.4 69.3,243.6 69.6,243.7 70.0,243.9 70.4,244.0 70.8,244.2 71.1,244.4 71.5,244.6 71.9,244.7 72.3,244.9 72.7,245.1 73.1,245.3 73.5,245.5 73.9,245.7 74.4,245.9 74.8,246.1 75.2,246.3 75.6,246.5 76.0,246.7 76.5,246.9 76.9,247.1 77.3,247.3 77.8,247.5 78.2,247.8 78.7,248.0 79.1,248.2 79.6,248.4 80.0,248.6 80.5,248.9 80.9,249.1 81.4,249.3 81.9,249.5 82.3,249.8 82.8,250.0 83.3,250.2 83.8,250.5 84.2,250.7 84.7,251.0 85.2,251.2 85.7,251.4 86.2,251.7 86.7,251.9 87.2,252.2 87.7,252.4 88.2,252.7 88.7,252.9 89.2,253.2 89.8,253.4 90.3,253.7 90.8,253.9 91.3,254.2 91.8,254.4 92.4,254.7 92.9,254.9 93.4,255.2 94.0,255.5 94.5,255.7 95.1,256.0 95.6,256.3 96.2,256.5 96.7,256.8 97.3,257.1 97.8,257.3 98.4,257.6 98.9,257.9 99.5,258.1 100.1,258.4 100.7,258.7 101.2,259.0 101.8,259.2 102.4,259.5 103.0,259.8 103.6,260.1 104.1,260.4 104.7,260.7 105.3,260.9 105.9,261.2 106.5,261.5 107.1,261.8 107.7,262.1 108.3,262.4 108.9,262.7 109.5,263.0 110.2,263.3 110.8,263.5 111.4,263.8 112.0,264.1 112.6,264.4 113.3,264.7 113.9,265.0 114.5,265.3 115.2,265.6 115.8,265.9 116.4,266.2 117.1,266.5 117.7,266.8 118.4,267.1 119.0,267.5 119.7,267.8 120.3,268.1 121.0,268.4 121.6,268.7 122.3,269.0 123.0,269.3 123.6,269.6 124.3,269.9 125.0,270.2 125.6,270.6 126.3,270.9 127.0,271.2 127.7,271.5 128.4,271.8 129.0,272.1 129.7,272.5 130.4,272.8 131.1,273.1 131.8,273.4 132.5,273.7 133.2,274.0 133.9,274.4 134.6,274.7 135.3,275.0 136.0,275.3 136.7,275.7 137.5,276.0 138.2,276.3 138.9,276.6 139.6,276.9 140.3,277.3 141.1,277.6 141.8,277.9 142.5,278.2 143.3,278.5 144.0,278.9 144.7,279.2 145.5,279.5 146.2,279.8 147.0,280.1 147.7,280.4 148.4,280.7 149.2,281.0"/>
<line x1="55.20" y1="239.30" x2="55.20" y2="325.90" stroke="#111" stroke-width="1.2"/>
<line x1="54.60" y1="325.30" x2="149.20" y2="325.30" stroke="#111" stroke-width="1.2"/>
<line x1="52.20" y1="242.30" x2="55.20" y2="242.30" stroke="#111" stroke-width="1"/>
<text x="50.00" y="244.90" font-size="7.3" text-anchor="end" fill="#333" stroke="#333" stroke-width="0.18">0.8</text>
<line x1="52.20" y1="251.98" x2="55.20" y2="251.98" stroke="#111" stroke-width="1"/>
<text x="50.00" y="254.58" font-size="7.3" text-anchor="end" fill="#333" stroke="#333" stroke-width="0.18">0.6</text>
<line x1="52.20" y1="261.65" x2="55.20" y2="261.65" stroke="#111" stroke-width="1"/>
<text x="50.00" y="264.25" font-size="7.3" text-anchor="end" fill="#333" stroke="#333" stroke-width="0.18">0.4</text>
<line x1="52.20" y1="271.32" x2="55.20" y2="271.32" stroke="#111" stroke-width="1"/>
<text x="50.00" y="273.93" font-size="7.3" text-anchor="end" fill="#333" stroke="#333" stroke-width="0.18">0.2</text>
<line x1="52.20" y1="281.00" x2="55.20" y2="281.00" stroke="#111" stroke-width="1"/>
<text x="50.00" y="283.60" font-size="7.3" text-anchor="end" fill="#333" stroke="#333" stroke-width="0.18">0</text>
<line x1="52.20" y1="308.20" x2="55.20" y2="308.20" stroke="#111" stroke-width="1"/>
<text x="50.00" y="310.50" font-size="6.8" text-anchor="end" textLength="3.40" lengthAdjust="spacingAndGlyphs" fill="#444" stroke="#444" stroke-width="0.18">5</text>
<line x1="52.20" y1="314.70" x2="55.20" y2="314.70" stroke="#111" stroke-width="1"/>
<text x="50.00" y="317.00" font-size="6.8" text-anchor="end" textLength="3.40" lengthAdjust="spacingAndGlyphs" fill="#444" stroke="#444" stroke-width="0.18">0</text>
<line x1="52.20" y1="320.80" x2="55.20" y2="320.80" stroke="#111" stroke-width="1"/>
<text x="50.00" y="323.10" font-size="6.8" text-anchor="end" textLength="6.98" lengthAdjust="spacingAndGlyphs" fill="#444" stroke="#444" stroke-width="0.18">−5</text>
<line x1="79.30" y1="325.30" x2="79.30" y2="328.30" stroke="#111" stroke-width="1"/>
<text x="79.30" y="336.60" font-size="7.2" text-anchor="middle" textLength="13.77" lengthAdjust="spacingAndGlyphs" fill="#333" stroke="#333" stroke-width="0.18">4000</text>
<line x1="103.41" y1="325.30" x2="103.41" y2="328.30" stroke="#111" stroke-width="1"/>
<text x="103.41" y="336.60" font-size="7.2" text-anchor="middle" textLength="13.77" lengthAdjust="spacingAndGlyphs" fill="#333" stroke="#333" stroke-width="0.18">8000</text>
<line x1="127.51" y1="325.30" x2="127.51" y2="328.30" stroke="#111" stroke-width="1"/>
<text x="127.51" y="336.60" font-size="7.2" text-anchor="middle" textLength="17.22" lengthAdjust="spacingAndGlyphs" fill="#333" stroke="#333" stroke-width="0.18">12000</text>
<text x="102.50" y="349.20" font-size="9.0" text-anchor="middle" textLength="71.00" lengthAdjust="spacingAndGlyphs" fill="#333" stroke="#333" stroke-width="0.18">Rank in ordered dataset</text>
<text x="24.10" y="261.00" font-size="8.4" text-anchor="middle" textLength="25.60" lengthAdjust="spacingAndGlyphs" fill="#333" stroke="#333" stroke-width="0.18" transform="rotate(-90 24.10 261.00)">Running</text>
<text x="35.00" y="261.00" font-size="8.4" text-anchor="middle" textLength="51.60" lengthAdjust="spacingAndGlyphs" fill="#333" stroke="#333" stroke-width="0.18" transform="rotate(-90 35.00 261.00)">enrichment score</text>
<text x="24.00" y="313.70" font-size="8.4" text-anchor="middle" textLength="32.90" lengthAdjust="spacingAndGlyphs" fill="#333" stroke="#333" stroke-width="0.18" transform="rotate(-90 24.00 313.70)">Ranked list</text>
<text x="34.00" y="313.90" font-size="8.4" text-anchor="middle" textLength="18.80" lengthAdjust="spacingAndGlyphs" fill="#333" stroke="#333" stroke-width="0.18" transform="rotate(-90 34.00 313.90)">metric</text>
<text x="96.00" y="244.70" font-size="7.4" textLength="47.40" lengthAdjust="spacingAndGlyphs" stroke="#222" stroke-width="0.06">NES = 2.512278</text>
<text x="86.00" y="251.90" font-size="7.4" textLength="67.00" lengthAdjust="spacingAndGlyphs" stroke="#222" stroke-width="0.06">FDR = 2.430194 × 10<tspan font-size="4.6" dy="-3">−36</tspan></text>
<text x="188.30" y="215.60" font-size="11.2" fill="#111" font-weight="bold">E</text>
<text x="238.60" y="214.00" font-size="8.4" textLength="89.70" lengthAdjust="spacingAndGlyphs" fill="#2a2a2a" stroke="#2a2a2a" stroke-width="0.05">Fetal enriched genes in</text>
<line x1="238.60" y1="215.40" x2="328.30" y2="215.40" stroke="#2a2a2a" stroke-width="0.7"/>
<text x="243.80" y="224.20" font-size="8.4" textLength="80.00" lengthAdjust="spacingAndGlyphs" fill="#2a2a2a" stroke="#2a2a2a" stroke-width="0.05">sgBMI1#2 vs. sgNeg</text>
<line x1="243.80" y1="225.60" x2="323.80" y2="225.60" stroke="#2a2a2a" stroke-width="0.7"/>
<text x="267.00" y="233.60" font-size="8.4" textLength="33.60" lengthAdjust="spacingAndGlyphs" fill="#2a2a2a" stroke="#2a2a2a" stroke-width="0.05">RNA-seq</text>
<line x1="267.00" y1="235.00" x2="300.60" y2="235.00" stroke="#2a2a2a" stroke-width="0.7"/>
<line x1="248.50" y1="239.50" x2="248.50" y2="283.00" stroke="#efefef" stroke-width="0.6"/>
<line x1="248.50" y1="303.00" x2="248.50" y2="325.00" stroke="#efefef" stroke-width="0.6"/>
<line x1="260.61" y1="239.50" x2="260.61" y2="283.00" stroke="#e4e4e4" stroke-width="0.6"/>
<line x1="260.61" y1="303.00" x2="260.61" y2="325.00" stroke="#e4e4e4" stroke-width="0.6"/>
<line x1="272.71" y1="239.50" x2="272.71" y2="283.00" stroke="#efefef" stroke-width="0.6"/>
<line x1="272.71" y1="303.00" x2="272.71" y2="325.00" stroke="#efefef" stroke-width="0.6"/>
<line x1="284.81" y1="239.50" x2="284.81" y2="283.00" stroke="#e4e4e4" stroke-width="0.6"/>
<line x1="284.81" y1="303.00" x2="284.81" y2="325.00" stroke="#e4e4e4" stroke-width="0.6"/>
<line x1="296.91" y1="239.50" x2="296.91" y2="283.00" stroke="#efefef" stroke-width="0.6"/>
<line x1="296.91" y1="303.00" x2="296.91" y2="325.00" stroke="#efefef" stroke-width="0.6"/>
<line x1="309.02" y1="239.50" x2="309.02" y2="283.00" stroke="#e4e4e4" stroke-width="0.6"/>
<line x1="309.02" y1="303.00" x2="309.02" y2="325.00" stroke="#e4e4e4" stroke-width="0.6"/>
<line x1="321.12" y1="239.50" x2="321.12" y2="283.00" stroke="#efefef" stroke-width="0.6"/>
<line x1="321.12" y1="303.00" x2="321.12" y2="325.00" stroke="#efefef" stroke-width="0.6"/>
<rect x="236.40" y="283" width="14.10" height="13.6" fill="#151515"/>
<rect x="239.60" y="283" width="0.6" height="13.6" fill="#3a3a3a"/>
<rect x="243.60" y="283" width="0.6" height="13.6" fill="#3a3a3a"/>
<rect x="247.70" y="283" width="0.6" height="13.6" fill="#3a3a3a"/>
<rect x="251.20" y="283" width="1.1" height="13.6" fill="#666"/>
<rect x="253.30" y="283" width="1.1" height="13.6" fill="#151515"/>
<rect x="254.50" y="283" width="1.1" height="13.6" fill="#151515"/>
<rect x="257.00" y="283" width="1.1" height="13.6" fill="#151515"/>
<rect x="258.90" y="283" width="1.1" height="13.6" fill="#151515"/>
<rect x="260.80" y="283" width="1.1" height="13.6" fill="#666"/>
<rect x="262.30" y="283" width="1.1" height="13.6" fill="#151515"/>
<rect x="264.60" y="283" width="1.1" height="13.6" fill="#151515"/>
<rect x="266.50" y="283" width="1.1" height="13.6" fill="#151515"/>
<rect x="268.80" y="283" width="1.1" height="13.6" fill="#666"/>
<rect x="271.00" y="283" width="1.1" height="13.6" fill="#151515"/>
<rect x="272.80" y="283" width="1.1" height="13.6" fill="#666"/>
<rect x="275.10" y="283" width="1.1" height="13.6" fill="#151515"/>
<rect x="277.80" y="283" width="1.1" height="13.6" fill="#151515"/>
<rect x="279.60" y="283" width="1.1" height="13.6" fill="#666"/>
<rect x="291.00" y="283" width="0.9" height="13.6" fill="#151515"/>
<rect x="295.80" y="283" width="0.9" height="13.6" fill="#151515"/>
<rect x="299.60" y="283" width="0.9" height="13.6" fill="#666"/>
<rect x="306.80" y="283" width="0.9" height="13.6" fill="#666"/>
<rect x="309.50" y="283" width="0.9" height="13.6" fill="#151515"/>
<rect x="312.20" y="283" width="0.9" height="13.6" fill="#151515"/>
<rect x="315.80" y="283" width="0.9" height="13.6" fill="#151515"/>
<rect x="318.20" y="283" width="0.9" height="13.6" fill="#151515"/>
<rect x="319.90" y="283" width="0.9" height="13.6" fill="#151515"/>
<rect x="323.30" y="283" width="0.9" height="13.6" fill="#151515"/>
<rect x="325.50" y="283" width="0.9" height="13.6" fill="#151515"/>
<rect x="327.20" y="283" width="0.9" height="13.6" fill="#666"/>
<rect x="329.20" y="283" width="0.9" height="13.6" fill="#666"/>
<rect x="236.40" y="297.2" width="50.20" height="5.3" fill="#e5281d"/>
<rect x="286.60" y="297.2" width="25.20" height="5.3" fill="#ee6a4e"/>
<rect x="311.80" y="297.2" width="8.10" height="5.3" fill="#f4a791"/>
<rect x="319.90" y="297.2" width="6.10" height="5.3" fill="#fbf0ec"/>
<rect x="326.00" y="297.2" width="2.00" height="5.3" fill="#8fc8e6"/>
<rect x="328.00" y="297.2" width="2.80" height="5.3" fill="#2f9ad6"/>
<path d="M236.4 314.6 L236.4 309.5 L239.4 312.2 L244.4 313.6 L256.4 314.2 L327.8 314.9 L329.3 316.0 L330.0 321.5 L330.8 322.0 L330.8 314.6 Z" fill="#e2e2e2" stroke="#aaaaaa" stroke-width="0.6"/>
<polyline fill="none" stroke="#3aaa3a" stroke-width="1.2" points="236.4,281.0 236.4,280.7 236.5,280.0 236.5,279.2 236.6,278.2 236.7,277.0 236.7,275.7 236.8,274.4 236.9,273.0 237.1,271.5 237.2,270.0 237.3,268.5 237.4,267.0 237.6,265.5 237.7,264.0 237.9,262.5 238.1,261.1 238.2,259.7 238.4,258.3 238.6,257.1 238.8,255.8 239.0,254.6 239.2,253.5 239.4,252.4 239.6,251.4 239.8,250.5 240.0,249.6 240.2,248.8 240.5,248.0 240.7,247.3 240.9,246.7 241.2,246.1 241.4,245.6 241.7,245.1 241.9,244.6 242.2,244.2 242.5,243.9 242.7,243.6 243.0,243.3 243.3,243.1 243.6,242.9 243.9,242.7 244.2,242.6 244.5,242.5 244.8,242.4 245.1,242.3 245.4,242.3 245.7,242.3 246.0,242.3 246.3,242.3 246.7,242.4 247.0,242.4 247.3,242.5 247.7,242.6 248.0,242.7 248.4,242.8 248.7,242.9 249.1,243.0 249.4,243.1 249.8,243.3 250.2,243.4 250.5,243.6 250.9,243.7 251.3,243.9 251.6,244.0 252.0,244.2 252.4,244.4 252.8,244.6 253.2,244.7 253.6,244.9 254.0,245.1 254.4,245.3 254.8,245.5 255.2,245.7 255.6,245.9 256.1,246.1 256.5,246.3 256.9,246.5 257.3,246.7 257.8,246.9 258.2,247.1 258.6,247.3 259.1,247.5 259.5,247.8 260.0,248.0 260.4,248.2 260.9,248.4 261.3,248.6 261.8,248.9 262.2,249.1 262.7,249.3 263.2,249.5 263.7,249.8 264.1,250.0 264.6,250.2 265.1,250.5 265.6,250.7 266.1,251.0 266.5,251.2 267.0,251.4 267.5,251.7 268.0,251.9 268.5,252.2 269.0,252.4 269.6,252.7 270.1,252.9 270.6,253.2 271.1,253.4 271.6,253.7 272.1,253.9 272.7,254.2 273.2,254.4 273.7,254.7 274.3,254.9 274.8,255.2 275.3,255.5 275.9,255.7 276.4,256.0 277.0,256.3 277.5,256.5 278.1,256.8 278.6,257.1 279.2,257.3 279.8,257.6 280.3,257.9 280.9,258.1 281.5,258.4 282.0,258.7 282.6,259.0 283.2,259.2 283.8,259.5 284.4,259.8 285.0,260.1 285.5,260.4 286.1,260.7 286.7,260.9 287.3,261.2 287.9,261.5 288.5,261.8 289.1,262.1 289.7,262.4 290.4,262.7 291.0,263.0 291.6,263.3 292.2,263.5 292.8,263.8 293.5,264.1 294.1,264.4 294.7,264.7 295.3,265.0 296.0,265.3 296.6,265.6 297.3,265.9 297.9,266.2 298.5,266.5 299.2,266.8 299.8,267.1 300.5,267.5 301.1,267.8 301.8,268.1 302.5,268.4 303.1,268.7 303.8,269.0 304.4,269.3 305.1,269.6 305.8,269.9 306.5,270.2 307.1,270.6 307.8,270.9 308.5,271.2 309.2,271.5 309.9,271.8 310.6,272.1 311.3,272.5 311.9,272.8 312.6,273.1 313.3,273.4 314.0,273.7 314.7,274.0 315.4,274.4 316.2,274.7 316.9,275.0 317.6,275.3 318.3,275.7 319.0,276.0 319.7,276.3 320.5,276.6 321.2,276.9 321.9,277.3 322.6,277.6 323.4,277.9 324.1,278.2 324.8,278.5 325.6,278.9 326.3,279.2 327.1,279.5 327.8,279.8 328.5,280.1 329.3,280.4 330.0,280.7 330.8,281.0"/>
<line x1="236.40" y1="239.30" x2="236.40" y2="325.90" stroke="#111" stroke-width="1.2"/>
<line x1="235.80" y1="325.30" x2="330.80" y2="325.30" stroke="#111" stroke-width="1.2"/>
<line x1="233.40" y1="242.30" x2="236.40" y2="242.30" stroke="#111" stroke-width="1"/>
<text x="231.20" y="244.90" font-size="7.3" text-anchor="end" fill="#333" stroke="#333" stroke-width="0.18">0.8</text>
<line x1="233.40" y1="251.98" x2="236.40" y2="251.98" stroke="#111" stroke-width="1"/>
<text x="231.20" y="254.58" font-size="7.3" text-anchor="end" fill="#333" stroke="#333" stroke-width="0.18">0.6</text>
<line x1="233.40" y1="261.65" x2="236.40" y2="261.65" stroke="#111" stroke-width="1"/>
<text x="231.20" y="264.25" font-size="7.3" text-anchor="end" fill="#333" stroke="#333" stroke-width="0.18">0.4</text>
<line x1="233.40" y1="271.32" x2="236.40" y2="271.32" stroke="#111" stroke-width="1"/>
<text x="231.20" y="273.93" font-size="7.3" text-anchor="end" fill="#333" stroke="#333" stroke-width="0.18">0.2</text>
<line x1="233.40" y1="281.00" x2="236.40" y2="281.00" stroke="#111" stroke-width="1"/>
<text x="231.20" y="283.60" font-size="7.3" text-anchor="end" fill="#333" stroke="#333" stroke-width="0.18">0</text>
<line x1="233.40" y1="302.80" x2="236.40" y2="302.80" stroke="#111" stroke-width="1"/>
<text x="231.20" y="305.10" font-size="6.8" text-anchor="end" textLength="6.81" lengthAdjust="spacingAndGlyphs" fill="#444" stroke="#444" stroke-width="0.18">10</text>
<line x1="233.40" y1="308.80" x2="236.40" y2="308.80" stroke="#111" stroke-width="1"/>
<text x="231.20" y="311.10" font-size="6.8" text-anchor="end" textLength="3.40" lengthAdjust="spacingAndGlyphs" fill="#444" stroke="#444" stroke-width="0.18">5</text>
<line x1="233.40" y1="314.50" x2="236.40" y2="314.50" stroke="#111" stroke-width="1"/>
<text x="231.20" y="316.80" font-size="6.8" text-anchor="end" textLength="3.40" lengthAdjust="spacingAndGlyphs" fill="#444" stroke="#444" stroke-width="0.18">0</text>
<line x1="233.40" y1="320.20" x2="236.40" y2="320.20" stroke="#111" stroke-width="1"/>
<text x="231.20" y="322.50" font-size="6.8" text-anchor="end" textLength="6.98" lengthAdjust="spacingAndGlyphs" fill="#444" stroke="#444" stroke-width="0.18">−5</text>
<line x1="260.61" y1="325.30" x2="260.61" y2="328.30" stroke="#111" stroke-width="1"/>
<text x="260.61" y="336.60" font-size="7.2" text-anchor="middle" textLength="13.77" lengthAdjust="spacingAndGlyphs" fill="#333" stroke="#333" stroke-width="0.18">4000</text>
<line x1="284.81" y1="325.30" x2="284.81" y2="328.30" stroke="#111" stroke-width="1"/>
<text x="284.81" y="336.60" font-size="7.2" text-anchor="middle" textLength="13.77" lengthAdjust="spacingAndGlyphs" fill="#333" stroke="#333" stroke-width="0.18">8000</text>
<line x1="309.02" y1="325.30" x2="309.02" y2="328.30" stroke="#111" stroke-width="1"/>
<text x="309.02" y="336.60" font-size="7.2" text-anchor="middle" textLength="17.22" lengthAdjust="spacingAndGlyphs" fill="#333" stroke="#333" stroke-width="0.18">12000</text>
<text x="283.70" y="349.20" font-size="9.0" text-anchor="middle" textLength="71.00" lengthAdjust="spacingAndGlyphs" fill="#333" stroke="#333" stroke-width="0.18">Rank in ordered dataset</text>
<text x="205.30" y="261.00" font-size="8.4" text-anchor="middle" textLength="25.60" lengthAdjust="spacingAndGlyphs" fill="#333" stroke="#333" stroke-width="0.18" transform="rotate(-90 205.30 261.00)">Running</text>
<text x="216.20" y="261.00" font-size="8.4" text-anchor="middle" textLength="51.60" lengthAdjust="spacingAndGlyphs" fill="#333" stroke="#333" stroke-width="0.18" transform="rotate(-90 216.20 261.00)">enrichment score</text>
<text x="205.20" y="313.70" font-size="8.4" text-anchor="middle" textLength="32.90" lengthAdjust="spacingAndGlyphs" fill="#333" stroke="#333" stroke-width="0.18" transform="rotate(-90 205.20 313.70)">Ranked list</text>
<text x="215.20" y="313.90" font-size="8.4" text-anchor="middle" textLength="18.80" lengthAdjust="spacingAndGlyphs" fill="#333" stroke="#333" stroke-width="0.18" transform="rotate(-90 215.20 313.90)">metric</text>
<text x="277.00" y="244.70" font-size="7.4" textLength="48.00" lengthAdjust="spacingAndGlyphs" stroke="#222" stroke-width="0.06">NES = 2.493183</text>
<text x="267.30" y="251.90" font-size="7.4" textLength="68.00" lengthAdjust="spacingAndGlyphs" stroke="#222" stroke-width="0.06">FDR = 9.914567 × 10<tspan font-size="4.6" dy="-3">−32</tspan></text>
<text x="369.40" y="176.80" font-size="11.2" fill="#111" font-weight="bold">F</text>
<text x="417.30" y="174.90" font-size="8.4" textLength="53.10" lengthAdjust="spacingAndGlyphs" fill="#2a2a2a" stroke="#2a2a2a" stroke-width="0.05">HUDEP2 cells</text>
<line x1="417.30" y1="176.30" x2="470.40" y2="176.30" stroke="#2a2a2a" stroke-width="0.7"/>
<text x="427.30" y="185.00" font-size="8.4" textLength="32.90" lengthAdjust="spacingAndGlyphs" fill="#2a2a2a" stroke="#2a2a2a" stroke-width="0.05">RT-qPCR</text>
<line x1="427.30" y1="186.40" x2="460.20" y2="186.40" stroke="#2a2a2a" stroke-width="0.7"/>
<rect x="410.80" y="275.18" width="7.3" height="7.42" fill="#174b89"/>
<line x1="414.45" y1="274.41" x2="414.45" y2="275.94" stroke="#111" stroke-width="0.8"/>
<line x1="412.85" y1="274.41" x2="416.05" y2="274.41" stroke="#111" stroke-width="0.8"/>
<circle cx="414.45" cy="274.56" r="1.5" fill="#111"/>
<circle cx="414.45" cy="275.48" r="1.5" fill="#111"/>
<circle cx="414.45" cy="275.10" r="1.5" fill="#111"/>
<rect x="420.40" y="199.66" width="7.3" height="82.94" fill="#174b89"/>
<line x1="424.05" y1="195.82" x2="424.05" y2="203.50" stroke="#111" stroke-width="0.8"/>
<line x1="422.45" y1="195.82" x2="425.65" y2="195.82" stroke="#111" stroke-width="0.8"/>
<circle cx="424.05" cy="194.02" r="1.5" fill="#111"/>
<circle cx="424.05" cy="204.26" r="1.5" fill="#111"/>
<circle cx="424.05" cy="201.19" r="1.5" fill="#111"/>
<rect x="430.40" y="277.99" width="7.3" height="4.61" fill="#174b89"/>
<line x1="434.05" y1="277.48" x2="434.05" y2="278.50" stroke="#111" stroke-width="0.8"/>
<line x1="432.45" y1="277.48" x2="435.65" y2="277.48" stroke="#111" stroke-width="0.8"/>
<circle cx="434.05" cy="277.58" r="1.5" fill="#111"/>
<circle cx="434.05" cy="278.20" r="1.5" fill="#111"/>
<circle cx="434.05" cy="277.94" r="1.5" fill="#111"/>
<rect x="440.40" y="277.35" width="7.3" height="5.25" fill="#174b89"/>
<line x1="444.05" y1="276.84" x2="444.05" y2="277.86" stroke="#111" stroke-width="0.8"/>
<line x1="442.45" y1="276.84" x2="445.65" y2="276.84" stroke="#111" stroke-width="0.8"/>
<circle cx="444.05" cy="276.94" r="1.5" fill="#111"/>
<circle cx="444.05" cy="277.56" r="1.5" fill="#111"/>
<circle cx="444.05" cy="277.30" r="1.5" fill="#111"/>
<rect x="450.60" y="248.81" width="7.3" height="33.79" fill="#174b89"/>
<line x1="454.25" y1="247.78" x2="454.25" y2="249.83" stroke="#111" stroke-width="0.8"/>
<line x1="452.65" y1="247.78" x2="455.85" y2="247.78" stroke="#111" stroke-width="0.8"/>
<circle cx="454.25" cy="247.99" r="1.5" fill="#111"/>
<circle cx="454.25" cy="249.22" r="1.5" fill="#111"/>
<circle cx="454.25" cy="248.71" r="1.5" fill="#111"/>
<rect x="460.60" y="223.21" width="7.3" height="59.39" fill="#174b89"/>
<line x1="464.25" y1="221.42" x2="464.25" y2="225.00" stroke="#111" stroke-width="0.8"/>
<line x1="462.65" y1="221.42" x2="465.85" y2="221.42" stroke="#111" stroke-width="0.8"/>
<circle cx="464.25" cy="221.77" r="1.5" fill="#111"/>
<circle cx="464.25" cy="223.92" r="1.5" fill="#111"/>
<circle cx="464.25" cy="223.03" r="1.5" fill="#111"/>
<rect x="470.80" y="279.40" width="7.3" height="3.20" fill="#174b89"/>
<line x1="474.45" y1="278.89" x2="474.45" y2="279.91" stroke="#111" stroke-width="0.8"/>
<line x1="472.85" y1="278.89" x2="476.05" y2="278.89" stroke="#111" stroke-width="0.8"/>
<circle cx="474.45" cy="278.99" r="1.5" fill="#111"/>
<circle cx="474.45" cy="279.60" r="1.5" fill="#111"/>
<circle cx="474.45" cy="279.35" r="1.5" fill="#111"/>
<rect x="480.80" y="269.03" width="7.3" height="13.57" fill="#174b89"/>
<line x1="484.45" y1="268.26" x2="484.45" y2="269.80" stroke="#111" stroke-width="0.8"/>
<line x1="482.85" y1="268.26" x2="486.05" y2="268.26" stroke="#111" stroke-width="0.8"/>
<circle cx="484.45" cy="268.42" r="1.5" fill="#111"/>
<circle cx="484.45" cy="269.34" r="1.5" fill="#111"/>
<circle cx="484.45" cy="268.96" r="1.5" fill="#111"/>
<line x1="409.00" y1="190.00" x2="409.00" y2="285.80" stroke="#111" stroke-width="1.2"/>
<line x1="408.40" y1="285.20" x2="490.00" y2="285.20" stroke="#111" stroke-width="1.2"/>
<line x1="406.00" y1="282.60" x2="409.00" y2="282.60" stroke="#111" stroke-width="1"/>
<text x="402.00" y="285.20" font-size="7.3" text-anchor="end" textLength="3.45" lengthAdjust="spacingAndGlyphs" fill="#333" stroke="#333" stroke-width="0.18">0</text>
<line x1="406.00" y1="257.00" x2="409.00" y2="257.00" stroke="#111" stroke-width="1"/>
<text x="402.00" y="259.60" font-size="7.3" text-anchor="end" textLength="12.08" lengthAdjust="spacingAndGlyphs" fill="#333" stroke="#333" stroke-width="0.18">0.01</text>
<line x1="406.00" y1="231.40" x2="409.00" y2="231.40" stroke="#111" stroke-width="1"/>
<text x="402.00" y="234.00" font-size="7.3" text-anchor="end" textLength="12.08" lengthAdjust="spacingAndGlyphs" fill="#333" stroke="#333" stroke-width="0.18">0.02</text>
<line x1="406.00" y1="205.80" x2="409.00" y2="205.80" stroke="#111" stroke-width="1"/>
<text x="402.00" y="208.40" font-size="7.3" text-anchor="end" textLength="12.08" lengthAdjust="spacingAndGlyphs" fill="#333" stroke="#333" stroke-width="0.18">0.03</text>
<line x1="414.45" y1="285.20" x2="414.45" y2="288.20" stroke="#111" stroke-width="1"/>
<line x1="424.05" y1="285.20" x2="424.05" y2="288.20" stroke="#111" stroke-width="1"/>
<line x1="434.05" y1="285.20" x2="434.05" y2="288.20" stroke="#111" stroke-width="1"/>
<line x1="444.05" y1="285.20" x2="444.05" y2="288.20" stroke="#111" stroke-width="1"/>
<line x1="454.25" y1="285.20" x2="454.25" y2="288.20" stroke="#111" stroke-width="1"/>
<line x1="464.25" y1="285.20" x2="464.25" y2="288.20" stroke="#111" stroke-width="1"/>
<line x1="474.45" y1="285.20" x2="474.45" y2="288.20" stroke="#111" stroke-width="1"/>
<line x1="484.45" y1="285.20" x2="484.45" y2="288.20" stroke="#111" stroke-width="1"/>
<text x="384.70" y="238.70" font-size="8.0" text-anchor="middle" textLength="53.00" lengthAdjust="spacingAndGlyphs" fill="#333" stroke="#333" stroke-width="0.18" transform="rotate(-90 384.70 238.70)"><tspan font-style="italic">HBG</tspan>/(<tspan font-style="italic">HBB</tspan> + <tspan font-style="italic">HBG</tspan>)</text>
<text x="416.95" y="296.30" font-size="8.0" text-anchor="end" textLength="18.20" lengthAdjust="spacingAndGlyphs" fill="#333" stroke="#333" stroke-width="0.18" transform="rotate(-45 416.95 296.30)">sgNeg</text>
<text x="426.55" y="296.30" font-size="8.0" text-anchor="end" textLength="21.34" lengthAdjust="spacingAndGlyphs" fill="#333" stroke="#333" stroke-width="0.18" transform="rotate(-45 426.55 296.30)">sgBMI1</text>
<text x="436.55" y="296.30" font-size="8.0" text-anchor="end" textLength="32.54" lengthAdjust="spacingAndGlyphs" fill="#333" stroke="#333" stroke-width="0.18" transform="rotate(-45 436.55 296.30)">sgIGF2BP1</text>
<text x="446.55" y="296.30" font-size="8.0" text-anchor="end" textLength="27.65" lengthAdjust="spacingAndGlyphs" fill="#333" stroke="#333" stroke-width="0.18" transform="rotate(-45 446.55 296.30)">sgLIN28B</text>
<text x="456.75" y="296.30" font-size="8.0" text-anchor="end" textLength="58.60" lengthAdjust="spacingAndGlyphs" fill="#333" stroke="#333" stroke-width="0.18" transform="rotate(-45 456.75 296.30)">sg(IGF2BP1 + BMI1)</text>
<text x="466.75" y="296.30" font-size="8.0" text-anchor="end" textLength="53.71" lengthAdjust="spacingAndGlyphs" fill="#333" stroke="#333" stroke-width="0.18" transform="rotate(-45 466.75 296.30)">sg(LIN28B + BMI1)</text>
<text x="476.95" y="296.30" font-size="8.0" text-anchor="end" textLength="64.91" lengthAdjust="spacingAndGlyphs" fill="#333" stroke="#333" stroke-width="0.18" transform="rotate(-45 476.95 296.30)">sg(LIN28B + IGF2BP1)</text>
<text x="486.95" y="296.30" font-size="8.0" text-anchor="end" textLength="86.78" lengthAdjust="spacingAndGlyphs" fill="#333" stroke="#333" stroke-width="0.18" transform="rotate(-45 486.95 296.30)">sg(LIN28B + BMI1 + IGF2BP1)</text>
<line x1="408.00" y1="356.00" x2="408.00" y2="363.00" stroke="#333" stroke-width="0.8"/>
<line x1="408.00" y1="363.00" x2="480.40" y2="363.00" stroke="#333" stroke-width="0.8"/>
<line x1="480.40" y1="356.00" x2="480.40" y2="363.00" stroke="#333" stroke-width="0.8"/>
<text x="444.00" y="373.80" font-size="8.4" text-anchor="middle" textLength="50.50" lengthAdjust="spacingAndGlyphs" fill="#333" stroke="#333" stroke-width="0.18">AsCas12a sgRNA</text>
<text x="8.50" y="401.80" font-size="11.2" fill="#111" font-weight="bold">G</text>
<text x="64.60" y="399.80" font-size="8.4" textLength="103.40" lengthAdjust="spacingAndGlyphs" fill="#2a2a2a" stroke="#2a2a2a" stroke-width="0.05">HUDEP2 cells immunoblot</text>
<line x1="64.60" y1="401.20" x2="168.00" y2="401.20" stroke="#2a2a2a" stroke-width="0.7"/>
<text x="86.50" y="410.60" font-size="8.0" textLength="59.50" lengthAdjust="spacingAndGlyphs" fill="#333" stroke="#333" stroke-width="0.18">AsCas12a sgRNA</text>
<line x1="54.60" y1="414.80" x2="178.30" y2="414.80" stroke="#333" stroke-width="0.8"/>
<line x1="54.60" y1="414.80" x2="54.60" y2="425.00" stroke="#333" stroke-width="0.8"/>
<line x1="178.30" y1="414.80" x2="178.30" y2="425.00" stroke="#333" stroke-width="0.8"/>
<text x="64.90" y="520.30" font-size="7.6" textLength="18.58" lengthAdjust="spacingAndGlyphs" fill="#333" stroke="#333" stroke-width="0.08" transform="rotate(-90 64.90 520.30)">sgNeg</text>
<text x="80.30" y="520.30" font-size="7.6" textLength="21.79" lengthAdjust="spacingAndGlyphs" fill="#333" stroke="#333" stroke-width="0.08" transform="rotate(-90 80.30 520.30)">sgBMI1</text>
<text x="95.60" y="520.30" font-size="7.6" textLength="33.23" lengthAdjust="spacingAndGlyphs" fill="#333" stroke="#333" stroke-width="0.08" transform="rotate(-90 95.60 520.30)">sgIGF2BP1</text>
<text x="111.10" y="520.30" font-size="7.6" textLength="28.23" lengthAdjust="spacingAndGlyphs" fill="#333" stroke="#333" stroke-width="0.08" transform="rotate(-90 111.10 520.30)">sgLIN28B</text>
<text x="126.40" y="520.30" font-size="7.6" textLength="59.83" lengthAdjust="spacingAndGlyphs" fill="#333" stroke="#333" stroke-width="0.08" transform="rotate(-90 126.40 520.30)">sg(IGF2BP1 + BMI1)</text>
<text x="141.80" y="520.30" font-size="7.6" textLength="54.84" lengthAdjust="spacingAndGlyphs" fill="#333" stroke="#333" stroke-width="0.08" transform="rotate(-90 141.80 520.30)">sg(LIN28B + BMI1)</text>
<text x="157.20" y="520.30" font-size="7.6" textLength="66.27" lengthAdjust="spacingAndGlyphs" fill="#333" stroke="#333" stroke-width="0.08" transform="rotate(-90 157.20 520.30)">sg(LIN28B + IGF2BP1)</text>
<text x="172.60" y="520.30" font-size="7.6" textLength="88.60" lengthAdjust="spacingAndGlyphs" fill="#333" stroke="#333" stroke-width="0.08" transform="rotate(-90 172.60 520.30)">sg(LIN28B + BMI1 + IGF2BP1)</text>
<text x="39.80" y="518.70" font-size="7.2" textLength="11.50" lengthAdjust="spacingAndGlyphs" fill="#333" stroke="#333" stroke-width="0.18">kDa</text>
<defs><filter id="bl" x="-50%" y="-100%" width="200%" height="300%"><feGaussianBlur stdDeviation="0.55"/></filter><filter id="bl2" x="-50%" y="-100%" width="200%" height="300%"><feGaussianBlur stdDeviation="0.9"/></filter></defs>
<rect x="55.0" y="523.2" width="122.40" height="19.60" fill="#c8c8c8"/>
<rect x="56.05" y="531.40" width="10.50" height="2.20" rx="1.10" fill="rgb(95,95,95)" opacity="1" filter="url(#bl)"/>
<rect x="70.95" y="531.40" width="10.50" height="2.20" rx="1.10" fill="rgb(115,115,115)" opacity="1" filter="url(#bl)"/>
<rect x="86.75" y="531.40" width="10.50" height="2.20" rx="1.10" fill="rgb(55,55,55)" opacity="1" filter="url(#bl)"/>
<rect x="102.15" y="531.40" width="10.50" height="2.20" rx="1.10" fill="rgb(85,85,85)" opacity="1" filter="url(#bl)"/>
<rect x="118.15" y="531.40" width="10.50" height="2.20" rx="1.10" fill="rgb(40,40,40)" opacity="1" filter="url(#bl)"/>
<rect x="133.95" y="531.40" width="10.50" height="2.20" rx="1.10" fill="rgb(45,45,45)" opacity="1" filter="url(#bl)"/>
<rect x="150.15" y="531.40" width="10.50" height="2.20" rx="1.10" fill="rgb(80,80,80)" opacity="1" filter="url(#bl)"/>
<rect x="165.55" y="531.40" width="10.50" height="2.20" rx="1.10" fill="rgb(45,45,45)" opacity="1" filter="url(#bl)"/>
<rect x="55.0" y="523.2" width="122.40" height="19.60" fill="none" stroke="#111" stroke-width="1.2"/>
<text x="45.50" y="535.10" font-size="7.4" text-anchor="middle" textLength="6.80" lengthAdjust="spacingAndGlyphs" fill="#333" stroke="#333" stroke-width="0.18">98</text>
<line x1="51.50" y1="532.50" x2="55.00" y2="532.50" stroke="#333" stroke-width="0.8"/>
<text x="181.20" y="535.90" font-size="7.6" textLength="23.30" lengthAdjust="spacingAndGlyphs" fill="#333" stroke="#333" stroke-width="0.18">BCL11A</text>
<rect x="55.0" y="545.6" width="122.40" height="18.90" fill="#e8e8e8"/>
<rect x="56.55" y="553.25" width="9.50" height="2.30" rx="1.15" fill="rgb(210,210,210)" opacity="1" filter="url(#bl)"/>
<rect x="71.40" y="553.25" width="12.00" height="2.30" rx="1.15" fill="rgb(40,40,40)" opacity="1" filter="url(#bl)"/>
<rect x="87.25" y="553.25" width="9.50" height="2.30" rx="1.15" fill="rgb(220,220,220)" opacity="1" filter="url(#bl)"/>
<rect x="102.65" y="553.25" width="9.50" height="2.30" rx="1.15" fill="rgb(205,205,205)" opacity="1" filter="url(#bl)"/>
<rect x="118.65" y="553.25" width="9.50" height="2.30" rx="1.15" fill="rgb(228,228,228)" opacity="1" filter="url(#bl)"/>
<rect x="134.40" y="553.25" width="12.00" height="2.30" rx="1.15" fill="rgb(25,25,25)" opacity="1" filter="url(#bl)"/>
<rect x="150.65" y="553.25" width="9.50" height="2.30" rx="1.15" fill="rgb(230,230,230)" opacity="1" filter="url(#bl)"/>
<rect x="166.05" y="553.25" width="9.50" height="2.30" rx="1.15" fill="rgb(230,230,230)" opacity="1" filter="url(#bl)"/>
<rect x="55.0" y="545.6" width="122.40" height="18.90" fill="none" stroke="#111" stroke-width="1.2"/>
<text x="45.50" y="558.60" font-size="7.4" text-anchor="middle" textLength="6.80" lengthAdjust="spacingAndGlyphs" fill="#333" stroke="#333" stroke-width="0.18">62</text>
<line x1="51.50" y1="556.00" x2="55.00" y2="556.00" stroke="#333" stroke-width="0.8"/>
<text x="181.20" y="557.60" font-size="7.6" textLength="25.30" lengthAdjust="spacingAndGlyphs" fill="#333" stroke="#333" stroke-width="0.18">IGF2BP1</text>
<rect x="55.0" y="567.5" width="122.40" height="20.30" fill="#c9c9c9"/>
<rect x="55.05" y="575.80" width="12.50" height="4.00" rx="1.20" fill="rgb(120,120,120)" opacity="1" filter="url(#bl2)"/>
<rect x="55.80" y="577.60" width="11.00" height="1.80" rx="0.90" fill="rgb(95,95,95)" opacity="1" filter="url(#bl)"/>
<rect x="69.95" y="575.80" width="12.50" height="4.00" rx="1.20" fill="rgb(200,200,200)" opacity="1" filter="url(#bl2)"/>
<rect x="85.75" y="575.80" width="12.50" height="4.00" rx="1.20" fill="rgb(130,130,130)" opacity="1" filter="url(#bl2)"/>
<rect x="86.50" y="577.60" width="11.00" height="1.80" rx="0.90" fill="rgb(105,105,105)" opacity="1" filter="url(#bl)"/>
<rect x="101.15" y="575.80" width="12.50" height="4.00" rx="1.20" fill="rgb(105,105,105)" opacity="1" filter="url(#bl2)"/>
<rect x="101.90" y="577.60" width="11.00" height="1.80" rx="0.90" fill="rgb(80,80,80)" opacity="1" filter="url(#bl)"/>
<rect x="117.15" y="575.80" width="12.50" height="4.00" rx="1.20" fill="rgb(203,203,203)" opacity="1" filter="url(#bl2)"/>
<rect x="132.95" y="575.80" width="12.50" height="4.00" rx="1.20" fill="rgb(203,203,203)" opacity="1" filter="url(#bl2)"/>
<rect x="149.15" y="575.80" width="12.50" height="4.00" rx="1.20" fill="rgb(128,128,128)" opacity="1" filter="url(#bl2)"/>
<rect x="149.90" y="577.60" width="11.00" height="1.80" rx="0.90" fill="rgb(103,103,103)" opacity="1" filter="url(#bl)"/>
<rect x="164.55" y="575.80" width="12.50" height="4.00" rx="1.20" fill="rgb(203,203,203)" opacity="1" filter="url(#bl2)"/>
<rect x="55.0" y="567.5" width="122.40" height="20.30" fill="none" stroke="#111" stroke-width="1.2"/>
<text x="45.50" y="580.10" font-size="7.4" text-anchor="middle" textLength="6.80" lengthAdjust="spacingAndGlyphs" fill="#333" stroke="#333" stroke-width="0.18">49</text>
<line x1="51.50" y1="577.50" x2="55.00" y2="577.50" stroke="#333" stroke-width="0.8"/>
<text x="181.20" y="579.90" font-size="7.6" textLength="14.80" lengthAdjust="spacingAndGlyphs" fill="#333" stroke="#333" stroke-width="0.18">BMI1</text>
<rect x="55.0" y="589.6" width="122.40" height="18.80" fill="#cbcbcb"/>
<rect x="56.05" y="598.00" width="10.50" height="2.20" rx="1.10" fill="rgb(110,110,110)" opacity="1" filter="url(#bl)"/>
<rect x="70.95" y="598.00" width="10.50" height="2.20" rx="1.10" fill="rgb(135,135,135)" opacity="1" filter="url(#bl)"/>
<rect x="86.75" y="598.00" width="10.50" height="2.20" rx="1.10" fill="rgb(128,128,128)" opacity="1" filter="url(#bl)"/>
<rect x="102.15" y="598.00" width="10.50" height="2.20" rx="1.10" fill="rgb(140,140,140)" opacity="1" filter="url(#bl)"/>
<rect x="118.15" y="598.00" width="10.50" height="2.20" rx="1.10" fill="rgb(140,140,140)" opacity="1" filter="url(#bl)"/>
<rect x="133.95" y="598.00" width="10.50" height="2.20" rx="1.10" fill="rgb(110,110,110)" opacity="1" filter="url(#bl)"/>
<rect x="150.15" y="598.00" width="10.50" height="2.20" rx="1.10" fill="rgb(140,140,140)" opacity="1" filter="url(#bl)"/>
<rect x="165.55" y="598.00" width="10.50" height="2.20" rx="1.10" fill="rgb(150,150,150)" opacity="1" filter="url(#bl)"/>
<rect x="55.0" y="589.6" width="122.40" height="18.80" fill="none" stroke="#111" stroke-width="1.2"/>
<text x="45.50" y="601.70" font-size="7.4" text-anchor="middle" textLength="6.80" lengthAdjust="spacingAndGlyphs" fill="#333" stroke="#333" stroke-width="0.18">38</text>
<line x1="51.50" y1="599.10" x2="55.00" y2="599.10" stroke="#333" stroke-width="0.8"/>
<text x="181.20" y="601.40" font-size="7.6" textLength="22.30" lengthAdjust="spacingAndGlyphs" fill="#333" stroke="#333" stroke-width="0.18">GAPDH</text>
<rect x="55.0" y="611.4" width="122.40" height="24.00" fill="#bcbcbc"/>
<rect x="56.30" y="625.10" width="10.00" height="1.80" rx="0.90" fill="rgb(145,145,145)" opacity="1" filter="url(#bl2)"/>
<rect x="71.20" y="625.10" width="10.00" height="1.80" rx="0.90" fill="rgb(145,145,145)" opacity="1" filter="url(#bl2)"/>
<rect x="87.00" y="625.10" width="10.00" height="1.80" rx="0.90" fill="rgb(145,145,145)" opacity="1" filter="url(#bl2)"/>
<rect x="102.40" y="625.10" width="10.00" height="1.80" rx="0.90" fill="rgb(145,145,145)" opacity="1" filter="url(#bl2)"/>
<rect x="118.40" y="625.10" width="10.00" height="1.80" rx="0.90" fill="rgb(145,145,145)" opacity="1" filter="url(#bl2)"/>
<rect x="134.20" y="625.10" width="10.00" height="1.80" rx="0.90" fill="rgb(145,145,145)" opacity="1" filter="url(#bl2)"/>
<rect x="150.40" y="625.10" width="10.00" height="1.80" rx="0.90" fill="rgb(145,145,145)" opacity="1" filter="url(#bl2)"/>
<rect x="165.80" y="625.10" width="10.00" height="1.80" rx="0.90" fill="rgb(145,145,145)" opacity="1" filter="url(#bl2)"/>
<rect x="70.70" y="617.10" width="11.00" height="2.80" rx="1.20" fill="rgb(140,140,140)" opacity="1" filter="url(#bl2)"/>
<rect x="117.90" y="617.10" width="11.00" height="2.80" rx="1.20" fill="rgb(140,140,140)" opacity="1" filter="url(#bl2)"/>
<rect x="55.0" y="611.4" width="122.40" height="24.00" fill="none" stroke="#111" stroke-width="1.2"/>
<text x="45.50" y="626.10" font-size="7.4" text-anchor="middle" textLength="6.80" lengthAdjust="spacingAndGlyphs" fill="#333" stroke="#333" stroke-width="0.18">28</text>
<line x1="51.50" y1="623.50" x2="55.00" y2="623.50" stroke="#333" stroke-width="0.8"/>
<text x="181.20" y="627.20" font-size="7.6" textLength="20.80" lengthAdjust="spacingAndGlyphs" fill="#333" stroke="#333" stroke-width="0.18">LIN28B</text>
<rect x="55.0" y="638.5" width="122.40" height="18.80" fill="#ebebeb"/>
<rect x="56.25" y="646.60" width="10.50" height="2.00" rx="1.00" fill="rgb(175,175,175)" opacity="1" filter="url(#bl)"/>
<rect x="71.3" y="645.00" width="15" height="5.2" rx="2.6" fill="#070707" filter="url(#bl)"/>
<rect x="88.75" y="646.60" width="10.50" height="2.00" rx="1.00" fill="rgb(178,178,178)" opacity="1" filter="url(#bl)"/>
<rect x="103.55" y="646.60" width="10.50" height="2.00" rx="1.00" fill="rgb(165,165,165)" opacity="1" filter="url(#bl)"/>
<rect x="118.5" y="645.90" width="13.4" height="3.4" rx="1.7" fill="#474747" filter="url(#bl)"/>
<rect x="133.8" y="645.80" width="13.1" height="3.6" rx="1.8" fill="#111" filter="url(#bl)"/>
<rect x="150.95" y="646.60" width="10.50" height="2.00" rx="1.00" fill="rgb(178,178,178)" opacity="1" filter="url(#bl)"/>
<rect x="166.25" y="646.60" width="10.50" height="2.00" rx="1.00" fill="rgb(172,172,172)" opacity="1" filter="url(#bl)"/>
<rect x="55.0" y="638.5" width="122.40" height="18.80" fill="none" stroke="#111" stroke-width="1.2"/>
<text x="45.50" y="650.20" font-size="7.4" text-anchor="middle" textLength="6.80" lengthAdjust="spacingAndGlyphs" fill="#333" stroke="#333" stroke-width="0.18">14</text>
<line x1="51.50" y1="647.60" x2="55.00" y2="647.60" stroke="#333" stroke-width="0.8"/>
<text x="181.20" y="650.30" font-size="7.6" textLength="22.80" lengthAdjust="spacingAndGlyphs" fill="#333" stroke="#333" stroke-width="0.18">γ-globin</text>
<path d="M110.3 536.6 L112.2 536.6 L112.8 538.4" stroke="#111" stroke-width="1.2" fill="none"/>
<circle cx="57.7" cy="559.7" r="0.8" fill="#333"/><circle cx="57.7" cy="630.7" r="0.8" fill="#333"/>
<text x="152.40" y="664.60" font-size="4.6" textLength="27.40" lengthAdjust="spacingAndGlyphs" fill="#333" stroke="#333" stroke-width="0.18">* non-specific</text>
<text x="233.00" y="401.30" font-size="11.2" fill="#111" font-weight="bold">H</text>
<text x="308.50" y="399.20" font-size="8.4" textLength="141.80" lengthAdjust="spacingAndGlyphs" fill="#2a2a2a" stroke="#2a2a2a" stroke-width="0.05">HUDEP2 cells HbF+ fraction staining</text>
<line x1="308.50" y1="400.60" x2="450.30" y2="400.60" stroke="#2a2a2a" stroke-width="0.7"/>
<path d="M289.2 514.0 L290.8 506.9 L292.3 488.7 L293.7 452.4 L294.9 430.2 L295.7 428.2 L296.9 434.2 L298.3 462.5 L299.7 488.7 L301.3 501.9 L303.4 507.9 L306.4 511.0 L311.4 512.0 L315.5 512.6 L329.6 513.4 L333.7 514.0 Z" fill="#9a9cab" stroke="#3f4150" stroke-width="0.7" stroke-linejoin="round"/>
<rect x="269.4" y="416.7" width="96.40" height="97.50" fill="none" stroke="#111" stroke-width="1.3"/>
<line x1="266.40" y1="514.10" x2="269.40" y2="514.10" stroke="#111" stroke-width="0.9"/>
<text x="264.40" y="516.40" font-size="6.4" text-anchor="end" fill="#333" stroke="#333" stroke-width="0.18">0</text>
<line x1="266.40" y1="495.80" x2="269.40" y2="495.80" stroke="#111" stroke-width="0.9"/>
<text x="264.40" y="498.10" font-size="6.4" text-anchor="end" fill="#333" stroke="#333" stroke-width="0.18">50</text>
<line x1="266.40" y1="477.50" x2="269.40" y2="477.50" stroke="#111" stroke-width="0.9"/>
<text x="264.40" y="479.80" font-size="6.4" text-anchor="end" fill="#333" stroke="#333" stroke-width="0.18">100</text>
<line x1="266.40" y1="459.20" x2="269.40" y2="459.20" stroke="#111" stroke-width="0.9"/>
<text x="264.40" y="461.50" font-size="6.4" text-anchor="end" fill="#333" stroke="#333" stroke-width="0.18">150</text>
<line x1="266.40" y1="440.90" x2="269.40" y2="440.90" stroke="#111" stroke-width="0.9"/>
<text x="264.40" y="443.20" font-size="6.4" text-anchor="end" fill="#333" stroke="#333" stroke-width="0.18">200</text>
<line x1="266.40" y1="422.60" x2="269.40" y2="422.60" stroke="#111" stroke-width="0.9"/>
<text x="264.40" y="424.90" font-size="6.4" text-anchor="end" fill="#333" stroke="#333" stroke-width="0.18">250</text>
<line x1="267.60" y1="514.10" x2="269.40" y2="514.10" stroke="#111" stroke-width="0.6"/>
<line x1="267.60" y1="510.44" x2="269.40" y2="510.44" stroke="#111" stroke-width="0.6"/>
<line x1="267.60" y1="506.78" x2="269.40" y2="506.78" stroke="#111" stroke-width="0.6"/>
<line x1="267.60" y1="503.12" x2="269.40" y2="503.12" stroke="#111" stroke-width="0.6"/>
<line x1="267.60" y1="499.46" x2="269.40" y2="499.46" stroke="#111" stroke-width="0.6"/>
<line x1="267.60" y1="495.80" x2="269.40" y2="495.80" stroke="#111" stroke-width="0.6"/>
<line x1="267.60" y1="492.14" x2="269.40" y2="492.14" stroke="#111" stroke-width="0.6"/>
<line x1="267.60" y1="488.48" x2="269.40" y2="488.48" stroke="#111" stroke-width="0.6"/>
<line x1="267.60" y1="484.82" x2="269.40" y2="484.82" stroke="#111" stroke-width="0.6"/>
<line x1="267.60" y1="481.16" x2="269.40" y2="481.16" stroke="#111" stroke-width="0.6"/>
<line x1="267.60" y1="477.50" x2="269.40" y2="477.50" stroke="#111" stroke-width="0.6"/>
<line x1="267.60" y1="473.84" x2="269.40" y2="473.84" stroke="#111" stroke-width="0.6"/>
<line x1="267.60" y1="470.18" x2="269.40" y2="470.18" stroke="#111" stroke-width="0.6"/>
<line x1="267.60" y1="466.52" x2="269.40" y2="466.52" stroke="#111" stroke-width="0.6"/>
<line x1="267.60" y1="462.86" x2="269.40" y2="462.86" stroke="#111" stroke-width="0.6"/>
<line x1="267.60" y1="459.20" x2="269.40" y2="459.20" stroke="#111" stroke-width="0.6"/>
<line x1="267.60" y1="455.54" x2="269.40" y2="455.54" stroke="#111" stroke-width="0.6"/>
<line x1="267.60" y1="451.88" x2="269.40" y2="451.88" stroke="#111" stroke-width="0.6"/>
<line x1="267.60" y1="448.22" x2="269.40" y2="448.22" stroke="#111" stroke-width="0.6"/>
<line x1="267.60" y1="444.56" x2="269.40" y2="444.56" stroke="#111" stroke-width="0.6"/>
<line x1="267.60" y1="440.90" x2="269.40" y2="440.90" stroke="#111" stroke-width="0.6"/>
<line x1="267.60" y1="437.24" x2="269.40" y2="437.24" stroke="#111" stroke-width="0.6"/>
<line x1="267.60" y1="433.58" x2="269.40" y2="433.58" stroke="#111" stroke-width="0.6"/>
<line x1="267.60" y1="429.92" x2="269.40" y2="429.92" stroke="#111" stroke-width="0.6"/>
<line x1="267.60" y1="426.26" x2="269.40" y2="426.26" stroke="#111" stroke-width="0.6"/>
<line x1="267.60" y1="422.60" x2="269.40" y2="422.60" stroke="#111" stroke-width="0.6"/>
<line x1="267.60" y1="418.94" x2="269.40" y2="418.94" stroke="#111" stroke-width="0.6"/>
<line x1="275.90" y1="514.20" x2="275.90" y2="517.20" stroke="#111" stroke-width="0.9"/>
<line x1="291.20" y1="514.20" x2="291.20" y2="517.20" stroke="#111" stroke-width="0.9"/>
<line x1="306.00" y1="514.20" x2="306.00" y2="517.20" stroke="#111" stroke-width="0.9"/>
<line x1="332.80" y1="514.20" x2="332.80" y2="517.20" stroke="#111" stroke-width="0.9"/>
<line x1="356.00" y1="514.20" x2="356.00" y2="517.20" stroke="#111" stroke-width="0.9"/>
<line x1="339.78" y1="514.20" x2="339.78" y2="516.00" stroke="#111" stroke-width="0.5"/>
<line x1="314.07" y1="514.20" x2="314.07" y2="516.00" stroke="#111" stroke-width="0.5"/>
<line x1="343.87" y1="514.20" x2="343.87" y2="516.00" stroke="#111" stroke-width="0.5"/>
<line x1="318.79" y1="514.20" x2="318.79" y2="516.00" stroke="#111" stroke-width="0.5"/>
<line x1="346.77" y1="514.20" x2="346.77" y2="516.00" stroke="#111" stroke-width="0.5"/>
<line x1="322.14" y1="514.20" x2="322.14" y2="516.00" stroke="#111" stroke-width="0.5"/>
<line x1="349.02" y1="514.20" x2="349.02" y2="516.00" stroke="#111" stroke-width="0.5"/>
<line x1="324.73" y1="514.20" x2="324.73" y2="516.00" stroke="#111" stroke-width="0.5"/>
<line x1="350.85" y1="514.20" x2="350.85" y2="516.00" stroke="#111" stroke-width="0.5"/>
<line x1="326.85" y1="514.20" x2="326.85" y2="516.00" stroke="#111" stroke-width="0.5"/>
<line x1="352.41" y1="514.20" x2="352.41" y2="516.00" stroke="#111" stroke-width="0.5"/>
<line x1="328.65" y1="514.20" x2="328.65" y2="516.00" stroke="#111" stroke-width="0.5"/>
<line x1="353.75" y1="514.20" x2="353.75" y2="516.00" stroke="#111" stroke-width="0.5"/>
<line x1="330.20" y1="514.20" x2="330.20" y2="516.00" stroke="#111" stroke-width="0.5"/>
<line x1="354.94" y1="514.20" x2="354.94" y2="516.00" stroke="#111" stroke-width="0.5"/>
<line x1="331.57" y1="514.20" x2="331.57" y2="516.00" stroke="#111" stroke-width="0.5"/>
<line x1="277.43" y1="514.20" x2="277.43" y2="516.00" stroke="#111" stroke-width="0.5"/>
<line x1="292.68" y1="514.20" x2="292.68" y2="516.00" stroke="#111" stroke-width="0.5"/>
<line x1="278.96" y1="514.20" x2="278.96" y2="516.00" stroke="#111" stroke-width="0.5"/>
<line x1="294.16" y1="514.20" x2="294.16" y2="516.00" stroke="#111" stroke-width="0.5"/>
<line x1="280.49" y1="514.20" x2="280.49" y2="516.00" stroke="#111" stroke-width="0.5"/>
<line x1="295.64" y1="514.20" x2="295.64" y2="516.00" stroke="#111" stroke-width="0.5"/>
<line x1="282.02" y1="514.20" x2="282.02" y2="516.00" stroke="#111" stroke-width="0.5"/>
<line x1="297.12" y1="514.20" x2="297.12" y2="516.00" stroke="#111" stroke-width="0.5"/>
<line x1="283.55" y1="514.20" x2="283.55" y2="516.00" stroke="#111" stroke-width="0.5"/>
<line x1="298.60" y1="514.20" x2="298.60" y2="516.00" stroke="#111" stroke-width="0.5"/>
<line x1="285.08" y1="514.20" x2="285.08" y2="516.00" stroke="#111" stroke-width="0.5"/>
<line x1="300.08" y1="514.20" x2="300.08" y2="516.00" stroke="#111" stroke-width="0.5"/>
<line x1="286.61" y1="514.20" x2="286.61" y2="516.00" stroke="#111" stroke-width="0.5"/>
<line x1="301.56" y1="514.20" x2="301.56" y2="516.00" stroke="#111" stroke-width="0.5"/>
<line x1="288.14" y1="514.20" x2="288.14" y2="516.00" stroke="#111" stroke-width="0.5"/>
<line x1="303.04" y1="514.20" x2="303.04" y2="516.00" stroke="#111" stroke-width="0.5"/>
<line x1="289.67" y1="514.20" x2="289.67" y2="516.00" stroke="#111" stroke-width="0.5"/>
<line x1="304.52" y1="514.20" x2="304.52" y2="516.00" stroke="#111" stroke-width="0.5"/>
<line x1="362.98" y1="514.20" x2="362.98" y2="516.00" stroke="#111" stroke-width="0.5"/>
<text x="275.90" y="525.40" font-size="6.6" text-anchor="middle" fill="#333" stroke="#333" stroke-width="0.18">−10<tspan font-size="3.8" dy="-2.6">3</tspan></text>
<text x="291.20" y="525.40" font-size="6.6" text-anchor="middle" fill="#333" stroke="#333" stroke-width="0.18">0</text>
<text x="306.80" y="525.40" font-size="6.6" text-anchor="middle" fill="#333" stroke="#333" stroke-width="0.18">10<tspan font-size="3.8" dy="-2.6">3</tspan></text>
<text x="333.60" y="525.40" font-size="6.6" text-anchor="middle" fill="#333" stroke="#333" stroke-width="0.18">10<tspan font-size="3.8" dy="-2.6">4</tspan></text>
<text x="356.80" y="525.40" font-size="6.6" text-anchor="middle" fill="#333" stroke="#333" stroke-width="0.18">10<tspan font-size="3.8" dy="-2.6">5</tspan></text>
<line x1="313.50" y1="450.60" x2="364.00" y2="450.60" stroke="#555" stroke-width="0.9"/>
<line x1="313.50" y1="448.80" x2="313.50" y2="452.40" stroke="#555" stroke-width="0.9"/>
<line x1="364.00" y1="448.80" x2="364.00" y2="452.40" stroke="#555" stroke-width="0.9"/>
<text x="320.50" y="444.50" font-size="6.4" textLength="36.40" lengthAdjust="spacingAndGlyphs" fill="#333" stroke="#333" stroke-width="0.18">HbF+ 3.42%</text>
<text x="317.60" y="412.30" font-size="8.4" text-anchor="middle" textLength="25.50" lengthAdjust="spacingAndGlyphs" stroke="#222" stroke-width="0.08">sgNeg</text>
<path d="M412.1 514.0 L413.1 507.2 L414.6 481.8 L416.1 443.7 L417.2 431.0 L418.2 437.4 L419.3 471.2 L420.5 494.5 L422.0 506.1 L424.1 510.4 L427.3 511.9 L431.5 513.1 L440.0 513.8 L445.0 514.0 Z" fill="#9a9cab" stroke="#3f4150" stroke-width="0.7" stroke-linejoin="round"/>
<rect x="392.4" y="417.3" width="97.30" height="96.90" fill="none" stroke="#111" stroke-width="1.3"/>
<line x1="389.40" y1="514.10" x2="392.40" y2="514.10" stroke="#111" stroke-width="0.9"/>
<text x="387.40" y="516.40" font-size="6.4" text-anchor="end" fill="#333" stroke="#333" stroke-width="0.18">0</text>
<line x1="389.40" y1="487.10" x2="392.40" y2="487.10" stroke="#111" stroke-width="0.9"/>
<text x="387.40" y="489.40" font-size="6.4" text-anchor="end" fill="#333" stroke="#333" stroke-width="0.18">100</text>
<line x1="389.40" y1="460.10" x2="392.40" y2="460.10" stroke="#111" stroke-width="0.9"/>
<text x="387.40" y="462.40" font-size="6.4" text-anchor="end" fill="#333" stroke="#333" stroke-width="0.18">200</text>
<line x1="389.40" y1="433.10" x2="392.40" y2="433.10" stroke="#111" stroke-width="0.9"/>
<text x="387.40" y="435.40" font-size="6.4" text-anchor="end" fill="#333" stroke="#333" stroke-width="0.18">300</text>
<line x1="390.60" y1="514.10" x2="392.40" y2="514.10" stroke="#111" stroke-width="0.6"/>
<line x1="390.60" y1="508.70" x2="392.40" y2="508.70" stroke="#111" stroke-width="0.6"/>
<line x1="390.60" y1="503.30" x2="392.40" y2="503.30" stroke="#111" stroke-width="0.6"/>
<line x1="390.60" y1="497.90" x2="392.40" y2="497.90" stroke="#111" stroke-width="0.6"/>
<line x1="390.60" y1="492.50" x2="392.40" y2="492.50" stroke="#111" stroke-width="0.6"/>
<line x1="390.60" y1="487.10" x2="392.40" y2="487.10" stroke="#111" stroke-width="0.6"/>
<line x1="390.60" y1="481.70" x2="392.40" y2="481.70" stroke="#111" stroke-width="0.6"/>
<line x1="390.60" y1="476.30" x2="392.40" y2="476.30" stroke="#111" stroke-width="0.6"/>
<line x1="390.60" y1="470.90" x2="392.40" y2="470.90" stroke="#111" stroke-width="0.6"/>
<line x1="390.60" y1="465.50" x2="392.40" y2="465.50" stroke="#111" stroke-width="0.6"/>
<line x1="390.60" y1="460.10" x2="392.40" y2="460.10" stroke="#111" stroke-width="0.6"/>
<line x1="390.60" y1="454.70" x2="392.40" y2="454.70" stroke="#111" stroke-width="0.6"/>
<line x1="390.60" y1="449.30" x2="392.40" y2="449.30" stroke="#111" stroke-width="0.6"/>
<line x1="390.60" y1="443.90" x2="392.40" y2="443.90" stroke="#111" stroke-width="0.6"/>
<line x1="390.60" y1="438.50" x2="392.40" y2="438.50" stroke="#111" stroke-width="0.6"/>
<line x1="390.60" y1="433.10" x2="392.40" y2="433.10" stroke="#111" stroke-width="0.6"/>
<line x1="390.60" y1="427.70" x2="392.40" y2="427.70" stroke="#111" stroke-width="0.6"/>
<line x1="390.60" y1="422.30" x2="392.40" y2="422.30" stroke="#111" stroke-width="0.6"/>
<line x1="398.90" y1="514.20" x2="398.90" y2="517.20" stroke="#111" stroke-width="0.9"/>
<line x1="414.60" y1="514.20" x2="414.60" y2="517.20" stroke="#111" stroke-width="0.9"/>
<line x1="429.20" y1="514.20" x2="429.20" y2="517.20" stroke="#111" stroke-width="0.9"/>
<line x1="456.00" y1="514.20" x2="456.00" y2="517.20" stroke="#111" stroke-width="0.9"/>
<line x1="479.30" y1="514.20" x2="479.30" y2="517.20" stroke="#111" stroke-width="0.9"/>
<line x1="463.01" y1="514.20" x2="463.01" y2="516.00" stroke="#111" stroke-width="0.5"/>
<line x1="437.27" y1="514.20" x2="437.27" y2="516.00" stroke="#111" stroke-width="0.5"/>
<line x1="467.12" y1="514.20" x2="467.12" y2="516.00" stroke="#111" stroke-width="0.5"/>
<line x1="441.99" y1="514.20" x2="441.99" y2="516.00" stroke="#111" stroke-width="0.5"/>
<line x1="470.03" y1="514.20" x2="470.03" y2="516.00" stroke="#111" stroke-width="0.5"/>
<line x1="445.34" y1="514.20" x2="445.34" y2="516.00" stroke="#111" stroke-width="0.5"/>
<line x1="472.29" y1="514.20" x2="472.29" y2="516.00" stroke="#111" stroke-width="0.5"/>
<line x1="447.93" y1="514.20" x2="447.93" y2="516.00" stroke="#111" stroke-width="0.5"/>
<line x1="474.13" y1="514.20" x2="474.13" y2="516.00" stroke="#111" stroke-width="0.5"/>
<line x1="450.05" y1="514.20" x2="450.05" y2="516.00" stroke="#111" stroke-width="0.5"/>
<line x1="475.69" y1="514.20" x2="475.69" y2="516.00" stroke="#111" stroke-width="0.5"/>
<line x1="451.85" y1="514.20" x2="451.85" y2="516.00" stroke="#111" stroke-width="0.5"/>
<line x1="477.04" y1="514.20" x2="477.04" y2="516.00" stroke="#111" stroke-width="0.5"/>
<line x1="453.40" y1="514.20" x2="453.40" y2="516.00" stroke="#111" stroke-width="0.5"/>
<line x1="478.23" y1="514.20" x2="478.23" y2="516.00" stroke="#111" stroke-width="0.5"/>
<line x1="454.77" y1="514.20" x2="454.77" y2="516.00" stroke="#111" stroke-width="0.5"/>
<line x1="400.47" y1="514.20" x2="400.47" y2="516.00" stroke="#111" stroke-width="0.5"/>
<line x1="416.06" y1="514.20" x2="416.06" y2="516.00" stroke="#111" stroke-width="0.5"/>
<line x1="402.04" y1="514.20" x2="402.04" y2="516.00" stroke="#111" stroke-width="0.5"/>
<line x1="417.52" y1="514.20" x2="417.52" y2="516.00" stroke="#111" stroke-width="0.5"/>
<line x1="403.61" y1="514.20" x2="403.61" y2="516.00" stroke="#111" stroke-width="0.5"/>
<line x1="418.98" y1="514.20" x2="418.98" y2="516.00" stroke="#111" stroke-width="0.5"/>
<line x1="405.18" y1="514.20" x2="405.18" y2="516.00" stroke="#111" stroke-width="0.5"/>
<line x1="420.44" y1="514.20" x2="420.44" y2="516.00" stroke="#111" stroke-width="0.5"/>
<line x1="406.75" y1="514.20" x2="406.75" y2="516.00" stroke="#111" stroke-width="0.5"/>
<line x1="421.90" y1="514.20" x2="421.90" y2="516.00" stroke="#111" stroke-width="0.5"/>
<line x1="408.32" y1="514.20" x2="408.32" y2="516.00" stroke="#111" stroke-width="0.5"/>
<line x1="423.36" y1="514.20" x2="423.36" y2="516.00" stroke="#111" stroke-width="0.5"/>
<line x1="409.89" y1="514.20" x2="409.89" y2="516.00" stroke="#111" stroke-width="0.5"/>
<line x1="424.82" y1="514.20" x2="424.82" y2="516.00" stroke="#111" stroke-width="0.5"/>
<line x1="411.46" y1="514.20" x2="411.46" y2="516.00" stroke="#111" stroke-width="0.5"/>
<line x1="426.28" y1="514.20" x2="426.28" y2="516.00" stroke="#111" stroke-width="0.5"/>
<line x1="413.03" y1="514.20" x2="413.03" y2="516.00" stroke="#111" stroke-width="0.5"/>
<line x1="427.74" y1="514.20" x2="427.74" y2="516.00" stroke="#111" stroke-width="0.5"/>
<line x1="486.31" y1="514.20" x2="486.31" y2="516.00" stroke="#111" stroke-width="0.5"/>
<text x="398.90" y="525.60" font-size="6.6" text-anchor="middle" fill="#333" stroke="#333" stroke-width="0.18">−10<tspan font-size="3.8" dy="-2.6">3</tspan></text>
<text x="414.60" y="525.60" font-size="6.6" text-anchor="middle" fill="#333" stroke="#333" stroke-width="0.18">0</text>
<text x="430.00" y="525.60" font-size="6.6" text-anchor="middle" fill="#333" stroke="#333" stroke-width="0.18">10<tspan font-size="3.8" dy="-2.6">3</tspan></text>
<text x="456.80" y="525.60" font-size="6.6" text-anchor="middle" fill="#333" stroke="#333" stroke-width="0.18">10<tspan font-size="3.8" dy="-2.6">4</tspan></text>
<text x="480.10" y="525.60" font-size="6.6" text-anchor="middle" fill="#333" stroke="#333" stroke-width="0.18">10<tspan font-size="3.8" dy="-2.6">5</tspan></text>
<line x1="436.80" y1="450.60" x2="487.00" y2="450.60" stroke="#555" stroke-width="0.9"/>
<line x1="436.80" y1="448.80" x2="436.80" y2="452.40" stroke="#555" stroke-width="0.9"/>
<line x1="487.00" y1="448.80" x2="487.00" y2="452.40" stroke="#555" stroke-width="0.9"/>
<text x="444.20" y="445.00" font-size="6.4" textLength="35.60" lengthAdjust="spacingAndGlyphs" fill="#333" stroke="#333" stroke-width="0.18">HbF+ 1.59%</text>
<text x="439.90" y="412.30" font-size="8.4" text-anchor="middle" textLength="88.00" lengthAdjust="spacingAndGlyphs" stroke="#222" stroke-width="0.08">sg(LIN28B + IGF2BP1)</text>
<path d="M289.2 657.9 L290.8 644.8 L293.3 615.5 L294.9 614.1 L296.3 614.5 L297.9 600.4 L299.3 584.2 L300.3 575.1 L302.0 577.2 L303.4 573.1 L304.8 578.2 L306.4 590.3 L307.4 599.4 L309.0 602.4 L310.4 609.5 L312.5 613.5 L314.5 620.6 L315.5 617.6 L317.1 626.6 L318.5 615.5 L319.9 621.6 L321.5 616.5 L323.6 618.6 L325.6 611.5 L327.6 608.5 L329.6 602.4 L332.2 594.3 L333.7 599.4 L335.3 608.5 L336.7 622.6 L338.7 632.7 L340.7 644.8 L342.7 654.9 L344.8 657.5 Z" fill="#9a9cab" stroke="#3f4150" stroke-width="0.7" stroke-linejoin="round"/>
<rect x="269.4" y="562.4" width="96.60" height="95.10" fill="none" stroke="#111" stroke-width="1.3"/>
<line x1="266.40" y1="657.30" x2="269.40" y2="657.30" stroke="#111" stroke-width="0.9"/>
<text x="264.40" y="659.60" font-size="6.4" text-anchor="end" fill="#333" stroke="#333" stroke-width="0.18">0</text>
<line x1="266.40" y1="632.80" x2="269.40" y2="632.80" stroke="#111" stroke-width="0.9"/>
<text x="264.40" y="635.10" font-size="6.4" text-anchor="end" fill="#333" stroke="#333" stroke-width="0.18">20</text>
<line x1="266.40" y1="608.30" x2="269.40" y2="608.30" stroke="#111" stroke-width="0.9"/>
<text x="264.40" y="610.60" font-size="6.4" text-anchor="end" fill="#333" stroke="#333" stroke-width="0.18">40</text>
<line x1="266.40" y1="583.80" x2="269.40" y2="583.80" stroke="#111" stroke-width="0.9"/>
<text x="264.40" y="586.10" font-size="6.4" text-anchor="end" fill="#333" stroke="#333" stroke-width="0.18">60</text>
<line x1="267.60" y1="657.30" x2="269.40" y2="657.30" stroke="#111" stroke-width="0.6"/>
<line x1="267.60" y1="652.40" x2="269.40" y2="652.40" stroke="#111" stroke-width="0.6"/>
<line x1="267.60" y1="647.50" x2="269.40" y2="647.50" stroke="#111" stroke-width="0.6"/>
<line x1="267.60" y1="642.60" x2="269.40" y2="642.60" stroke="#111" stroke-width="0.6"/>
<line x1="267.60" y1="637.70" x2="269.40" y2="637.70" stroke="#111" stroke-width="0.6"/>
<line x1="267.60" y1="632.80" x2="269.40" y2="632.80" stroke="#111" stroke-width="0.6"/>
<line x1="267.60" y1="627.90" x2="269.40" y2="627.90" stroke="#111" stroke-width="0.6"/>
<line x1="267.60" y1="623.00" x2="269.40" y2="623.00" stroke="#111" stroke-width="0.6"/>
<line x1="267.60" y1="618.10" x2="269.40" y2="618.10" stroke="#111" stroke-width="0.6"/>
<line x1="267.60" y1="613.20" x2="269.40" y2="613.20" stroke="#111" stroke-width="0.6"/>
<line x1="267.60" y1="608.30" x2="269.40" y2="608.30" stroke="#111" stroke-width="0.6"/>
<line x1="267.60" y1="603.40" x2="269.40" y2="603.40" stroke="#111" stroke-width="0.6"/>
<line x1="267.60" y1="598.50" x2="269.40" y2="598.50" stroke="#111" stroke-width="0.6"/>
<line x1="267.60" y1="593.60" x2="269.40" y2="593.60" stroke="#111" stroke-width="0.6"/>
<line x1="267.60" y1="588.70" x2="269.40" y2="588.70" stroke="#111" stroke-width="0.6"/>
<line x1="267.60" y1="583.80" x2="269.40" y2="583.80" stroke="#111" stroke-width="0.6"/>
<line x1="267.60" y1="578.90" x2="269.40" y2="578.90" stroke="#111" stroke-width="0.6"/>
<line x1="267.60" y1="574.00" x2="269.40" y2="574.00" stroke="#111" stroke-width="0.6"/>
<line x1="267.60" y1="569.10" x2="269.40" y2="569.10" stroke="#111" stroke-width="0.6"/>
<line x1="267.60" y1="564.20" x2="269.40" y2="564.20" stroke="#111" stroke-width="0.6"/>
<line x1="275.90" y1="657.50" x2="275.90" y2="660.50" stroke="#111" stroke-width="0.9"/>
<line x1="291.20" y1="657.50" x2="291.20" y2="660.50" stroke="#111" stroke-width="0.9"/>
<line x1="306.00" y1="657.50" x2="306.00" y2="660.50" stroke="#111" stroke-width="0.9"/>
<line x1="332.80" y1="657.50" x2="332.80" y2="660.50" stroke="#111" stroke-width="0.9"/>
<line x1="356.00" y1="657.50" x2="356.00" y2="660.50" stroke="#111" stroke-width="0.9"/>
<line x1="339.78" y1="657.50" x2="339.78" y2="659.30" stroke="#111" stroke-width="0.5"/>
<line x1="314.07" y1="657.50" x2="314.07" y2="659.30" stroke="#111" stroke-width="0.5"/>
<line x1="343.87" y1="657.50" x2="343.87" y2="659.30" stroke="#111" stroke-width="0.5"/>
<line x1="318.79" y1="657.50" x2="318.79" y2="659.30" stroke="#111" stroke-width="0.5"/>
<line x1="346.77" y1="657.50" x2="346.77" y2="659.30" stroke="#111" stroke-width="0.5"/>
<line x1="322.14" y1="657.50" x2="322.14" y2="659.30" stroke="#111" stroke-width="0.5"/>
<line x1="349.02" y1="657.50" x2="349.02" y2="659.30" stroke="#111" stroke-width="0.5"/>
<line x1="324.73" y1="657.50" x2="324.73" y2="659.30" stroke="#111" stroke-width="0.5"/>
<line x1="350.85" y1="657.50" x2="350.85" y2="659.30" stroke="#111" stroke-width="0.5"/>
<line x1="326.85" y1="657.50" x2="326.85" y2="659.30" stroke="#111" stroke-width="0.5"/>
<line x1="352.41" y1="657.50" x2="352.41" y2="659.30" stroke="#111" stroke-width="0.5"/>
<line x1="328.65" y1="657.50" x2="328.65" y2="659.30" stroke="#111" stroke-width="0.5"/>
<line x1="353.75" y1="657.50" x2="353.75" y2="659.30" stroke="#111" stroke-width="0.5"/>
<line x1="330.20" y1="657.50" x2="330.20" y2="659.30" stroke="#111" stroke-width="0.5"/>
<line x1="354.94" y1="657.50" x2="354.94" y2="659.30" stroke="#111" stroke-width="0.5"/>
<line x1="331.57" y1="657.50" x2="331.57" y2="659.30" stroke="#111" stroke-width="0.5"/>
<line x1="277.43" y1="657.50" x2="277.43" y2="659.30" stroke="#111" stroke-width="0.5"/>
<line x1="292.68" y1="657.50" x2="292.68" y2="659.30" stroke="#111" stroke-width="0.5"/>
<line x1="278.96" y1="657.50" x2="278.96" y2="659.30" stroke="#111" stroke-width="0.5"/>
<line x1="294.16" y1="657.50" x2="294.16" y2="659.30" stroke="#111" stroke-width="0.5"/>
<line x1="280.49" y1="657.50" x2="280.49" y2="659.30" stroke="#111" stroke-width="0.5"/>
<line x1="295.64" y1="657.50" x2="295.64" y2="659.30" stroke="#111" stroke-width="0.5"/>
<line x1="282.02" y1="657.50" x2="282.02" y2="659.30" stroke="#111" stroke-width="0.5"/>
<line x1="297.12" y1="657.50" x2="297.12" y2="659.30" stroke="#111" stroke-width="0.5"/>
<line x1="283.55" y1="657.50" x2="283.55" y2="659.30" stroke="#111" stroke-width="0.5"/>
<line x1="298.60" y1="657.50" x2="298.60" y2="659.30" stroke="#111" stroke-width="0.5"/>
<line x1="285.08" y1="657.50" x2="285.08" y2="659.30" stroke="#111" stroke-width="0.5"/>
<line x1="300.08" y1="657.50" x2="300.08" y2="659.30" stroke="#111" stroke-width="0.5"/>
<line x1="286.61" y1="657.50" x2="286.61" y2="659.30" stroke="#111" stroke-width="0.5"/>
<line x1="301.56" y1="657.50" x2="301.56" y2="659.30" stroke="#111" stroke-width="0.5"/>
<line x1="288.14" y1="657.50" x2="288.14" y2="659.30" stroke="#111" stroke-width="0.5"/>
<line x1="303.04" y1="657.50" x2="303.04" y2="659.30" stroke="#111" stroke-width="0.5"/>
<line x1="289.67" y1="657.50" x2="289.67" y2="659.30" stroke="#111" stroke-width="0.5"/>
<line x1="304.52" y1="657.50" x2="304.52" y2="659.30" stroke="#111" stroke-width="0.5"/>
<line x1="362.98" y1="657.50" x2="362.98" y2="659.30" stroke="#111" stroke-width="0.5"/>
<text x="275.90" y="668.90" font-size="6.6" text-anchor="middle" fill="#333" stroke="#333" stroke-width="0.18">−10<tspan font-size="3.8" dy="-2.6">3</tspan></text>
<text x="291.20" y="668.90" font-size="6.6" text-anchor="middle" fill="#333" stroke="#333" stroke-width="0.18">0</text>
<text x="306.80" y="668.90" font-size="6.6" text-anchor="middle" fill="#333" stroke="#333" stroke-width="0.18">10<tspan font-size="3.8" dy="-2.6">3</tspan></text>
<text x="333.60" y="668.90" font-size="6.6" text-anchor="middle" fill="#333" stroke="#333" stroke-width="0.18">10<tspan font-size="3.8" dy="-2.6">4</tspan></text>
<text x="356.80" y="668.90" font-size="6.6" text-anchor="middle" fill="#333" stroke="#333" stroke-width="0.18">10<tspan font-size="3.8" dy="-2.6">5</tspan></text>
<line x1="313.50" y1="593.90" x2="364.00" y2="593.90" stroke="#555" stroke-width="0.9"/>
<line x1="313.50" y1="592.10" x2="313.50" y2="595.70" stroke="#555" stroke-width="0.9"/>
<line x1="364.00" y1="592.10" x2="364.00" y2="595.70" stroke="#555" stroke-width="0.9"/>
<text x="320.50" y="587.90" font-size="6.4" textLength="36.40" lengthAdjust="spacingAndGlyphs" fill="#333" stroke="#333" stroke-width="0.18">HbF+ 48.4%</text>
<text x="317.50" y="554.60" font-size="8.4" text-anchor="middle" textLength="28.00" lengthAdjust="spacingAndGlyphs" stroke="#222" stroke-width="0.08">sgBMI1</text>
<path d="M412.5 657.1 L413.6 651.4 L414.6 632.4 L415.9 594.3 L416.7 576.3 L417.8 577.4 L418.8 590.1 L420.1 607.0 L421.4 621.8 L423.1 636.6 L425.2 645.1 L427.3 651.4 L429.8 651.9 L431.5 653.1 L435.8 654.6 L442.1 655.7 L448.5 655.7 L452.7 655.2 L456.9 656.3 L461.2 657.1 Z" fill="#9a9cab" stroke="#3f4150" stroke-width="0.7" stroke-linejoin="round"/>
<rect x="392.4" y="559.4" width="97.30" height="97.70" fill="none" stroke="#111" stroke-width="1.3"/>
<line x1="389.40" y1="657.10" x2="392.40" y2="657.10" stroke="#111" stroke-width="0.9"/>
<text x="387.40" y="659.40" font-size="6.4" text-anchor="end" fill="#333" stroke="#333" stroke-width="0.18">0</text>
<line x1="389.40" y1="632.20" x2="392.40" y2="632.20" stroke="#111" stroke-width="0.9"/>
<text x="387.40" y="634.50" font-size="6.4" text-anchor="end" fill="#333" stroke="#333" stroke-width="0.18">50</text>
<line x1="389.40" y1="607.30" x2="392.40" y2="607.30" stroke="#111" stroke-width="0.9"/>
<text x="387.40" y="609.60" font-size="6.4" text-anchor="end" fill="#333" stroke="#333" stroke-width="0.18">100</text>
<line x1="389.40" y1="582.40" x2="392.40" y2="582.40" stroke="#111" stroke-width="0.9"/>
<text x="387.40" y="584.70" font-size="6.4" text-anchor="end" fill="#333" stroke="#333" stroke-width="0.18">150</text>
<line x1="390.60" y1="657.10" x2="392.40" y2="657.10" stroke="#111" stroke-width="0.6"/>
<line x1="390.60" y1="652.12" x2="392.40" y2="652.12" stroke="#111" stroke-width="0.6"/>
<line x1="390.60" y1="647.14" x2="392.40" y2="647.14" stroke="#111" stroke-width="0.6"/>
<line x1="390.60" y1="642.16" x2="392.40" y2="642.16" stroke="#111" stroke-width="0.6"/>
<line x1="390.60" y1="637.18" x2="392.40" y2="637.18" stroke="#111" stroke-width="0.6"/>
<line x1="390.60" y1="632.20" x2="392.40" y2="632.20" stroke="#111" stroke-width="0.6"/>
<line x1="390.60" y1="627.22" x2="392.40" y2="627.22" stroke="#111" stroke-width="0.6"/>
<line x1="390.60" y1="622.24" x2="392.40" y2="622.24" stroke="#111" stroke-width="0.6"/>
<line x1="390.60" y1="617.26" x2="392.40" y2="617.26" stroke="#111" stroke-width="0.6"/>
<line x1="390.60" y1="612.28" x2="392.40" y2="612.28" stroke="#111" stroke-width="0.6"/>
<line x1="390.60" y1="607.30" x2="392.40" y2="607.30" stroke="#111" stroke-width="0.6"/>
<line x1="390.60" y1="602.32" x2="392.40" y2="602.32" stroke="#111" stroke-width="0.6"/>
<line x1="390.60" y1="597.34" x2="392.40" y2="597.34" stroke="#111" stroke-width="0.6"/>
<line x1="390.60" y1="592.36" x2="392.40" y2="592.36" stroke="#111" stroke-width="0.6"/>
<line x1="390.60" y1="587.38" x2="392.40" y2="587.38" stroke="#111" stroke-width="0.6"/>
<line x1="390.60" y1="582.40" x2="392.40" y2="582.40" stroke="#111" stroke-width="0.6"/>
<line x1="390.60" y1="577.42" x2="392.40" y2="577.42" stroke="#111" stroke-width="0.6"/>
<line x1="390.60" y1="572.44" x2="392.40" y2="572.44" stroke="#111" stroke-width="0.6"/>
<line x1="390.60" y1="567.46" x2="392.40" y2="567.46" stroke="#111" stroke-width="0.6"/>
<line x1="390.60" y1="562.48" x2="392.40" y2="562.48" stroke="#111" stroke-width="0.6"/>
<line x1="398.90" y1="657.10" x2="398.90" y2="660.10" stroke="#111" stroke-width="0.9"/>
<line x1="414.60" y1="657.10" x2="414.60" y2="660.10" stroke="#111" stroke-width="0.9"/>
<line x1="429.20" y1="657.10" x2="429.20" y2="660.10" stroke="#111" stroke-width="0.9"/>
<line x1="456.00" y1="657.10" x2="456.00" y2="660.10" stroke="#111" stroke-width="0.9"/>
<line x1="479.30" y1="657.10" x2="479.30" y2="660.10" stroke="#111" stroke-width="0.9"/>
<line x1="463.01" y1="657.10" x2="463.01" y2="658.90" stroke="#111" stroke-width="0.5"/>
<line x1="437.27" y1="657.10" x2="437.27" y2="658.90" stroke="#111" stroke-width="0.5"/>
<line x1="467.12" y1="657.10" x2="467.12" y2="658.90" stroke="#111" stroke-width="0.5"/>
<line x1="441.99" y1="657.10" x2="441.99" y2="658.90" stroke="#111" stroke-width="0.5"/>
<line x1="470.03" y1="657.10" x2="470.03" y2="658.90" stroke="#111" stroke-width="0.5"/>
<line x1="445.34" y1="657.10" x2="445.34" y2="658.90" stroke="#111" stroke-width="0.5"/>
<line x1="472.29" y1="657.10" x2="472.29" y2="658.90" stroke="#111" stroke-width="0.5"/>
<line x1="447.93" y1="657.10" x2="447.93" y2="658.90" stroke="#111" stroke-width="0.5"/>
<line x1="474.13" y1="657.10" x2="474.13" y2="658.90" stroke="#111" stroke-width="0.5"/>
<line x1="450.05" y1="657.10" x2="450.05" y2="658.90" stroke="#111" stroke-width="0.5"/>
<line x1="475.69" y1="657.10" x2="475.69" y2="658.90" stroke="#111" stroke-width="0.5"/>
<line x1="451.85" y1="657.10" x2="451.85" y2="658.90" stroke="#111" stroke-width="0.5"/>
<line x1="477.04" y1="657.10" x2="477.04" y2="658.90" stroke="#111" stroke-width="0.5"/>
<line x1="453.40" y1="657.10" x2="453.40" y2="658.90" stroke="#111" stroke-width="0.5"/>
<line x1="478.23" y1="657.10" x2="478.23" y2="658.90" stroke="#111" stroke-width="0.5"/>
<line x1="454.77" y1="657.10" x2="454.77" y2="658.90" stroke="#111" stroke-width="0.5"/>
<line x1="400.47" y1="657.10" x2="400.47" y2="658.90" stroke="#111" stroke-width="0.5"/>
<line x1="416.06" y1="657.10" x2="416.06" y2="658.90" stroke="#111" stroke-width="0.5"/>
<line x1="402.04" y1="657.10" x2="402.04" y2="658.90" stroke="#111" stroke-width="0.5"/>
<line x1="417.52" y1="657.10" x2="417.52" y2="658.90" stroke="#111" stroke-width="0.5"/>
<line x1="403.61" y1="657.10" x2="403.61" y2="658.90" stroke="#111" stroke-width="0.5"/>
<line x1="418.98" y1="657.10" x2="418.98" y2="658.90" stroke="#111" stroke-width="0.5"/>
<line x1="405.18" y1="657.10" x2="405.18" y2="658.90" stroke="#111" stroke-width="0.5"/>
<line x1="420.44" y1="657.10" x2="420.44" y2="658.90" stroke="#111" stroke-width="0.5"/>
<line x1="406.75" y1="657.10" x2="406.75" y2="658.90" stroke="#111" stroke-width="0.5"/>
<line x1="421.90" y1="657.10" x2="421.90" y2="658.90" stroke="#111" stroke-width="0.5"/>
<line x1="408.32" y1="657.10" x2="408.32" y2="658.90" stroke="#111" stroke-width="0.5"/>
<line x1="423.36" y1="657.10" x2="423.36" y2="658.90" stroke="#111" stroke-width="0.5"/>
<line x1="409.89" y1="657.10" x2="409.89" y2="658.90" stroke="#111" stroke-width="0.5"/>
<line x1="424.82" y1="657.10" x2="424.82" y2="658.90" stroke="#111" stroke-width="0.5"/>
<line x1="411.46" y1="657.10" x2="411.46" y2="658.90" stroke="#111" stroke-width="0.5"/>
<line x1="426.28" y1="657.10" x2="426.28" y2="658.90" stroke="#111" stroke-width="0.5"/>
<line x1="413.03" y1="657.10" x2="413.03" y2="658.90" stroke="#111" stroke-width="0.5"/>
<line x1="427.74" y1="657.10" x2="427.74" y2="658.90" stroke="#111" stroke-width="0.5"/>
<line x1="486.31" y1="657.10" x2="486.31" y2="658.90" stroke="#111" stroke-width="0.5"/>
<text x="398.90" y="668.90" font-size="6.6" text-anchor="middle" fill="#333" stroke="#333" stroke-width="0.18">−10<tspan font-size="3.8" dy="-2.6">3</tspan></text>
<text x="414.60" y="668.90" font-size="6.6" text-anchor="middle" fill="#333" stroke="#333" stroke-width="0.18">0</text>
<text x="430.00" y="668.90" font-size="6.6" text-anchor="middle" fill="#333" stroke="#333" stroke-width="0.18">10<tspan font-size="3.8" dy="-2.6">3</tspan></text>
<text x="456.80" y="668.90" font-size="6.6" text-anchor="middle" fill="#333" stroke="#333" stroke-width="0.18">10<tspan font-size="3.8" dy="-2.6">4</tspan></text>
<text x="480.10" y="668.90" font-size="6.6" text-anchor="middle" fill="#333" stroke="#333" stroke-width="0.18">10<tspan font-size="3.8" dy="-2.6">5</tspan></text>
<line x1="436.80" y1="593.70" x2="487.00" y2="593.70" stroke="#555" stroke-width="0.9"/>
<line x1="436.80" y1="591.90" x2="436.80" y2="595.50" stroke="#555" stroke-width="0.9"/>
<line x1="487.00" y1="591.90" x2="487.00" y2="595.50" stroke="#555" stroke-width="0.9"/>
<text x="444.20" y="587.90" font-size="6.4" textLength="35.60" lengthAdjust="spacingAndGlyphs" fill="#333" stroke="#333" stroke-width="0.18">HbF+ 7.24%</text>
<text x="440.30" y="544.30" font-size="8.4" text-anchor="middle" textLength="46.70" lengthAdjust="spacingAndGlyphs" stroke="#222" stroke-width="0.08">sg(LIN28B +</text>
<text x="440.60" y="553.60" font-size="8.4" text-anchor="middle" textLength="66.30" lengthAdjust="spacingAndGlyphs" stroke="#222" stroke-width="0.08">BMI1 + IGF2BP1)</text>
<line x1="244.30" y1="647.50" x2="244.30" y2="437.00" stroke="#111" stroke-width="1.3"/>
<path d="M244.3 429.3 L240.1 439.0 L244.3 437.0 L248.5 439.0 Z" fill="#111"/>
<text x="246.50" y="662.70" font-size="7.4" text-anchor="middle" textLength="18.00" lengthAdjust="spacingAndGlyphs" fill="#333" stroke="#333" stroke-width="0.18" transform="rotate(-90 246.50 662.70)">Count</text>
<line x1="299.00" y1="679.30" x2="475.00" y2="679.30" stroke="#111" stroke-width="1.3"/>
<path d="M481.6 679.3 L472.1 675.2 L474.5 679.3 L472.1 683.4 Z" fill="#111"/>
<text x="269.00" y="681.50" font-size="7.4" textLength="26.00" lengthAdjust="spacingAndGlyphs" fill="#333" stroke="#333" stroke-width="0.18">HbF-APC</text>
<rect x="0.5" y="0.5" width="519" height="690" fill="none" stroke="#6a6a6a" stroke-width="1"/>
</svg></body></html>
